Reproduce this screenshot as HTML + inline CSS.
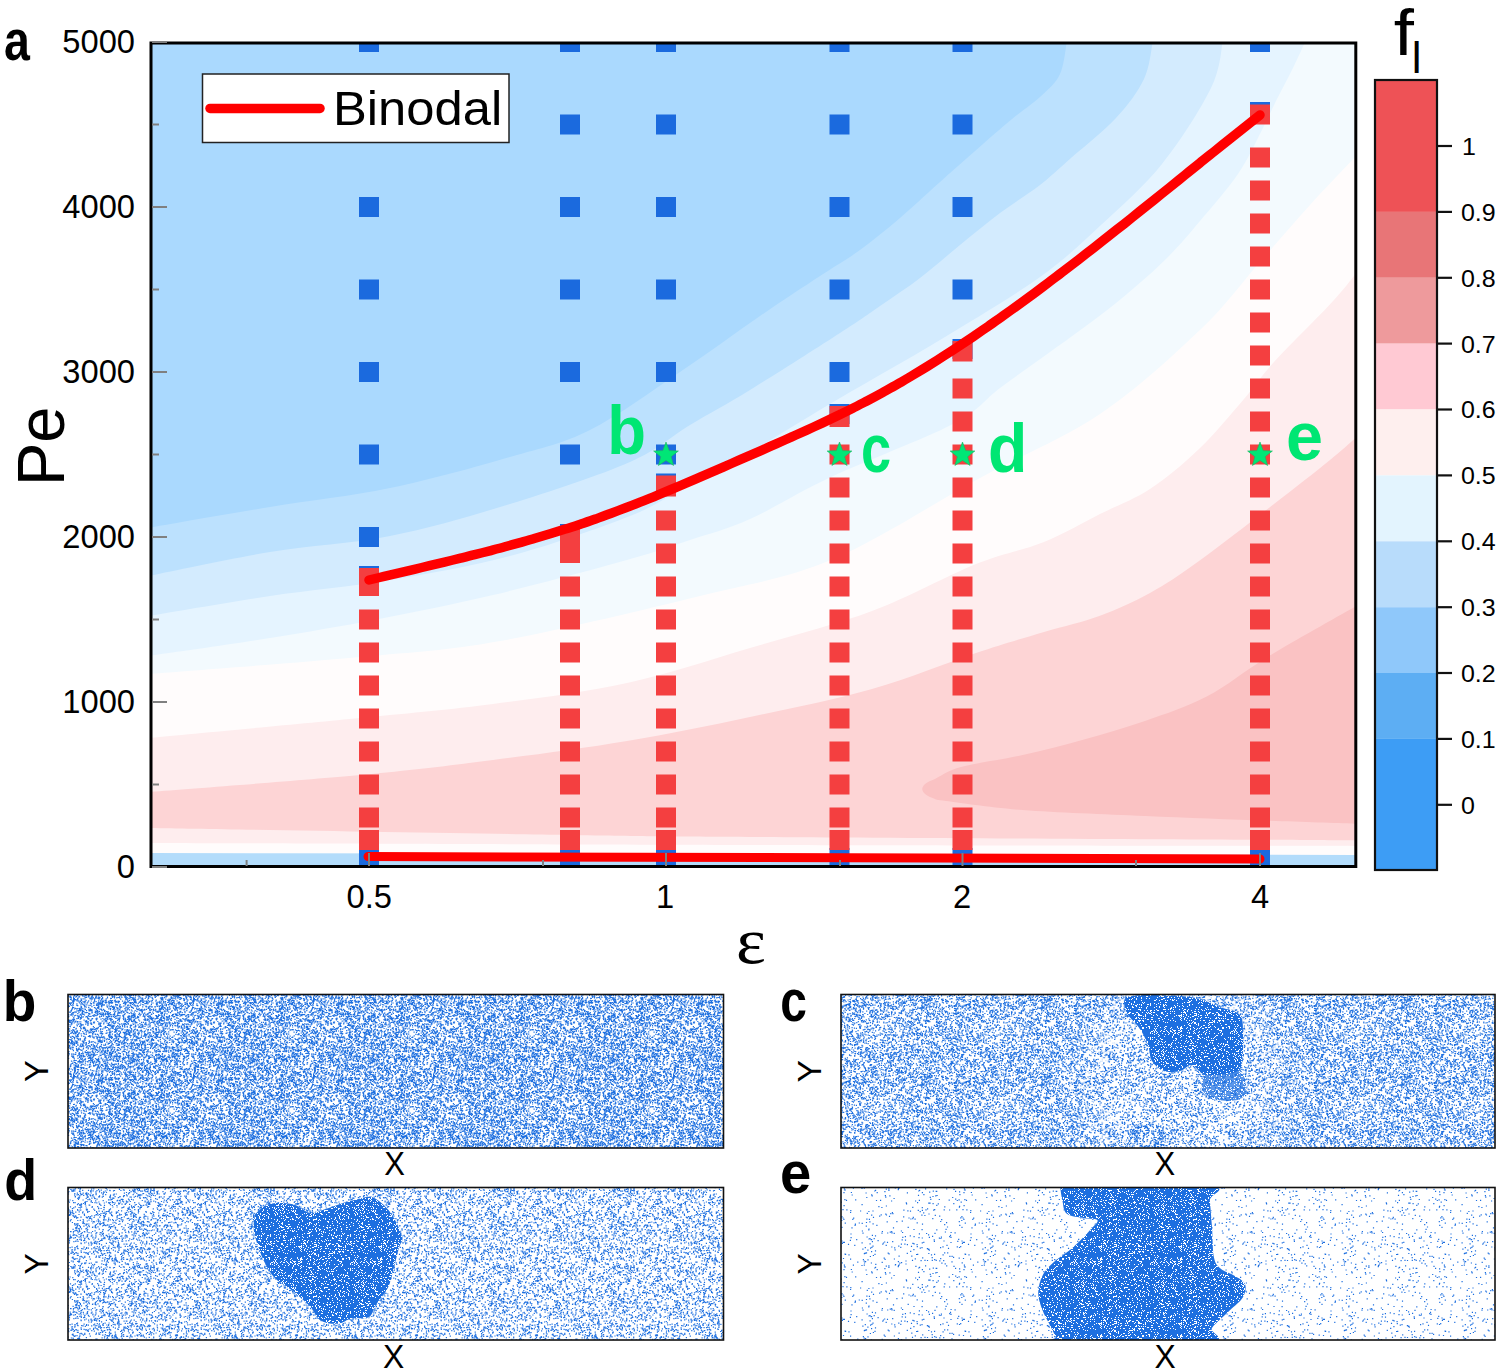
<!DOCTYPE html>
<html><head><meta charset="utf-8"><style>
html,body{margin:0;padding:0;background:#fff;}
body{width:1500px;height:1368px;position:relative;overflow:hidden;font-family:"Liberation Sans",sans-serif;}
</style></head><body>
<svg width="1500" height="1368" viewBox="0 0 1500 1368" style="position:absolute;left:0;top:0"><defs><clipPath id="plotclip"><rect x="151" y="43" width="1204" height="823"/></clipPath></defs><g clip-path="url(#plotclip)"><rect x="148" y="40" width="1212" height="830" fill="#aad9fe"/><path d="M148,528 C168.3,524.5 229.7,513.7 270,507 C310.3,500.3 350.0,496.3 390,488 C430.0,479.7 476.7,466.7 510,457 C543.3,447.3 561.7,444.2 590,430 C618.3,415.8 651.7,391.0 680,372 C708.3,353.0 736.7,332.0 760,316 C783.3,300.0 803.3,287.0 820,276 C836.7,265.0 846.7,259.7 860,250 C873.3,240.3 886.7,229.3 900,218 C913.3,206.7 922.3,197.7 940,182 C957.7,166.3 989.3,138.2 1006,124 C1022.7,109.8 1031.0,105.3 1040,97 C1049.0,88.7 1055.5,83.5 1060,74 C1064.5,64.5 1065.8,45.7 1067,40 L1360,40 L1360,870 L148,870 Z" fill="#bce1fe"/><path d="M148,576 C168.3,572.0 229.7,558.7 270,552 C310.3,545.3 350.0,544.0 390,536 C430.0,528.0 470.0,516.3 510,504 C550.0,491.7 600.0,475.2 630,462 C660.0,448.8 670.0,437.0 690,425 C710.0,413.0 725.0,405.3 750,390 C775.0,374.7 818.3,347.0 840,333 C861.7,319.0 866.7,315.2 880,306 C893.3,296.8 906.7,288.2 920,278 C933.3,267.8 946.7,255.8 960,245 C973.3,234.2 986.7,223.0 1000,213 C1013.3,203.0 1028.2,194.2 1040,185 C1051.8,175.8 1058.3,169.2 1071,158 C1083.7,146.8 1103.8,131.2 1116,118 C1128.2,104.8 1137.8,92.0 1144,79 C1150.2,66.0 1151.5,46.5 1153,40 L1360,40 L1360,870 L148,870 Z" fill="#d3ebfe"/><path d="M148,616 C168.3,612.7 229.7,602.0 270,596 C310.3,590.0 350.0,586.7 390,580 C430.0,573.3 470.0,566.7 510,556 C550.0,545.3 600.0,528.0 630,516 C660.0,504.0 670.0,494.7 690,484 C710.0,473.3 725.0,466.3 750,452 C775.0,437.7 808.3,416.7 840,398 C871.7,379.3 906.7,360.2 940,340 C973.3,319.8 1013.2,296.2 1040,277 C1066.8,257.8 1080.7,243.8 1101,225 C1121.3,206.2 1143.7,186.8 1162,164 C1180.3,141.2 1200.8,108.7 1211,88 C1221.2,67.3 1221.0,48.0 1223,40 L1360,40 L1360,870 L148,870 Z" fill="#e5f4ff"/><path d="M148,656 C168.3,653.0 231.5,644.2 270,638 C308.5,631.8 341.8,626.2 379,619 C416.2,611.8 451.7,604.8 493,595 C534.3,585.2 594.2,569.2 627,560 C659.8,550.8 669.5,546.8 690,540 C710.5,533.2 726.5,529.5 750,519 C773.5,508.5 797.2,492.8 831,477 C864.8,461.2 924.8,438.8 953,424 C981.2,409.2 983.8,400.0 1000,388 C1016.2,376.0 1035.0,362.8 1050,352 C1065.0,341.2 1077.2,332.7 1090,323 C1102.8,313.3 1114.2,304.8 1127,294 C1139.8,283.2 1154.8,270.2 1167,258 C1179.2,245.8 1188.2,235.0 1200,221 C1211.8,207.0 1227.7,189.2 1238,174 C1248.3,158.8 1255.5,142.5 1262,130 C1268.5,117.5 1271.8,109.3 1277,99 C1282.2,88.7 1288.2,77.8 1293,68 C1297.8,58.2 1303.8,44.7 1306,40 L1360,40 L1360,870 L148,870 Z" fill="#f3fafe"/><path d="M148,674 C183.3,671.2 301.3,662.5 360,657 C418.7,651.5 443.3,651.2 500,641 C556.7,630.8 644.5,609.7 700,596 C755.5,582.3 786.3,578.7 833,559 C879.7,539.3 935.5,502.2 980,478 C1024.5,453.8 1063.3,438.7 1100,414 C1136.7,389.3 1173.3,355.3 1200,330 C1226.7,304.7 1241.7,282.8 1260,262 C1278.3,241.2 1293.0,223.7 1310,205 C1327.0,186.3 1353.3,159.2 1362,150 L1360,870 L148,870 Z" fill="#fffcfc"/><path d="M148,738 C183.3,734.7 302.5,723.7 360,718 C417.5,712.3 448.5,709.8 493,704 C537.5,698.2 584.2,692.3 627,683 C669.8,673.7 709.2,660.0 750,648 C790.8,636.0 834.3,625.0 872,611 C909.7,597.0 947.3,575.5 976,564 C1004.7,552.5 1023.3,550.3 1044,542 C1064.7,533.7 1082.3,522.8 1100,514 C1117.7,505.2 1133.5,499.8 1150,489 C1166.5,478.2 1183.3,464.0 1199,449 C1214.7,434.0 1231.5,413.5 1244,399 C1256.5,384.5 1259.0,378.5 1274,362 C1289.0,345.5 1319.7,315.7 1334,300 C1348.3,284.3 1355.7,273.3 1360,268 L1360,870 L148,870 Z" fill="#feedee"/><path d="M148,792 C183.3,789.2 302.5,780.3 360,775 C417.5,769.7 448.5,765.7 493,760 C537.5,754.3 584.2,748.2 627,741 C669.8,733.8 709.2,725.7 750,717 C790.8,708.3 834.3,699.7 872,689 C909.7,678.3 947.3,662.5 976,653 C1004.7,643.5 1023.3,638.2 1044,632 C1064.7,625.8 1082.3,622.2 1100,615.7 C1117.7,609.2 1133.5,602.1 1150,593 C1166.5,583.9 1178.3,575.8 1199,561 C1219.7,546.2 1252.2,520.8 1274,504 C1295.8,487.2 1315.7,471.7 1330,460 C1344.3,448.3 1355.0,438.3 1360,434 L1360,870 L148,870 Z" fill="#fdd4d5"/><path d="M1360,604 C1344.7,612.8 1293.5,641.3 1268,656.7 C1242.5,672.1 1227.2,685.9 1206.7,696.6 C1186.2,707.3 1165.5,713.9 1145,721 C1124.5,728.1 1104.4,733.8 1084,739.5 C1063.6,745.2 1043.2,750.4 1022.7,755 C1002.2,759.6 975.6,763.0 961,767 C946.4,771.0 939.3,777.0 935,779 C918,785 918,793 935,799  C936.8,799.3 931.4,799.2 946,801 C960.6,802.8 989.5,807.5 1022.7,810 C1055.9,812.5 1104.1,814.2 1145,816 C1185.9,817.8 1232.2,819.5 1268,820.8 C1303.8,822.1 1344.7,823.5 1360,824 Z" fill="#fac2c3"/><path d="M148,828 C218.3,829.2 468.0,833.5 570,835 C672.0,836.5 638.3,836.2 760,837 C881.7,837.8 1200.0,839.5 1300,840 C1400.0,840.5 1350.0,840.0 1360,840 L1360,870 L148,870 Z" fill="#feedee"/><path d="M148,843 C250.0,843.3 558.0,844.5 760,845 C962.0,845.5 1260.0,845.8 1360,846 L1360,870 L148,870 Z" fill="#fffcfc"/><polygon points="148,853 1360,855 1360,870 148,870" fill="#b3dcfb"/><rect x="359" y="32.0" width="20" height="20" fill="#1b6ade"/><rect x="359" y="197.0" width="20" height="20" fill="#1b6ade"/><rect x="359" y="279.5" width="20" height="20" fill="#1b6ade"/><rect x="359" y="362.0" width="20" height="20" fill="#1b6ade"/><rect x="359" y="444.5" width="20" height="20" fill="#1b6ade"/><rect x="359" y="527.0" width="20" height="20" fill="#1b6ade"/><rect x="359" y="566" width="20" height="20" fill="#1b6ade"/><rect x="359" y="568" width="20" height="28" fill="#f43f40"/><rect x="359" y="609.5" width="20" height="20" fill="#f43f40"/><rect x="359" y="642.5" width="20" height="20" fill="#f43f40"/><rect x="359" y="675.5" width="20" height="20" fill="#f43f40"/><rect x="359" y="708.5" width="20" height="20" fill="#f43f40"/><rect x="359" y="741.5" width="20" height="20" fill="#f43f40"/><rect x="359" y="774.5" width="20" height="20" fill="#f43f40"/><rect x="359" y="807.5" width="20" height="20" fill="#f43f40"/><rect x="359" y="848" width="20" height="20" fill="#1b6ade"/><rect x="359" y="830" width="20" height="20" fill="#f43f40"/><rect x="560" y="32.0" width="20" height="20" fill="#1b6ade"/><rect x="560" y="114.5" width="20" height="20" fill="#1b6ade"/><rect x="560" y="197.0" width="20" height="20" fill="#1b6ade"/><rect x="560" y="279.5" width="20" height="20" fill="#1b6ade"/><rect x="560" y="362.0" width="20" height="20" fill="#1b6ade"/><rect x="560" y="444.5" width="20" height="20" fill="#1b6ade"/><rect x="560" y="524" width="20" height="20" fill="#1b6ade"/><rect x="560" y="526" width="20" height="37" fill="#f43f40"/><rect x="560" y="576.5" width="20" height="20" fill="#f43f40"/><rect x="560" y="609.5" width="20" height="20" fill="#f43f40"/><rect x="560" y="642.5" width="20" height="20" fill="#f43f40"/><rect x="560" y="675.5" width="20" height="20" fill="#f43f40"/><rect x="560" y="708.5" width="20" height="20" fill="#f43f40"/><rect x="560" y="741.5" width="20" height="20" fill="#f43f40"/><rect x="560" y="774.5" width="20" height="20" fill="#f43f40"/><rect x="560" y="807.5" width="20" height="20" fill="#f43f40"/><rect x="560" y="848" width="20" height="20" fill="#1b6ade"/><rect x="560" y="830" width="20" height="20" fill="#f43f40"/><rect x="656" y="32.0" width="20" height="20" fill="#1b6ade"/><rect x="656" y="114.5" width="20" height="20" fill="#1b6ade"/><rect x="656" y="197.0" width="20" height="20" fill="#1b6ade"/><rect x="656" y="279.5" width="20" height="20" fill="#1b6ade"/><rect x="656" y="362.0" width="20" height="20" fill="#1b6ade"/><rect x="656" y="444.5" width="20" height="20" fill="#1b6ade"/><rect x="656" y="473.5" width="20" height="20" fill="#1b6ade"/><rect x="656" y="475.5" width="20" height="21.0" fill="#f43f40"/><rect x="656" y="510.5" width="20" height="20" fill="#f43f40"/><rect x="656" y="543.5" width="20" height="20" fill="#f43f40"/><rect x="656" y="576.5" width="20" height="20" fill="#f43f40"/><rect x="656" y="609.5" width="20" height="20" fill="#f43f40"/><rect x="656" y="642.5" width="20" height="20" fill="#f43f40"/><rect x="656" y="675.5" width="20" height="20" fill="#f43f40"/><rect x="656" y="708.5" width="20" height="20" fill="#f43f40"/><rect x="656" y="741.5" width="20" height="20" fill="#f43f40"/><rect x="656" y="774.5" width="20" height="20" fill="#f43f40"/><rect x="656" y="807.5" width="20" height="20" fill="#f43f40"/><rect x="656" y="848" width="20" height="20" fill="#1b6ade"/><rect x="656" y="830" width="20" height="20" fill="#f43f40"/><rect x="829.5" y="32.0" width="20" height="20" fill="#1b6ade"/><rect x="829.5" y="114.5" width="20" height="20" fill="#1b6ade"/><rect x="829.5" y="197.0" width="20" height="20" fill="#1b6ade"/><rect x="829.5" y="279.5" width="20" height="20" fill="#1b6ade"/><rect x="829.5" y="362.0" width="20" height="20" fill="#1b6ade"/><rect x="829.5" y="404" width="20" height="20" fill="#1b6ade"/><rect x="829.5" y="406" width="20" height="21" fill="#f43f40"/><rect x="829.5" y="444.5" width="20" height="20" fill="#f43f40"/><rect x="829.5" y="477.5" width="20" height="20" fill="#f43f40"/><rect x="829.5" y="510.5" width="20" height="20" fill="#f43f40"/><rect x="829.5" y="543.5" width="20" height="20" fill="#f43f40"/><rect x="829.5" y="576.5" width="20" height="20" fill="#f43f40"/><rect x="829.5" y="609.5" width="20" height="20" fill="#f43f40"/><rect x="829.5" y="642.5" width="20" height="20" fill="#f43f40"/><rect x="829.5" y="675.5" width="20" height="20" fill="#f43f40"/><rect x="829.5" y="708.5" width="20" height="20" fill="#f43f40"/><rect x="829.5" y="741.5" width="20" height="20" fill="#f43f40"/><rect x="829.5" y="774.5" width="20" height="20" fill="#f43f40"/><rect x="829.5" y="807.5" width="20" height="20" fill="#f43f40"/><rect x="829.5" y="848" width="20" height="20" fill="#1b6ade"/><rect x="829.5" y="830" width="20" height="20" fill="#f43f40"/><rect x="952.5" y="32.0" width="20" height="20" fill="#1b6ade"/><rect x="952.5" y="114.5" width="20" height="20" fill="#1b6ade"/><rect x="952.5" y="197.0" width="20" height="20" fill="#1b6ade"/><rect x="952.5" y="279.5" width="20" height="20" fill="#1b6ade"/><rect x="952.5" y="339" width="20" height="20" fill="#1b6ade"/><rect x="952.5" y="341" width="20" height="20.5" fill="#f43f40"/><rect x="952.5" y="378.5" width="20" height="20" fill="#f43f40"/><rect x="952.5" y="411.5" width="20" height="20" fill="#f43f40"/><rect x="952.5" y="444.5" width="20" height="20" fill="#f43f40"/><rect x="952.5" y="477.5" width="20" height="20" fill="#f43f40"/><rect x="952.5" y="510.5" width="20" height="20" fill="#f43f40"/><rect x="952.5" y="543.5" width="20" height="20" fill="#f43f40"/><rect x="952.5" y="576.5" width="20" height="20" fill="#f43f40"/><rect x="952.5" y="609.5" width="20" height="20" fill="#f43f40"/><rect x="952.5" y="642.5" width="20" height="20" fill="#f43f40"/><rect x="952.5" y="675.5" width="20" height="20" fill="#f43f40"/><rect x="952.5" y="708.5" width="20" height="20" fill="#f43f40"/><rect x="952.5" y="741.5" width="20" height="20" fill="#f43f40"/><rect x="952.5" y="774.5" width="20" height="20" fill="#f43f40"/><rect x="952.5" y="807.5" width="20" height="20" fill="#f43f40"/><rect x="952.5" y="848" width="20" height="20" fill="#1b6ade"/><rect x="952.5" y="830" width="20" height="20" fill="#f43f40"/><rect x="1250" y="32.0" width="20" height="20" fill="#1b6ade"/><rect x="1250" y="102" width="20" height="20" fill="#1b6ade"/><rect x="1250" y="104.5" width="20" height="20.0" fill="#f43f40"/><rect x="1250" y="147.5" width="20" height="20" fill="#f43f40"/><rect x="1250" y="180.5" width="20" height="20" fill="#f43f40"/><rect x="1250" y="213.5" width="20" height="20" fill="#f43f40"/><rect x="1250" y="246.5" width="20" height="20" fill="#f43f40"/><rect x="1250" y="279.5" width="20" height="20" fill="#f43f40"/><rect x="1250" y="312.5" width="20" height="20" fill="#f43f40"/><rect x="1250" y="345.5" width="20" height="20" fill="#f43f40"/><rect x="1250" y="378.5" width="20" height="20" fill="#f43f40"/><rect x="1250" y="411.5" width="20" height="20" fill="#f43f40"/><rect x="1250" y="444.5" width="20" height="20" fill="#f43f40"/><rect x="1250" y="477.5" width="20" height="20" fill="#f43f40"/><rect x="1250" y="510.5" width="20" height="20" fill="#f43f40"/><rect x="1250" y="543.5" width="20" height="20" fill="#f43f40"/><rect x="1250" y="576.5" width="20" height="20" fill="#f43f40"/><rect x="1250" y="609.5" width="20" height="20" fill="#f43f40"/><rect x="1250" y="642.5" width="20" height="20" fill="#f43f40"/><rect x="1250" y="675.5" width="20" height="20" fill="#f43f40"/><rect x="1250" y="708.5" width="20" height="20" fill="#f43f40"/><rect x="1250" y="741.5" width="20" height="20" fill="#f43f40"/><rect x="1250" y="774.5" width="20" height="20" fill="#f43f40"/><rect x="1250" y="807.5" width="20" height="20" fill="#f43f40"/><rect x="1250" y="848" width="20" height="20" fill="#1b6ade"/><rect x="1250" y="830" width="20" height="20" fill="#f43f40"/></g><path d="M369.0,580.0 C371.5,579.4 379.1,577.6 384.1,576.4 C389.1,575.2 394.2,574.1 399.2,572.9 C404.2,571.7 409.3,570.5 414.3,569.3 C419.3,568.1 424.4,566.9 429.4,565.7 C434.4,564.5 439.5,563.3 444.5,562.1 C449.5,560.9 454.6,559.6 459.6,558.4 C464.6,557.2 469.7,556.0 474.7,554.7 C479.7,553.4 484.8,552.1 489.8,550.8 C494.8,549.5 499.9,548.2 504.9,546.8 C509.9,545.4 515.0,544.0 520.0,542.6 C525.0,541.2 530.1,539.8 535.1,538.3 C540.1,536.8 545.2,535.3 550.2,533.8 C555.2,532.3 560.3,530.7 565.3,529.1 C570.3,527.5 575.4,525.9 580.4,524.2 C585.4,522.5 590.5,520.8 595.5,519.0 C600.5,517.2 605.6,515.4 610.6,513.5 C615.6,511.6 620.7,509.7 625.7,507.8 C630.7,505.9 635.8,503.9 640.8,501.9 C645.8,499.9 650.9,497.9 655.9,495.8 C660.9,493.7 666.0,491.6 671.0,489.5 C676.0,487.4 681.1,485.2 686.1,483.1 C691.1,481.0 696.2,478.8 701.2,476.6 C706.2,474.4 711.3,472.3 716.3,470.1 C721.3,467.9 726.4,465.7 731.4,463.5 C736.4,461.3 741.5,459.1 746.5,456.9 C751.5,454.7 756.6,452.5 761.6,450.3 C766.6,448.1 771.7,445.8 776.7,443.6 C781.7,441.4 786.8,439.1 791.8,436.9 C796.8,434.6 801.8,432.4 806.9,430.1 C812.0,427.8 817.0,425.5 822.1,423.1 C827.2,420.7 832.2,418.3 837.2,415.9 C842.2,413.5 847.3,411.0 852.3,408.5 C857.3,406.0 862.4,403.3 867.4,400.7 C872.4,398.1 877.5,395.4 882.5,392.6 C887.5,389.8 892.6,387.0 897.6,384.1 C902.6,381.2 907.7,378.3 912.7,375.3 C917.7,372.3 922.8,369.2 927.8,366.1 C932.8,363.0 937.9,359.8 942.9,356.6 C947.9,353.4 953.0,350.1 958.0,346.8 C963.0,343.5 968.1,340.1 973.1,336.7 C978.1,333.3 983.2,329.8 988.2,326.3 C993.2,322.8 998.3,319.3 1003.3,315.7 C1008.3,312.1 1013.4,308.4 1018.4,304.8 C1023.4,301.2 1028.5,297.5 1033.5,293.8 C1038.5,290.1 1043.6,286.3 1048.6,282.5 C1053.6,278.7 1058.7,274.9 1063.7,271.0 C1068.7,267.1 1073.8,263.3 1078.8,259.4 C1083.8,255.5 1088.9,251.6 1093.9,247.7 C1098.9,243.8 1104.0,239.8 1109.0,235.8 C1114.0,231.8 1119.1,227.9 1124.1,223.9 C1129.1,219.9 1134.2,215.8 1139.2,211.8 C1144.2,207.8 1149.3,203.7 1154.3,199.7 C1159.3,195.7 1164.4,191.6 1169.4,187.6 C1174.4,183.6 1179.5,179.5 1184.5,175.4 C1189.5,171.3 1194.6,167.2 1199.6,163.2 C1204.6,159.1 1209.7,155.1 1214.7,151.1 C1219.7,147.1 1224.8,143.0 1229.8,139.0 C1234.8,135.0 1239.9,131.0 1244.9,127.0 C1249.9,123.0 1257.5,117.0 1260.0,115.0" fill="none" stroke="#ff0000" stroke-width="9.5" stroke-linecap="round" stroke-linejoin="round"/><line x1="368" y1="856.5" x2="1260" y2="859" stroke="#ff0000" stroke-width="9" stroke-linecap="round"/><polygon points="666.0,442.0 669.2,450.6 678.4,451.0 671.2,456.7 673.6,465.5 666.0,460.5 658.4,465.5 660.8,456.7 653.6,451.0 662.8,450.6" fill="#00e676" stroke="#22b060" stroke-width="0.6"/><polygon points="839.5,442.0 842.7,450.6 851.9,451.0 844.7,456.7 847.1,465.5 839.5,460.5 831.9,465.5 834.3,456.7 827.1,451.0 836.3,450.6" fill="#00e676" stroke="#22b060" stroke-width="0.6"/><polygon points="962.5,442.0 965.7,450.6 974.9,451.0 967.7,456.7 970.1,465.5 962.5,460.5 954.9,465.5 957.3,456.7 950.1,451.0 959.3,450.6" fill="#00e676" stroke="#22b060" stroke-width="0.6"/><polygon points="1260.0,442.0 1263.2,450.6 1272.4,451.0 1265.2,456.7 1267.6,465.5 1260.0,460.5 1252.4,465.5 1254.8,456.7 1247.6,451.0 1256.8,450.6" fill="#00e676" stroke="#22b060" stroke-width="0.6"/><rect x="151" y="43" width="1204.8" height="823.5" fill="none" stroke="#000" stroke-width="3"/><line x1="152" y1="867.0" x2="167" y2="867.0" stroke="#808080" stroke-width="2"/><line x1="152" y1="784.5" x2="159" y2="784.5" stroke="#808080" stroke-width="2"/><line x1="152" y1="702.0" x2="167" y2="702.0" stroke="#808080" stroke-width="2"/><line x1="152" y1="619.5" x2="159" y2="619.5" stroke="#808080" stroke-width="2"/><line x1="152" y1="537.0" x2="167" y2="537.0" stroke="#808080" stroke-width="2"/><line x1="152" y1="454.5" x2="159" y2="454.5" stroke="#808080" stroke-width="2"/><line x1="152" y1="372.0" x2="167" y2="372.0" stroke="#808080" stroke-width="2"/><line x1="152" y1="289.5" x2="159" y2="289.5" stroke="#808080" stroke-width="2"/><line x1="152" y1="207.0" x2="167" y2="207.0" stroke="#808080" stroke-width="2"/><line x1="152" y1="124.5" x2="159" y2="124.5" stroke="#808080" stroke-width="2"/><line x1="152" y1="42.0" x2="167" y2="42.0" stroke="#808080" stroke-width="2"/><line x1="246.6" y1="866" x2="246.6" y2="860" stroke="#808080" stroke-width="2"/><line x1="369" y1="866" x2="369" y2="853" stroke="#808080" stroke-width="2"/><line x1="543" y1="866" x2="543" y2="860" stroke="#808080" stroke-width="2"/><line x1="666" y1="866" x2="666" y2="853" stroke="#808080" stroke-width="2"/><line x1="840" y1="866" x2="840" y2="860" stroke="#808080" stroke-width="2"/><line x1="962.5" y1="866" x2="962.5" y2="853" stroke="#808080" stroke-width="2"/><line x1="1136" y1="866" x2="1136" y2="860" stroke="#808080" stroke-width="2"/><line x1="1260" y1="866" x2="1260" y2="853" stroke="#808080" stroke-width="2"/><rect x="202.5" y="74" width="306.5" height="68.5" fill="#fff" stroke="#222" stroke-width="1.5"/><line x1="210" y1="108.4" x2="320" y2="108.4" stroke="#ff0000" stroke-width="9.5" stroke-linecap="round"/><rect x="1375" y="80.0" width="62" height="131.9" fill="#ee5256"/><rect x="1375" y="211.9" width="62" height="65.9" fill="#e87577"/><rect x="1375" y="277.8" width="62" height="65.9" fill="#ee9a9c"/><rect x="1375" y="343.6" width="62" height="65.9" fill="#ffc9d3"/><rect x="1375" y="409.5" width="62" height="65.9" fill="#feefee"/><rect x="1375" y="475.4" width="62" height="65.9" fill="#e3f4fe"/><rect x="1375" y="541.3" width="62" height="65.9" fill="#b8dcfb"/><rect x="1375" y="607.2" width="62" height="65.9" fill="#8fc8fa"/><rect x="1375" y="673.0" width="62" height="65.9" fill="#5daef3"/><rect x="1375" y="738.9" width="62" height="131.1" fill="#3d9df5"/><rect x="1375" y="80" width="62" height="790" fill="none" stroke="#111" stroke-width="2.2"/><line x1="1437" y1="146.0" x2="1452" y2="146.0" stroke="#111" stroke-width="2.2"/><line x1="1437" y1="211.9" x2="1452" y2="211.9" stroke="#111" stroke-width="2.2"/><line x1="1437" y1="277.8" x2="1452" y2="277.8" stroke="#111" stroke-width="2.2"/><line x1="1437" y1="343.6" x2="1452" y2="343.6" stroke="#111" stroke-width="2.2"/><line x1="1437" y1="409.5" x2="1452" y2="409.5" stroke="#111" stroke-width="2.2"/><line x1="1437" y1="475.4" x2="1452" y2="475.4" stroke="#111" stroke-width="2.2"/><line x1="1437" y1="541.3" x2="1452" y2="541.3" stroke="#111" stroke-width="2.2"/><line x1="1437" y1="607.2" x2="1452" y2="607.2" stroke="#111" stroke-width="2.2"/><line x1="1437" y1="673.0" x2="1452" y2="673.0" stroke="#111" stroke-width="2.2"/><line x1="1437" y1="738.9" x2="1452" y2="738.9" stroke="#111" stroke-width="2.2"/><line x1="1437" y1="804.8" x2="1452" y2="804.8" stroke="#111" stroke-width="2.2"/></svg>
<svg width="1500" height="1368" style="position:absolute;left:0;top:0"><defs><pattern id="patb" width="120" height="77" patternUnits="userSpaceOnUse"><path transform="scale(0.1)" d="M1132 570h12v12h-12zM431 581h12v12h-12zM942 595h12v12h-12zM710 220h12v12h-12zM353 766h12v12h-12zM353 -4h12v12h-12zM1107 494h12v12h-12zM1043 531h12v12h-12zM437 700h12v12h-12zM1168 698h12v12h-12zM269 174h12v12h-12zM967 509h12v12h-12zM817 594h12v12h-12zM565 380h12v12h-12zM37 321h12v12h-12zM1074 589h12v12h-12zM688 401h12v12h-12zM468 86h12v12h-12zM426 266h12v12h-12zM782 159h12v12h-12zM416 679h12v12h-12zM609 486h12v12h-12zM445 391h12v12h-12zM66 80h12v12h-12zM300 435h12v12h-12zM1009 630h12v12h-12zM982 53h12v12h-12zM801 436h12v12h-12zM565 609h12v12h-12zM1164 30h12v12h-12zM1008 743h12v12h-12zM294 349h12v12h-12zM681 457h12v12h-12zM1147 508h12v12h-12zM943 641h12v12h-12zM443 312h12v12h-12zM564 78h12v12h-12zM621 613h12v12h-12zM1082 125h12v12h-12zM857 461h12v12h-12zM478 29h12v12h-12zM554 128h12v12h-12zM111 654h12v12h-12zM590 567h12v12h-12zM275 12h12v12h-12zM112 519h12v12h-12zM110 238h12v12h-12zM259 529h12v12h-12zM839 687h12v12h-12zM215 106h12v12h-12zM682 42h12v12h-12zM723 280h12v12h-12zM1160 556h12v12h-12zM550 521h12v12h-12zM929 313h12v12h-12zM42 255h12v12h-12zM774 695h12v12h-12zM1176 653h12v12h-12zM57 229h12v12h-12zM1089 584h12v12h-12zM187 603h12v12h-12zM810 343h12v12h-12zM30 706h12v12h-12zM74 36h12v12h-12zM162 533h12v12h-12zM1082 271h12v12h-12zM939 300h12v12h-12zM794 616h12v12h-12zM779 325h12v12h-12zM353 528h12v12h-12zM634 635h12v12h-12zM578 430h12v12h-12zM1141 131h12v12h-12zM545 371h12v12h-12zM896 507h12v12h-12zM430 1h12v12h-12zM1111 572h12v12h-12zM1023 689h12v12h-12zM1190 52h12v12h-12zM-10 52h12v12h-12zM272 587h12v12h-12zM1044 90h12v12h-12zM572 212h12v12h-12zM611 138h12v12h-12zM650 326h12v12h-12zM110 164h12v12h-12zM1057 516h12v12h-12zM725 604h12v12h-12zM126 326h12v12h-12zM887 566h12v12h-12zM136 146h12v12h-12zM457 431h12v12h-12zM803 33h12v12h-12zM558 446h12v12h-12zM78 549h12v12h-12zM747 652h12v12h-12zM440 167h12v12h-12zM458 455h12v12h-12zM196 421h12v12h-12zM221 53h12v12h-12zM1192 469h12v12h-12zM-8 469h12v12h-12zM725 5h12v12h-12zM705 381h12v12h-12zM937 281h12v12h-12zM460 586h12v12h-12zM185 7h12v12h-12zM729 196h12v12h-12zM486 363h12v12h-12zM484 474h12v12h-12zM105 572h12v12h-12zM505 488h12v12h-12zM62 291h12v12h-12zM1082 137h12v12h-12zM450 299h12v12h-12zM858 671h12v12h-12zM706 674h12v12h-12zM528 38h12v12h-12zM406 622h12v12h-12zM38 234h12v12h-12zM786 6h12v12h-12zM119 29h12v12h-12zM282 555h12v12h-12zM1151 765h12v12h-12zM1151 -5h12v12h-12zM451 579h12v12h-12zM435 616h12v12h-12zM828 259h12v12h-12zM324 388h12v12h-12zM442 212h12v12h-12zM369 197h12v12h-12zM834 688h12v12h-12zM93 650h12v12h-12zM457 40h12v12h-12zM1197 251h12v12h-12zM-3 251h12v12h-12zM769 200h12v12h-12zM570 632h12v12h-12zM347 728h12v12h-12zM27 558h12v12h-12zM1091 296h12v12h-12zM1105 767h12v12h-12zM1105 -3h12v12h-12zM1174 138h12v12h-12zM575 553h12v12h-12zM712 290h12v12h-12zM347 595h12v12h-12zM994 612h12v12h-12zM699 749h12v12h-12zM356 290h12v12h-12zM354 309h12v12h-12zM427 14h12v12h-12zM805 225h12v12h-12zM923 503h12v12h-12zM124 120h12v12h-12zM1115 628h12v12h-12zM904 310h12v12h-12zM966 95h12v12h-12zM237 435h12v12h-12zM171 160h12v12h-12zM881 171h12v12h-12zM1127 456h12v12h-12zM416 527h12v12h-12zM120 592h12v12h-12zM392 571h12v12h-12zM1005 76h12v12h-12zM989 383h12v12h-12zM281 726h12v12h-12zM186 523h12v12h-12zM595 446h12v12h-12zM385 241h12v12h-12zM1021 320h12v12h-12zM558 522h12v12h-12zM272 746h12v12h-12zM517 455h12v12h-12zM267 185h12v12h-12zM845 24h12v12h-12zM1166 729h12v12h-12zM730 737h12v12h-12zM285 309h12v12h-12zM974 57h12v12h-12zM438 292h12v12h-12zM106 753h12v12h-12zM184 437h12v12h-12zM445 103h12v12h-12zM1002 272h12v12h-12zM272 24h12v12h-12zM939 596h12v12h-12zM99 10h12v12h-12zM1008 306h12v12h-12zM858 489h12v12h-12zM106 51h12v12h-12zM51 313h12v12h-12zM302 461h12v12h-12zM215 91h12v12h-12zM777 168h12v12h-12zM565 123h12v12h-12zM688 106h12v12h-12zM342 573h12v12h-12zM1174 395h12v12h-12zM123 519h12v12h-12zM796 445h12v12h-12zM638 761h12v12h-12zM638 -9h12v12h-12zM1188 225h12v12h-12zM1146 349h12v12h-12zM576 9h12v12h-12zM538 606h12v12h-12zM428 320h12v12h-12zM206 483h12v12h-12zM818 111h12v12h-12zM1064 665h12v12h-12zM571 653h12v12h-12zM1101 359h12v12h-12zM294 315h12v12h-12zM320 538h12v12h-12zM1146 200h12v12h-12zM1103 268h12v12h-12zM615 437h12v12h-12zM661 394h12v12h-12zM424 756h12v12h-12zM34 457h12v12h-12zM450 1h12v12h-12zM1182 437h12v12h-12zM610 258h12v12h-12zM969 361h12v12h-12zM193 2h12v12h-12zM881 296h12v12h-12zM708 93h12v12h-12zM1184 550h12v12h-12zM374 387h12v12h-12zM560 582h12v12h-12zM326 313h12v12h-12zM885 659h12v12h-12zM82 201h12v12h-12zM878 464h12v12h-12zM1001 397h12v12h-12zM298 312h12v12h-12zM430 328h12v12h-12zM415 711h12v12h-12zM1052 650h12v12h-12zM187 115h12v12h-12zM1097 109h12v12h-12zM111 709h12v12h-12zM44 282h12v12h-12zM974 263h12v12h-12zM78 223h12v12h-12zM682 148h12v12h-12zM621 281h12v12h-12zM1063 8h12v12h-12zM809 342h12v12h-12zM1179 377h12v12h-12zM818 396h12v12h-12zM401 553h12v12h-12zM1125 257h12v12h-12zM95 339h12v12h-12zM819 101h12v12h-12zM130 585h12v12h-12zM215 298h12v12h-12zM464 123h12v12h-12zM600 71h12v12h-12zM64 8h12v12h-12zM487 223h12v12h-12zM644 478h12v12h-12zM335 560h12v12h-12zM487 575h12v12h-12zM935 606h12v12h-12zM229 576h12v12h-12zM371 151h12v12h-12zM331 299h12v12h-12zM299 150h12v12h-12zM45 369h12v12h-12zM1148 5h12v12h-12zM610 739h12v12h-12zM392 767h12v12h-12zM392 -3h12v12h-12zM1057 151h12v12h-12zM26 497h12v12h-12zM127 749h12v12h-12zM23 583h12v12h-12zM37 438h12v12h-12zM3 59h12v12h-12zM730 430h12v12h-12zM861 192h12v12h-12zM425 293h12v12h-12zM1114 205h12v12h-12zM907 764h12v12h-12zM907 -6h12v12h-12zM1186 665h12v12h-12zM922 502h12v12h-12zM627 698h12v12h-12zM67 63h12v12h-12zM144 140h12v12h-12zM392 640h12v12h-12zM163 464h12v12h-12zM765 489h12v12h-12zM83 595h12v12h-12zM651 472h12v12h-12zM436 333h12v12h-12zM461 156h12v12h-12zM95 719h12v12h-12zM863 451h12v12h-12zM917 469h12v12h-12zM383 554h12v12h-12zM452 745h12v12h-12zM831 445h12v12h-12zM158 493h12v12h-12zM737 258h12v12h-12zM411 607h12v12h-12zM841 767h12v12h-12zM841 -3h12v12h-12zM763 170h12v12h-12zM374 532h12v12h-12zM336 200h12v12h-12zM470 663h12v12h-12zM355 434h12v12h-12zM911 745h12v12h-12zM949 502h12v12h-12zM595 446h12v12h-12zM284 620h12v12h-12zM591 292h12v12h-12zM908 430h12v12h-12zM655 558h12v12h-12zM19 765h12v12h-12zM19 -5h12v12h-12zM105 566h12v12h-12zM461 689h12v12h-12zM1011 702h12v12h-12zM513 537h12v12h-12zM748 687h12v12h-12zM677 507h12v12h-12zM97 684h12v12h-12zM573 331h12v12h-12zM518 588h12v12h-12zM550 744h12v12h-12zM1093 147h12v12h-12zM359 249h12v12h-12zM1173 688h12v12h-12zM566 570h12v12h-12zM573 553h12v12h-12zM855 205h12v12h-12zM573 234h12v12h-12zM71 39h12v12h-12zM675 194h12v12h-12zM104 108h12v12h-12zM1115 50h12v12h-12zM374 6h12v12h-12zM1120 627h12v12h-12zM622 47h12v12h-12zM938 526h12v12h-12zM608 245h12v12h-12zM253 220h12v12h-12zM1196 72h12v12h-12zM-4 72h12v12h-12zM761 470h12v12h-12zM541 645h12v12h-12zM1128 195h12v12h-12zM668 422h12v12h-12zM488 760h12v12h-12zM488 -10h12v12h-12zM238 511h12v12h-12zM400 357h12v12h-12zM974 70h12v12h-12zM194 552h12v12h-12zM555 139h12v12h-12zM771 432h12v12h-12zM533 9h12v12h-12zM479 758h12v12h-12zM44 718h12v12h-12zM979 601h12v12h-12zM89 423h12v12h-12zM519 402h12v12h-12zM101 246h12v12h-12zM377 702h12v12h-12zM937 541h12v12h-12zM1110 480h12v12h-12zM48 175h12v12h-12zM361 342h12v12h-12zM826 399h12v12h-12zM446 272h12v12h-12zM1185 77h12v12h-12zM171 37h12v12h-12zM165 548h12v12h-12zM874 173h12v12h-12zM833 98h12v12h-12zM1124 555h12v12h-12zM89 336h12v12h-12zM20 250h12v12h-12zM154 6h12v12h-12zM1106 184h12v12h-12zM521 19h12v12h-12zM515 18h12v12h-12zM324 354h12v12h-12zM234 180h12v12h-12zM140 177h12v12h-12zM904 270h12v12h-12zM52 376h12v12h-12zM889 405h12v12h-12zM601 489h12v12h-12zM217 415h12v12h-12zM275 317h12v12h-12zM52 746h12v12h-12zM1011 392h12v12h-12zM716 619h12v12h-12zM882 176h12v12h-12zM647 181h12v12h-12zM72 111h12v12h-12zM853 154h12v12h-12zM1067 178h12v12h-12zM317 205h12v12h-12zM468 367h12v12h-12zM1190 733h12v12h-12zM-10 733h12v12h-12zM741 360h12v12h-12zM157 378h12v12h-12zM209 446h12v12h-12zM309 386h12v12h-12zM1113 13h12v12h-12zM970 90h12v12h-12zM20 652h12v12h-12zM675 409h12v12h-12zM240 435h12v12h-12zM300 346h12v12h-12zM633 413h12v12h-12zM231 487h12v12h-12zM824 583h12v12h-12zM46 181h12v12h-12zM38 385h12v12h-12zM347 706h12v12h-12zM111 446h12v12h-12zM1026 648h12v12h-12zM923 527h12v12h-12zM672 265h12v12h-12zM881 763h12v12h-12zM881 -7h12v12h-12zM12 460h12v12h-12zM287 52h12v12h-12zM622 171h12v12h-12zM965 173h12v12h-12zM709 312h12v12h-12zM397 101h12v12h-12zM300 557h12v12h-12zM1031 128h12v12h-12zM668 188h12v12h-12zM1024 574h12v12h-12zM124 157h12v12h-12zM963 673h12v12h-12zM83 576h12v12h-12zM421 190h12v12h-12zM481 325h12v12h-12zM78 148h12v12h-12zM1115 15h12v12h-12zM499 591h12v12h-12zM78 641h12v12h-12zM829 466h12v12h-12zM402 633h12v12h-12zM719 302h12v12h-12zM800 565h12v12h-12zM1165 143h12v12h-12zM691 298h12v12h-12zM771 370h12v12h-12zM1152 169h12v12h-12zM388 528h12v12h-12zM399 736h12v12h-12zM854 757h12v12h-12zM773 120h12v12h-12zM395 305h12v12h-12zM1121 501h12v12h-12zM1173 688h12v12h-12zM1194 163h12v12h-12zM-6 163h12v12h-12zM836 10h12v12h-12zM997 361h12v12h-12zM1081 669h12v12h-12zM720 682h12v12h-12zM1086 352h12v12h-12zM661 491h12v12h-12zM390 15h12v12h-12zM623 265h12v12h-12zM193 479h12v12h-12zM1167 390h12v12h-12zM193 385h12v12h-12zM400 403h12v12h-12zM150 581h12v12h-12zM995 536h12v12h-12zM892 121h12v12h-12zM1015 91h12v12h-12zM1108 43h12v12h-12zM939 60h12v12h-12zM721 3h12v12h-12zM836 664h12v12h-12zM1020 33h12v12h-12zM191 719h12v12h-12zM276 69h12v12h-12zM695 464h12v12h-12zM570 733h12v12h-12zM1121 700h12v12h-12zM397 40h12v12h-12zM83 560h12v12h-12zM342 52h12v12h-12zM214 248h12v12h-12zM510 725h12v12h-12zM127 603h12v12h-12zM746 662h12v12h-12zM465 407h12v12h-12zM274 459h12v12h-12zM1065 646h12v12h-12zM1186 108h12v12h-12zM822 299h12v12h-12zM128 185h12v12h-12zM631 319h12v12h-12zM840 722h12v12h-12zM561 289h12v12h-12zM202 235h12v12h-12zM416 71h12v12h-12zM1074 159h12v12h-12zM49 86h12v12h-12zM62 523h12v12h-12zM837 325h12v12h-12zM995 537h12v12h-12zM740 709h12v12h-12zM1081 378h12v12h-12zM616 26h12v12h-12zM780 477h12v12h-12zM518 215h12v12h-12zM950 626h12v12h-12zM42 682h12v12h-12zM470 345h12v12h-12zM435 190h12v12h-12zM131 549h12v12h-12zM574 709h12v12h-12zM894 84h12v12h-12zM178 661h12v12h-12zM1193 227h12v12h-12zM-7 227h12v12h-12zM240 155h12v12h-12zM1081 768h12v12h-12zM1081 -2h12v12h-12zM23 272h12v12h-12zM612 466h12v12h-12zM74 375h12v12h-12zM353 424h12v12h-12zM967 135h12v12h-12zM731 758h12v12h-12zM1069 605h12v12h-12zM586 2h12v12h-12zM131 599h12v12h-12zM92 171h12v12h-12zM635 586h12v12h-12zM1102 308h12v12h-12zM1183 140h12v12h-12zM902 524h12v12h-12zM84 500h12v12h-12zM209 580h12v12h-12zM759 417h12v12h-12zM706 424h12v12h-12zM1093 171h12v12h-12zM579 497h12v12h-12zM332 458h12v12h-12zM144 37h12v12h-12zM902 645h12v12h-12zM1088 582h12v12h-12zM874 226h12v12h-12zM194 5h12v12h-12zM741 684h12v12h-12zM1079 238h12v12h-12zM574 459h12v12h-12zM47 655h12v12h-12zM326 466h12v12h-12zM790 585h12v12h-12zM151 763h12v12h-12zM151 -7h12v12h-12zM420 546h12v12h-12zM1176 96h12v12h-12zM156 590h12v12h-12zM524 464h12v12h-12zM779 379h12v12h-12zM255 384h12v12h-12zM972 585h12v12h-12zM207 614h12v12h-12zM718 396h12v12h-12zM45 764h12v12h-12zM45 -6h12v12h-12zM1200 94h12v12h-12zM0 94h12v12h-12zM633 758h12v12h-12zM287 107h12v12h-12zM162 390h12v12h-12zM49 705h12v12h-12zM320 380h12v12h-12zM1011 133h12v12h-12zM298 724h12v12h-12zM1127 386h12v12h-12zM1191 576h12v12h-12zM-9 576h12v12h-12zM689 410h12v12h-12zM140 188h12v12h-12zM409 741h12v12h-12zM845 289h12v12h-12zM448 237h12v12h-12zM780 680h12v12h-12zM828 408h12v12h-12zM203 625h12v12h-12zM353 637h12v12h-12zM787 511h12v12h-12zM613 141h12v12h-12zM607 133h12v12h-12zM145 318h12v12h-12zM1084 64h12v12h-12zM35 308h12v12h-12zM901 586h12v12h-12zM350 539h12v12h-12zM924 607h12v12h-12zM376 711h12v12h-12zM965 584h12v12h-12zM743 589h12v12h-12zM1155 359h12v12h-12zM858 151h12v12h-12zM1077 692h12v12h-12zM423 548h12v12h-12zM842 262h12v12h-12zM824 719h12v12h-12zM248 640h12v12h-12zM918 494h12v12h-12zM652 519h12v12h-12zM1100 71h12v12h-12zM613 196h12v12h-12zM1043 539h12v12h-12zM372 495h12v12h-12zM423 60h12v12h-12zM667 277h12v12h-12zM85 142h12v12h-12zM525 7h12v12h-12zM1070 470h12v12h-12zM790 248h12v12h-12zM1122 515h12v12h-12zM1105 525h12v12h-12zM124 204h12v12h-12zM308 708h12v12h-12zM886 94h12v12h-12zM535 702h12v12h-12zM950 536h12v12h-12zM576 732h12v12h-12zM234 558h12v12h-12zM342 456h12v12h-12zM670 32h12v12h-12zM1066 371h12v12h-12zM27 308h12v12h-12zM612 676h12v12h-12zM669 258h12v12h-12zM1096 578h12v12h-12zM63 210h12v12h-12zM481 105h12v12h-12zM853 414h12v12h-12zM244 189h12v12h-12zM797 127h12v12h-12zM307 125h12v12h-12zM636 681h12v12h-12zM661 460h12v12h-12zM128 568h12v12h-12zM654 387h12v12h-12zM593 542h12v12h-12zM257 384h12v12h-12zM17 672h12v12h-12zM943 449h12v12h-12zM547 724h12v12h-12zM592 748h12v12h-12zM445 92h12v12h-12zM436 95h12v12h-12zM681 144h12v12h-12zM665 34h12v12h-12zM428 293h12v12h-12zM698 635h12v12h-12zM432 709h12v12h-12zM530 220h12v12h-12zM433 690h12v12h-12zM30 181h12v12h-12zM80 158h12v12h-12zM1093 348h12v12h-12zM569 532h12v12h-12zM167 626h12v12h-12zM761 407h12v12h-12zM1009 23h12v12h-12zM423 366h12v12h-12zM502 15h12v12h-12zM1100 561h12v12h-12zM1113 455h12v12h-12zM992 450h12v12h-12zM550 214h12v12h-12zM422 746h12v12h-12zM73 383h12v12h-12zM859 727h12v12h-12zM237 530h12v12h-12zM913 50h12v12h-12zM1032 182h12v12h-12zM596 464h12v12h-12zM728 544h12v12h-12zM756 398h12v12h-12zM315 556h12v12h-12zM365 212h12v12h-12zM374 328h12v12h-12zM771 495h12v12h-12zM1024 758h12v12h-12zM894 505h12v12h-12zM740 298h12v12h-12zM106 156h12v12h-12zM449 648h12v12h-12zM541 460h12v12h-12zM826 416h12v12h-12zM983 397h12v12h-12zM567 91h12v12h-12zM970 656h12v12h-12zM549 61h12v12h-12zM296 168h12v12h-12zM119 555h12v12h-12zM358 368h12v12h-12zM554 419h12v12h-12zM889 590h12v12h-12zM1045 758h12v12h-12zM500 605h12v12h-12zM371 166h12v12h-12zM629 711h12v12h-12zM449 227h12v12h-12zM293 87h12v12h-12zM898 214h12v12h-12zM308 31h12v12h-12zM874 508h12v12h-12zM781 151h12v12h-12zM381 574h12v12h-12zM962 677h12v12h-12zM383 306h12v12h-12zM1005 78h12v12h-12zM790 82h12v12h-12zM113 494h12v12h-12zM553 328h12v12h-12zM232 556h12v12h-12zM576 481h12v12h-12zM66 729h12v12h-12zM101 36h12v12h-12zM643 97h12v12h-12zM855 327h12v12h-12zM199 665h12v12h-12zM665 685h12v12h-12zM853 286h12v12h-12zM1006 637h12v12h-12zM527 735h12v12h-12zM1190 723h12v12h-12zM-10 723h12v12h-12zM1175 178h12v12h-12zM982 7h12v12h-12zM419 222h12v12h-12zM203 128h12v12h-12zM240 563h12v12h-12zM1100 235h12v12h-12zM64 109h12v12h-12zM504 227h12v12h-12zM1006 571h12v12h-12zM259 18h12v12h-12zM150 751h12v12h-12zM294 67h12v12h-12zM849 3h12v12h-12zM750 202h12v12h-12zM108 146h12v12h-12zM182 313h12v12h-12zM708 219h12v12h-12zM652 675h12v12h-12zM867 634h12v12h-12zM276 759h12v12h-12zM276 -11h12v12h-12zM642 348h12v12h-12zM989 742h12v12h-12zM1154 533h12v12h-12zM909 591h12v12h-12zM1051 193h12v12h-12zM244 406h12v12h-12zM583 547h12v12h-12zM1169 535h12v12h-12zM739 752h12v12h-12zM181 734h12v12h-12zM461 327h12v12h-12zM226 417h12v12h-12zM992 76h12v12h-12zM185 704h12v12h-12zM526 279h12v12h-12zM585 365h12v12h-12zM603 730h12v12h-12zM1003 125h12v12h-12zM55 365h12v12h-12zM222 472h12v12h-12zM241 338h12v12h-12zM539 528h12v12h-12zM1099 758h12v12h-12zM875 145h12v12h-12zM533 522h12v12h-12zM404 627h12v12h-12zM970 61h12v12h-12zM774 71h12v12h-12zM845 503h12v12h-12zM1071 108h12v12h-12zM62 95h12v12h-12zM972 37h12v12h-12zM1185 266h12v12h-12zM599 649h12v12h-12zM90 709h12v12h-12zM116 601h12v12h-12zM1091 403h12v12h-12zM215 470h12v12h-12zM926 510h12v12h-12zM908 19h12v12h-12zM485 79h12v12h-12zM273 487h12v12h-12zM141 525h12v12h-12zM344 590h12v12h-12zM763 623h12v12h-12zM996 513h12v12h-12zM579 287h12v12h-12zM142 641h12v12h-12zM987 728h12v12h-12zM603 135h12v12h-12zM533 399h12v12h-12zM888 340h12v12h-12zM45 500h12v12h-12zM217 739h12v12h-12zM40 130h12v12h-12zM305 416h12v12h-12zM558 531h12v12h-12zM222 625h12v12h-12zM42 570h12v12h-12zM96 11h12v12h-12zM424 596h12v12h-12zM531 4h12v12h-12zM213 641h12v12h-12zM587 490h12v12h-12zM763 23h12v12h-12zM414 136h12v12h-12zM625 622h12v12h-12zM227 703h12v12h-12zM438 584h12v12h-12zM457 722h12v12h-12zM809 451h12v12h-12zM933 6h12v12h-12zM383 498h12v12h-12zM807 242h12v12h-12zM301 280h12v12h-12zM1055 630h12v12h-12zM152 343h12v12h-12zM718 417h12v12h-12zM281 714h12v12h-12zM385 93h12v12h-12zM458 28h12v12h-12zM228 506h12v12h-12zM629 230h12v12h-12zM1077 491h12v12h-12zM1169 189h12v12h-12zM126 334h12v12h-12zM98 663h12v12h-12zM463 494h12v12h-12zM1140 55h12v12h-12zM872 547h12v12h-12zM421 365h12v12h-12zM1146 215h12v12h-12zM1065 312h12v12h-12zM483 210h12v12h-12zM1139 306h12v12h-12zM977 589h12v12h-12zM842 74h12v12h-12zM919 590h12v12h-12zM1124 719h12v12h-12zM865 672h12v12h-12zM802 133h12v12h-12zM555 712h12v12h-12zM1151 99h12v12h-12zM329 648h12v12h-12zM1048 667h12v12h-12zM286 662h12v12h-12zM276 256h12v12h-12zM271 706h12v12h-12zM1076 656h12v12h-12zM880 524h12v12h-12zM307 336h12v12h-12zM193 559h12v12h-12zM843 742h12v12h-12zM171 675h12v12h-12zM1101 70h12v12h-12zM149 712h12v12h-12zM803 676h12v12h-12zM257 723h12v12h-12zM773 494h12v12h-12zM1100 182h12v12h-12zM1003 393h12v12h-12zM738 740h12v12h-12zM594 100h12v12h-12zM514 402h12v12h-12zM844 635h12v12h-12zM915 500h12v12h-12zM784 718h12v12h-12zM572 712h12v12h-12zM887 392h12v12h-12zM417 299h12v12h-12zM311 351h12v12h-12zM59 685h12v12h-12zM236 303h12v12h-12zM1165 350h12v12h-12zM760 418h12v12h-12zM450 463h12v12h-12zM1147 501h12v12h-12zM82 309h12v12h-12zM387 358h12v12h-12zM503 383h12v12h-12zM294 253h12v12h-12zM977 501h12v12h-12zM317 267h12v12h-12zM584 331h12v12h-12zM1164 288h12v12h-12zM590 252h12v12h-12zM284 716h12v12h-12zM715 371h12v12h-12zM1029 77h12v12h-12zM427 220h12v12h-12zM91 147h12v12h-12zM505 731h12v12h-12zM965 592h12v12h-12zM185 70h12v12h-12zM364 106h12v12h-12zM237 305h12v12h-12zM1083 554h12v12h-12zM1004 411h12v12h-12zM165 544h12v12h-12zM152 168h12v12h-12zM276 546h12v12h-12zM916 301h12v12h-12zM104 290h12v12h-12zM678 183h12v12h-12zM845 46h12v12h-12zM1102 509h12v12h-12zM1162 732h12v12h-12zM520 22h12v12h-12zM1024 528h12v12h-12zM1185 292h12v12h-12zM1191 644h12v12h-12zM-9 644h12v12h-12zM1014 526h12v12h-12zM739 373h12v12h-12zM124 740h12v12h-12zM663 306h12v12h-12zM12 54h12v12h-12zM957 290h12v12h-12zM227 763h12v12h-12zM227 -7h12v12h-12zM571 378h12v12h-12zM158 628h12v12h-12zM967 122h12v12h-12zM534 668h12v12h-12zM458 150h12v12h-12zM62 391h12v12h-12zM838 392h12v12h-12zM36 217h12v12h-12zM358 601h12v12h-12zM988 462h12v12h-12zM555 54h12v12h-12zM351 586h12v12h-12zM1025 484h12v12h-12zM271 316h12v12h-12zM1181 729h12v12h-12zM348 443h12v12h-12zM278 280h12v12h-12zM1075 115h12v12h-12zM22 143h12v12h-12zM1056 461h12v12h-12zM671 251h12v12h-12zM966 664h12v12h-12zM506 30h12v12h-12zM304 766h12v12h-12zM304 -4h12v12h-12zM532 716h12v12h-12zM230 488h12v12h-12zM44 336h12v12h-12zM408 179h12v12h-12zM763 306h12v12h-12zM281 383h12v12h-12zM129 710h12v12h-12zM876 526h12v12h-12zM18 280h12v12h-12zM1034 206h12v12h-12zM15 450h12v12h-12zM282 156h12v12h-12zM531 459h12v12h-12zM308 209h12v12h-12zM630 345h12v12h-12zM926 427h12v12h-12zM593 651h12v12h-12zM562 583h12v12h-12zM736 212h12v12h-12zM393 542h12v12h-12zM495 345h12v12h-12zM486 266h12v12h-12zM319 420h12v12h-12zM641 476h12v12h-12zM1189 173h12v12h-12zM-11 173h12v12h-12zM745 322h12v12h-12zM115 11h12v12h-12zM304 629h12v12h-12zM596 366h12v12h-12zM136 436h12v12h-12zM771 412h12v12h-12zM828 523h12v12h-12zM745 415h12v12h-12zM659 669h12v12h-12zM315 349h12v12h-12zM443 349h12v12h-12zM305 532h12v12h-12zM586 56h12v12h-12zM1044 620h12v12h-12zM422 558h12v12h-12zM854 670h12v12h-12zM506 384h12v12h-12zM559 67h12v12h-12zM1116 297h12v12h-12zM328 696h12v12h-12zM1062 196h12v12h-12zM118 385h12v12h-12zM896 742h12v12h-12zM435 274h12v12h-12zM1043 374h12v12h-12zM111 305h12v12h-12zM973 100h12v12h-12zM996 248h12v12h-12zM1173 215h12v12h-12zM876 174h12v12h-12zM228 516h12v12h-12zM834 318h12v12h-12zM374 430h12v12h-12zM1182 298h12v12h-12zM981 586h12v12h-12zM678 277h12v12h-12zM109 271h12v12h-12zM447 245h12v12h-12zM722 557h12v12h-12zM1132 217h12v12h-12zM184 368h12v12h-12zM359 431h12v12h-12zM898 569h12v12h-12zM1179 694h12v12h-12zM1191 244h12v12h-12zM-9 244h12v12h-12zM338 570h12v12h-12zM878 569h12v12h-12zM195 39h12v12h-12zM77 172h12v12h-12zM736 657h12v12h-12zM481 302h12v12h-12zM709 408h12v12h-12zM420 107h12v12h-12zM10 98h12v12h-12zM242 115h12v12h-12zM38 321h12v12h-12zM976 739h12v12h-12zM101 414h12v12h-12zM186 455h12v12h-12zM77 329h12v12h-12zM980 571h12v12h-12zM724 39h12v12h-12zM228 346h12v12h-12zM247 293h12v12h-12zM235 269h12v12h-12zM186 704h12v12h-12zM518 521h12v12h-12zM1111 543h12v12h-12zM1140 120h12v12h-12zM1161 545h12v12h-12zM124 140h12v12h-12zM927 12h12v12h-12zM418 730h12v12h-12zM641 565h12v12h-12zM367 352h12v12h-12zM829 33h12v12h-12zM393 209h12v12h-12zM1053 690h12v12h-12zM255 44h12v12h-12zM445 540h12v12h-12zM899 16h12v12h-12zM142 437h12v12h-12zM71 423h12v12h-12zM125 647h12v12h-12zM827 152h12v12h-12zM1154 692h12v12h-12zM557 536h12v12h-12zM518 698h12v12h-12zM109 729h12v12h-12zM121 475h12v12h-12zM246 739h12v12h-12zM612 382h12v12h-12zM362 546h12v12h-12zM411 22h12v12h-12zM717 347h12v12h-12zM1068 488h12v12h-12zM113 430h12v12h-12zM153 245h12v12h-12zM230 9h12v12h-12zM986 670h12v12h-12zM488 141h12v12h-12zM1027 494h12v12h-12zM597 105h12v12h-12zM199 409h12v12h-12zM778 600h12v12h-12zM219 536h12v12h-12zM983 46h12v12h-12zM219 694h12v12h-12zM255 343h12v12h-12zM1014 494h12v12h-12zM978 736h12v12h-12zM738 104h12v12h-12zM557 65h12v12h-12zM819 705h12v12h-12zM287 204h12v12h-12zM42 716h12v12h-12zM426 154h12v12h-12zM748 638h12v12h-12zM228 602h12v12h-12zM871 601h12v12h-12zM1039 391h12v12h-12zM462 445h12v12h-12zM410 154h12v12h-12zM149 304h12v12h-12zM967 629h12v12h-12zM459 709h12v12h-12zM1158 702h12v12h-12zM571 107h12v12h-12zM684 500h12v12h-12zM388 79h12v12h-12zM625 290h12v12h-12zM880 539h12v12h-12zM315 442h12v12h-12zM747 610h12v12h-12zM1184 670h12v12h-12zM451 388h12v12h-12zM217 704h12v12h-12zM1103 528h12v12h-12zM93 10h12v12h-12zM1166 82h12v12h-12zM1141 279h12v12h-12zM418 594h12v12h-12zM600 600h12v12h-12zM176 666h12v12h-12zM708 91h12v12h-12zM33 417h12v12h-12zM1009 343h12v12h-12zM130 160h12v12h-12zM1104 641h12v12h-12zM269 428h12v12h-12zM434 587h12v12h-12zM33 109h12v12h-12zM453 268h12v12h-12zM77 225h12v12h-12zM1113 178h12v12h-12zM981 636h12v12h-12zM1173 423h12v12h-12zM539 82h12v12h-12zM753 275h12v12h-12zM615 676h12v12h-12zM1170 696h12v12h-12zM662 371h12v12h-12zM958 74h12v12h-12zM381 395h12v12h-12zM881 419h12v12h-12zM888 442h12v12h-12zM505 646h12v12h-12zM264 539h12v12h-12zM180 161h12v12h-12zM970 106h12v12h-12zM1136 486h12v12h-12zM243 349h12v12h-12zM654 728h12v12h-12zM761 652h12v12h-12zM140 7h12v12h-12zM1052 167h12v12h-12zM236 634h12v12h-12zM794 451h12v12h-12zM641 223h12v12h-12zM849 572h12v12h-12zM702 475h12v12h-12zM190 194h12v12h-12zM69 376h12v12h-12zM814 612h12v12h-12zM1084 175h12v12h-12zM582 320h12v12h-12zM1082 74h12v12h-12zM1199 598h12v12h-12zM-1 598h12v12h-12zM667 71h12v12h-12zM385 659h12v12h-12zM245 423h12v12h-12zM696 467h12v12h-12zM1095 343h12v12h-12zM45 477h12v12h-12zM612 476h12v12h-12zM1185 350h12v12h-12zM949 571h12v12h-12zM866 16h12v12h-12zM340 652h12v12h-12zM48 190h12v12h-12zM928 250h12v12h-12zM995 28h12v12h-12zM154 13h12v12h-12zM141 153h12v12h-12zM205 528h12v12h-12zM676 545h12v12h-12zM669 194h12v12h-12zM459 603h12v12h-12zM1170 116h12v12h-12zM891 125h12v12h-12zM629 337h12v12h-12zM221 369h12v12h-12zM87 119h12v12h-12zM582 15h12v12h-12zM1082 13h12v12h-12zM843 551h12v12h-12zM1098 697h12v12h-12zM325 14h12v12h-12zM462 251h12v12h-12zM574 220h12v12h-12zM270 688h12v12h-12zM750 674h12v12h-12zM176 19h12v12h-12zM640 678h12v12h-12zM574 476h12v12h-12zM379 106h12v12h-12zM66 448h12v12h-12zM362 151h12v12h-12zM471 370h12v12h-12zM344 322h12v12h-12zM431 635h12v12h-12zM407 333h12v12h-12zM474 550h12v12h-12zM279 570h12v12h-12zM107 395h12v12h-12zM141 483h12v12h-12zM499 647h12v12h-12zM855 190h12v12h-12zM431 274h12v12h-12zM285 427h12v12h-12zM752 102h12v12h-12zM326 307h12v12h-12zM458 43h12v12h-12zM997 316h12v12h-12zM517 560h12v12h-12zM383 295h12v12h-12zM348 444h12v12h-12zM706 39h12v12h-12zM1200 480h12v12h-12zM0 480h12v12h-12zM680 567h12v12h-12zM981 600h12v12h-12zM17 406h12v12h-12zM1188 181h12v12h-12zM600 507h12v12h-12zM1000 278h12v12h-12zM1179 3h12v12h-12zM698 651h12v12h-12zM1020 727h12v12h-12zM85 178h12v12h-12zM1019 11h12v12h-12zM167 578h12v12h-12zM48 722h12v12h-12zM374 702h12v12h-12zM574 387h12v12h-12zM767 305h12v12h-12zM224 747h12v12h-12zM730 526h12v12h-12zM43 70h12v12h-12zM1161 388h12v12h-12zM1091 455h12v12h-12zM495 286h12v12h-12zM409 308h12v12h-12zM583 588h12v12h-12zM1147 390h12v12h-12zM802 202h12v12h-12zM945 109h12v12h-12zM796 221h12v12h-12zM1196 350h12v12h-12zM-4 350h12v12h-12zM124 11h12v12h-12zM1065 668h12v12h-12zM397 682h12v12h-12zM93 310h12v12h-12zM346 243h12v12h-12zM102 559h12v12h-12zM934 441h12v12h-12zM796 79h12v12h-12zM584 31h12v12h-12zM986 622h12v12h-12zM406 239h12v12h-12zM613 137h12v12h-12zM675 517h12v12h-12zM567 574h12v12h-12zM212 491h12v12h-12zM873 6h12v12h-12zM272 494h12v12h-12zM96 258h12v12h-12zM311 181h12v12h-12zM465 593h12v12h-12zM848 77h12v12h-12zM662 401h12v12h-12zM1111 432h12v12h-12zM643 407h12v12h-12zM366 47h12v12h-12zM1068 681h12v12h-12zM36 377h12v12h-12zM233 34h12v12h-12zM924 482h12v12h-12zM374 478h12v12h-12zM1140 459h12v12h-12zM99 19h12v12h-12zM104 449h12v12h-12zM374 454h12v12h-12zM842 369h12v12h-12zM1024 703h12v12h-12zM311 79h12v12h-12zM431 593h12v12h-12zM894 546h12v12h-12zM743 687h12v12h-12zM668 17h12v12h-12zM802 170h12v12h-12zM663 259h12v12h-12zM118 585h12v12h-12zM145 123h12v12h-12zM523 506h12v12h-12zM25 572h12v12h-12zM420 588h12v12h-12zM571 59h12v12h-12zM1182 768h12v12h-12zM1182 -2h12v12h-12zM699 355h12v12h-12zM195 482h12v12h-12zM593 731h12v12h-12zM586 202h12v12h-12zM847 275h12v12h-12zM850 286h12v12h-12zM387 681h12v12h-12zM992 155h12v12h-12zM599 102h12v12h-12zM45 607h12v12h-12zM550 701h12v12h-12zM186 317h12v12h-12zM767 214h12v12h-12zM855 711h12v12h-12zM773 602h12v12h-12zM407 190h12v12h-12zM279 67h12v12h-12zM102 18h12v12h-12zM406 752h12v12h-12zM650 146h12v12h-12zM84 737h12v12h-12zM982 743h12v12h-12zM471 274h12v12h-12zM94 324h12v12h-12zM346 502h12v12h-12zM210 460h12v12h-12zM321 621h12v12h-12zM426 280h12v12h-12zM298 658h12v12h-12zM74 318h12v12h-12zM1021 276h12v12h-12zM831 126h12v12h-12zM713 523h12v12h-12zM882 82h12v12h-12zM740 435h12v12h-12zM657 251h12v12h-12zM260 11h12v12h-12zM683 329h12v12h-12zM599 629h12v12h-12zM955 609h12v12h-12zM980 214h12v12h-12zM814 20h12v12h-12zM583 712h12v12h-12zM101 610h12v12h-12zM1074 536h12v12h-12zM606 314h12v12h-12zM1161 370h12v12h-12zM99 356h12v12h-12zM70 156h12v12h-12zM732 181h12v12h-12zM27 136h12v12h-12zM1151 266h12v12h-12zM10 359h12v12h-12zM934 366h12v12h-12zM907 90h12v12h-12zM754 321h12v12h-12zM712 80h12v12h-12zM839 38h12v12h-12zM1064 116h12v12h-12zM1061 585h12v12h-12zM521 137h12v12h-12zM83 164h12v12h-12zM909 528h12v12h-12zM345 227h12v12h-12zM584 21h12v12h-12zM331 389h12v12h-12zM182 257h12v12h-12zM190 483h12v12h-12zM799 542h12v12h-12zM645 195h12v12h-12zM239 667h12v12h-12zM910 214h12v12h-12zM978 42h12v12h-12zM826 554h12v12h-12zM688 667h12v12h-12zM1073 615h12v12h-12zM351 77h12v12h-12zM826 661h12v12h-12zM721 310h12v12h-12zM710 12h12v12h-12zM419 119h12v12h-12zM328 119h12v12h-12zM75 220h12v12h-12zM515 525h12v12h-12zM879 723h12v12h-12zM701 203h12v12h-12zM1147 338h12v12h-12zM136 316h12v12h-12zM598 18h12v12h-12zM97 237h12v12h-12zM1115 248h12v12h-12zM326 421h12v12h-12zM411 622h12v12h-12zM921 557h12v12h-12zM1047 639h12v12h-12zM1161 5h12v12h-12zM533 507h12v12h-12zM282 709h12v12h-12zM1119 242h12v12h-12zM721 400h12v12h-12zM1084 43h12v12h-12zM218 622h12v12h-12zM993 385h12v12h-12zM1005 216h12v12h-12zM1173 642h12v12h-12zM443 538h12v12h-12zM488 559h12v12h-12zM824 396h12v12h-12zM347 606h12v12h-12zM890 659h12v12h-12zM1136 223h12v12h-12zM636 549h12v12h-12zM698 29h12v12h-12zM296 642h12v12h-12zM261 659h12v12h-12zM284 195h12v12h-12zM360 606h12v12h-12zM937 259h12v12h-12zM932 692h12v12h-12zM286 405h12v12h-12zM470 454h12v12h-12zM1157 434h12v12h-12zM482 32h12v12h-12zM495 15h12v12h-12zM1024 471h12v12h-12zM945 471h12v12h-12zM541 20h12v12h-12zM978 65h12v12h-12zM414 118h12v12h-12zM44 95h12v12h-12zM341 356h12v12h-12zM1076 456h12v12h-12zM107 118h12v12h-12zM954 635h12v12h-12zM592 485h12v12h-12zM288 3h12v12h-12zM370 645h12v12h-12zM1089 709h12v12h-12zM991 402h12v12h-12zM740 74h12v12h-12zM926 467h12v12h-12zM1009 78h12v12h-12zM459 500h12v12h-12zM441 477h12v12h-12zM268 396h12v12h-12zM41 243h12v12h-12zM667 610h12v12h-12zM35 498h12v12h-12zM774 568h12v12h-12zM702 187h12v12h-12zM1035 464h12v12h-12zM379 192h12v12h-12zM954 102h12v12h-12zM601 97h12v12h-12zM238 300h12v12h-12zM776 732h12v12h-12zM705 90h12v12h-12zM1196 143h12v12h-12zM-4 143h12v12h-12zM916 110h12v12h-12zM871 454h12v12h-12zM402 238h12v12h-12zM1118 247h12v12h-12zM38 648h12v12h-12zM509 167h12v12h-12zM1079 149h12v12h-12zM89 83h12v12h-12zM591 74h12v12h-12zM927 446h12v12h-12zM58 624h12v12h-12zM407 579h12v12h-12zM796 658h12v12h-12zM404 343h12v12h-12zM875 439h12v12h-12zM443 119h12v12h-12zM824 604h12v12h-12zM609 26h12v12h-12zM142 280h12v12h-12zM685 198h12v12h-12zM638 629h12v12h-12zM471 73h12v12h-12zM1031 434h12v12h-12zM730 728h12v12h-12zM823 708h12v12h-12zM174 747h12v12h-12zM466 588h12v12h-12zM369 343h12v12h-12zM887 633h12v12h-12zM147 275h12v12h-12zM381 568h12v12h-12zM479 557h12v12h-12zM498 369h12v12h-12zM876 215h12v12h-12zM287 768h12v12h-12zM287 -2h12v12h-12zM415 195h12v12h-12zM137 283h12v12h-12zM913 113h12v12h-12zM309 765h12v12h-12zM309 -5h12v12h-12zM398 78h12v12h-12zM373 698h12v12h-12zM571 496h12v12h-12zM972 199h12v12h-12zM781 535h12v12h-12zM592 602h12v12h-12zM1079 561h12v12h-12zM764 93h12v12h-12zM1182 13h12v12h-12zM790 723h12v12h-12zM67 255h12v12h-12zM866 692h12v12h-12zM543 211h12v12h-12zM996 474h12v12h-12zM1044 175h12v12h-12zM638 558h12v12h-12zM803 231h12v12h-12zM770 743h12v12h-12zM434 254h12v12h-12zM1128 670h12v12h-12zM49 315h12v12h-12zM71 539h12v12h-12zM716 69h12v12h-12zM564 290h12v12h-12zM397 661h12v12h-12zM1037 514h12v12h-12zM840 414h12v12h-12zM1094 312h12v12h-12zM1106 543h12v12h-12zM929 303h12v12h-12zM240 226h12v12h-12zM610 56h12v12h-12zM806 270h12v12h-12zM945 136h12v12h-12zM552 45h12v12h-12zM138 595h12v12h-12zM144 330h12v12h-12zM575 263h12v12h-12zM1060 192h12v12h-12zM1086 15h12v12h-12zM629 478h12v12h-12zM713 126h12v12h-12zM1043 555h12v12h-12zM682 271h12v12h-12zM703 21h12v12h-12zM101 448h12v12h-12zM626 131h12v12h-12zM1013 460h12v12h-12zM615 295h12v12h-12zM279 697h12v12h-12zM103 647h12v12h-12zM1022 384h12v12h-12zM263 662h12v12h-12zM1101 582h12v12h-12zM112 283h12v12h-12zM426 266h12v12h-12zM1079 418h12v12h-12zM778 633h12v12h-12zM45 168h12v12h-12zM209 335h12v12h-12zM852 599h12v12h-12zM1016 325h12v12h-12zM697 468h12v12h-12zM175 655h12v12h-12zM84 58h12v12h-12zM1195 667h12v12h-12zM-5 667h12v12h-12zM967 672h12v12h-12zM1004 175h12v12h-12zM810 11h12v12h-12zM353 330h12v12h-12zM125 223h12v12h-12zM962 733h12v12h-12zM665 548h12v12h-12zM56 722h12v12h-12zM961 450h12v12h-12zM620 531h12v12h-12zM803 602h12v12h-12zM11 628h12v12h-12zM756 268h12v12h-12zM465 222h12v12h-12zM560 591h12v12h-12zM686 438h12v12h-12zM739 178h12v12h-12zM963 164h12v12h-12zM983 693h12v12h-12zM223 9h12v12h-12zM1174 6h12v12h-12zM1093 120h12v12h-12zM211 313h12v12h-12zM823 102h12v12h-12zM474 160h12v12h-12zM1089 241h12v12h-12zM634 708h12v12h-12zM647 52h12v12h-12zM801 259h12v12h-12zM61 298h12v12h-12zM444 460h12v12h-12zM173 533h12v12h-12zM143 581h12v12h-12zM194 90h12v12h-12zM1171 239h12v12h-12zM615 654h12v12h-12zM687 47h12v12h-12zM818 120h12v12h-12zM33 449h12v12h-12zM905 79h12v12h-12zM1021 637h12v12h-12zM465 238h12v12h-12zM924 271h12v12h-12zM362 588h12v12h-12zM378 627h12v12h-12zM381 135h12v12h-12zM422 55h12v12h-12zM945 483h12v12h-12zM1016 196h12v12h-12zM802 606h12v12h-12zM428 426h12v12h-12zM1154 662h12v12h-12zM244 248h12v12h-12zM1059 642h12v12h-12zM1019 703h12v12h-12zM896 188h12v12h-12zM1144 82h12v12h-12zM42 590h12v12h-12zM1061 455h12v12h-12zM656 16h12v12h-12zM1028 118h12v12h-12zM179 593h12v12h-12zM986 18h12v12h-12zM1041 501h12v12h-12zM343 174h12v12h-12zM253 50h12v12h-12zM933 38h12v12h-12zM875 473h12v12h-12zM43 566h12v12h-12zM784 108h12v12h-12zM520 472h12v12h-12zM276 597h12v12h-12zM410 58h12v12h-12zM978 644h12v12h-12zM114 696h12v12h-12zM644 683h12v12h-12zM534 556h12v12h-12zM536 715h12v12h-12zM37 350h12v12h-12zM37 356h12v12h-12zM152 468h12v12h-12zM1147 330h12v12h-12zM927 734h12v12h-12zM348 52h12v12h-12zM356 351h12v12h-12zM633 366h12v12h-12zM1004 541h12v12h-12zM582 63h12v12h-12zM177 421h12v12h-12zM1083 346h12v12h-12zM321 513h12v12h-12zM964 30h12v12h-12zM1153 202h12v12h-12zM917 711h12v12h-12zM904 224h12v12h-12zM628 600h12v12h-12zM694 248h12v12h-12zM603 450h12v12h-12zM48 552h12v12h-12zM95 698h12v12h-12zM788 312h12v12h-12zM206 357h12v12h-12zM564 140h12v12h-12zM1157 770h12v12h-12zM1157 0h12v12h-12zM1139 61h12v12h-12zM1123 79h12v12h-12zM717 202h12v12h-12zM433 563h12v12h-12zM619 390h12v12h-12zM714 222h12v12h-12zM485 172h12v12h-12zM163 349h12v12h-12zM96 624h12v12h-12zM133 747h12v12h-12zM817 571h12v12h-12zM889 311h12v12h-12zM66 247h12v12h-12zM584 112h12v12h-12zM335 88h12v12h-12zM920 169h12v12h-12zM422 738h12v12h-12zM1048 260h12v12h-12zM269 608h12v12h-12zM200 689h12v12h-12zM996 226h12v12h-12zM518 756h12v12h-12zM859 91h12v12h-12zM830 541h12v12h-12zM946 325h12v12h-12zM800 64h12v12h-12zM1089 764h12v12h-12zM1089 -6h12v12h-12zM151 212h12v12h-12zM486 203h12v12h-12zM74 222h12v12h-12zM172 320h12v12h-12zM221 418h12v12h-12zM190 434h12v12h-12zM304 162h12v12h-12zM1071 501h12v12h-12zM982 42h12v12h-12zM571 245h12v12h-12zM1044 462h12v12h-12zM993 215h12v12h-12zM288 108h12v12h-12zM494 465h12v12h-12zM685 343h12v12h-12zM962 440h12v12h-12zM305 397h12v12h-12zM175 80h12v12h-12zM268 122h12v12h-12zM1170 597h12v12h-12zM403 451h12v12h-12zM0 392h12v12h-12zM770 434h12v12h-12zM398 598h12v12h-12zM885 38h12v12h-12zM758 451h12v12h-12zM195 482h12v12h-12zM88 325h12v12h-12zM1 745h12v12h-12zM210 93h12v12h-12zM253 227h12v12h-12zM102 179h12v12h-12zM702 701h12v12h-12zM239 395h12v12h-12zM318 370h12v12h-12zM598 704h12v12h-12zM320 621h12v12h-12zM934 149h12v12h-12zM178 332h12v12h-12zM1170 482h12v12h-12zM1073 131h12v12h-12zM461 185h12v12h-12zM273 386h12v12h-12zM43 348h12v12h-12zM493 675h12v12h-12zM130 756h12v12h-12zM699 416h12v12h-12zM304 175h12v12h-12zM971 100h12v12h-12zM349 666h12v12h-12zM891 445h12v12h-12zM830 594h12v12h-12zM160 375h12v12h-12zM18 237h12v12h-12zM180 331h12v12h-12zM639 75h12v12h-12zM998 358h12v12h-12zM814 233h12v12h-12zM39 652h12v12h-12zM696 209h12v12h-12zM364 643h12v12h-12zM779 93h12v12h-12zM1170 133h12v12h-12zM1048 551h12v12h-12zM908 722h12v12h-12zM713 548h12v12h-12zM493 73h12v12h-12zM1084 69h12v12h-12zM240 148h12v12h-12zM309 53h12v12h-12zM786 593h12v12h-12zM120 560h12v12h-12zM371 105h12v12h-12zM147 7h12v12h-12zM29 146h12v12h-12zM900 608h12v12h-12zM925 400h12v12h-12zM1044 95h12v12h-12zM1065 216h12v12h-12zM126 455h12v12h-12zM680 152h12v12h-12zM828 524h12v12h-12zM505 738h12v12h-12zM862 33h12v12h-12zM1084 118h12v12h-12zM83 440h12v12h-12zM172 291h12v12h-12zM354 466h12v12h-12zM172 318h12v12h-12zM135 532h12v12h-12zM131 537h12v12h-12zM1013 698h12v12h-12zM765 93h12v12h-12zM630 740h12v12h-12zM730 546h12v12h-12zM1159 664h12v12h-12zM1008 44h12v12h-12zM524 708h12v12h-12zM733 563h12v12h-12zM567 716h12v12h-12zM202 732h12v12h-12zM1018 128h12v12h-12zM359 168h12v12h-12zM266 188h12v12h-12zM674 55h12v12h-12zM1175 764h12v12h-12zM1175 -6h12v12h-12zM201 518h12v12h-12zM1067 517h12v12h-12zM549 85h12v12h-12zM214 543h12v12h-12zM319 172h12v12h-12zM866 109h12v12h-12zM1177 332h12v12h-12zM1013 706h12v12h-12zM1127 47h12v12h-12zM1089 328h12v12h-12zM94 468h12v12h-12zM28 226h12v12h-12zM217 666h12v12h-12zM376 215h12v12h-12zM934 16h12v12h-12zM294 45h12v12h-12zM515 736h12v12h-12zM157 13h12v12h-12zM659 741h12v12h-12zM877 723h12v12h-12zM415 142h12v12h-12zM846 354h12v12h-12zM796 762h12v12h-12zM796 -8h12v12h-12zM805 422h12v12h-12zM870 155h12v12h-12zM340 314h12v12h-12zM910 564h12v12h-12zM1102 548h12v12h-12zM347 360h12v12h-12zM76 663h12v12h-12zM813 689h12v12h-12zM991 600h12v12h-12zM32 109h12v12h-12zM780 376h12v12h-12zM83 155h12v12h-12zM297 682h12v12h-12zM681 715h12v12h-12zM143 626h12v12h-12zM831 541h12v12h-12zM941 754h12v12h-12zM266 631h12v12h-12zM721 144h12v12h-12zM848 615h12v12h-12zM312 157h12v12h-12zM805 599h12v12h-12zM1061 290h12v12h-12zM891 408h12v12h-12zM215 757h12v12h-12zM1011 54h12v12h-12zM788 145h12v12h-12zM262 329h12v12h-12zM183 305h12v12h-12zM42 198h12v12h-12zM1023 113h12v12h-12zM1117 417h12v12h-12zM930 208h12v12h-12zM454 594h12v12h-12zM801 768h12v12h-12zM801 -2h12v12h-12zM272 293h12v12h-12zM716 72h12v12h-12zM106 340h12v12h-12zM296 142h12v12h-12zM642 746h12v12h-12zM721 617h12v12h-12zM1127 78h12v12h-12zM109 84h12v12h-12zM977 398h12v12h-12zM745 393h12v12h-12zM534 7h12v12h-12zM232 586h12v12h-12zM156 357h12v12h-12zM796 175h12v12h-12zM414 706h12v12h-12zM440 547h12v12h-12zM707 136h12v12h-12zM202 768h12v12h-12zM202 -2h12v12h-12zM747 67h12v12h-12zM393 71h12v12h-12zM565 657h12v12h-12zM471 414h12v12h-12zM470 755h12v12h-12zM384 687h12v12h-12zM509 26h12v12h-12zM585 219h12v12h-12zM729 352h12v12h-12zM435 2h12v12h-12zM1009 754h12v12h-12zM1105 356h12v12h-12zM413 584h12v12h-12zM13 727h12v12h-12zM1047 263h12v12h-12zM53 748h12v12h-12zM685 379h12v12h-12zM347 586h12v12h-12zM358 572h12v12h-12zM1103 10h12v12h-12zM403 118h12v12h-12zM283 503h12v12h-12zM664 250h12v12h-12zM1024 363h12v12h-12zM771 747h12v12h-12zM485 744h12v12h-12zM354 99h12v12h-12zM750 724h12v12h-12zM447 492h12v12h-12zM858 532h12v12h-12zM754 109h12v12h-12zM959 24h12v12h-12zM438 34h12v12h-12zM328 83h12v12h-12zM892 557h12v12h-12zM691 203h12v12h-12zM898 626h12v12h-12zM129 522h12v12h-12zM553 576h12v12h-12zM736 670h12v12h-12zM809 521h12v12h-12zM113 136h12v12h-12zM669 307h12v12h-12zM392 286h12v12h-12zM640 265h12v12h-12zM629 39h12v12h-12zM663 586h12v12h-12zM722 178h12v12h-12zM580 193h12v12h-12zM800 483h12v12h-12zM248 446h12v12h-12zM321 470h12v12h-12zM498 238h12v12h-12zM495 245h12v12h-12zM1118 325h12v12h-12zM418 752h12v12h-12zM1095 330h12v12h-12zM950 327h12v12h-12zM663 342h12v12h-12zM1008 46h12v12h-12zM390 181h12v12h-12zM80 295h12v12h-12zM324 746h12v12h-12zM71 744h12v12h-12zM318 759h12v12h-12zM318 -11h12v12h-12zM644 182h12v12h-12zM263 709h12v12h-12zM219 233h12v12h-12zM847 510h12v12h-12zM39 348h12v12h-12zM285 186h12v12h-12zM52 739h12v12h-12zM461 576h12v12h-12zM1189 319h12v12h-12zM-11 319h12v12h-12zM258 765h12v12h-12zM258 -5h12v12h-12zM380 275h12v12h-12zM172 473h12v12h-12zM1112 355h12v12h-12zM71 593h12v12h-12zM630 571h12v12h-12zM968 355h12v12h-12zM1069 160h12v12h-12zM193 221h12v12h-12zM1183 691h12v12h-12zM805 49h12v12h-12zM57 333h12v12h-12zM1102 244h12v12h-12zM902 475h12v12h-12zM540 206h12v12h-12zM808 668h12v12h-12zM468 246h12v12h-12zM1031 224h12v12h-12zM196 292h12v12h-12zM459 622h12v12h-12zM726 457h12v12h-12zM876 201h12v12h-12zM169 356h12v12h-12zM523 452h12v12h-12zM584 115h12v12h-12zM957 718h12v12h-12zM218 639h12v12h-12zM1014 42h12v12h-12zM643 28h12v12h-12zM734 633h12v12h-12zM113 429h12v12h-12zM1092 628h12v12h-12zM437 135h12v12h-12zM520 29h12v12h-12zM1142 336h12v12h-12zM633 83h12v12h-12zM488 624h12v12h-12zM40 407h12v12h-12zM881 57h12v12h-12zM594 676h12v12h-12zM420 45h12v12h-12zM331 661h12v12h-12zM136 124h12v12h-12zM131 133h12v12h-12zM815 521h12v12h-12zM1182 512h12v12h-12zM169 554h12v12h-12zM54 12h12v12h-12zM49 220h12v12h-12zM491 455h12v12h-12zM127 585h12v12h-12zM240 506h12v12h-12zM483 2h12v12h-12zM540 627h12v12h-12zM712 389h12v12h-12zM945 461h12v12h-12zM508 597h12v12h-12zM1007 357h12v12h-12zM404 417h12v12h-12zM729 290h12v12h-12zM179 550h12v12h-12zM606 672h12v12h-12zM878 349h12v12h-12zM401 324h12v12h-12zM361 33h12v12h-12zM42 16h12v12h-12zM480 559h12v12h-12zM883 313h12v12h-12zM760 642h12v12h-12zM881 134h12v12h-12zM640 548h12v12h-12zM1141 722h12v12h-12zM439 468h12v12h-12zM382 131h12v12h-12zM1061 381h12v12h-12zM201 90h12v12h-12zM449 655h12v12h-12zM1182 181h12v12h-12zM1121 728h12v12h-12zM523 520h12v12h-12zM536 588h12v12h-12zM996 127h12v12h-12zM465 402h12v12h-12zM25 396h12v12h-12zM240 78h12v12h-12zM1153 651h12v12h-12zM1026 141h12v12h-12zM1022 28h12v12h-12zM828 259h12v12h-12zM340 483h12v12h-12zM769 542h12v12h-12zM1148 277h12v12h-12zM733 285h12v12h-12zM345 726h12v12h-12zM404 219h12v12h-12zM412 219h12v12h-12zM1093 318h12v12h-12zM2 655h12v12h-12zM916 102h12v12h-12zM556 627h12v12h-12zM362 685h12v12h-12zM231 137h12v12h-12zM1122 508h12v12h-12zM494 622h12v12h-12zM1195 550h12v12h-12zM-5 550h12v12h-12zM568 379h12v12h-12zM1163 322h12v12h-12zM704 232h12v12h-12zM362 332h12v12h-12zM972 14h12v12h-12zM366 424h12v12h-12zM1009 663h12v12h-12zM808 553h12v12h-12zM411 292h12v12h-12zM670 497h12v12h-12zM515 90h12v12h-12zM96 305h12v12h-12zM1187 560h12v12h-12zM131 733h12v12h-12zM599 598h12v12h-12zM908 402h12v12h-12zM919 744h12v12h-12zM388 443h12v12h-12zM828 270h12v12h-12zM308 170h12v12h-12zM611 73h12v12h-12zM356 718h12v12h-12zM834 259h12v12h-12zM320 169h12v12h-12zM841 47h12v12h-12zM752 343h12v12h-12zM407 75h12v12h-12zM299 695h12v12h-12zM1038 620h12v12h-12zM991 148h12v12h-12zM1130 65h12v12h-12zM804 541h12v12h-12zM1057 256h12v12h-12zM137 752h12v12h-12zM391 139h12v12h-12zM879 135h12v12h-12zM149 234h12v12h-12zM792 527h12v12h-12zM267 502h12v12h-12zM999 237h12v12h-12zM819 445h12v12h-12zM677 540h12v12h-12zM1027 603h12v12h-12zM271 148h12v12h-12zM1089 522h12v12h-12zM520 10h12v12h-12zM911 279h12v12h-12zM156 44h12v12h-12zM756 589h12v12h-12zM1008 319h12v12h-12zM1040 390h12v12h-12zM402 224h12v12h-12zM550 127h12v12h-12zM564 610h12v12h-12zM1085 460h12v12h-12zM588 419h12v12h-12zM560 621h12v12h-12zM1160 251h12v12h-12zM430 158h12v12h-12zM807 577h12v12h-12zM1069 632h12v12h-12zM976 354h12v12h-12zM123 376h12v12h-12zM1194 700h12v12h-12zM-6 700h12v12h-12zM20 636h12v12h-12zM595 99h12v12h-12zM913 467h12v12h-12zM169 426h12v12h-12zM300 506h12v12h-12zM1149 397h12v12h-12zM531 69h12v12h-12zM789 557h12v12h-12zM892 125h12v12h-12zM558 442h12v12h-12zM1175 486h12v12h-12zM898 452h12v12h-12zM930 637h12v12h-12zM634 129h12v12h-12zM176 675h12v12h-12zM896 538h12v12h-12zM182 646h12v12h-12zM997 447h12v12h-12zM985 13h12v12h-12zM116 94h12v12h-12zM421 634h12v12h-12zM402 173h12v12h-12zM387 208h12v12h-12zM722 421h12v12h-12zM1176 216h12v12h-12zM136 474h12v12h-12zM1020 357h12v12h-12zM44 333h12v12h-12zM1172 677h12v12h-12zM709 596h12v12h-12zM544 177h12v12h-12zM297 215h12v12h-12zM349 669h12v12h-12zM1146 301h12v12h-12zM378 147h12v12h-12zM81 568h12v12h-12zM316 433h12v12h-12zM1125 202h12v12h-12zM772 121h12v12h-12zM149 253h12v12h-12zM545 220h12v12h-12zM1121 57h12v12h-12zM438 731h12v12h-12zM773 351h12v12h-12zM691 464h12v12h-12zM98 576h12v12h-12zM720 125h12v12h-12zM552 722h12v12h-12zM1064 701h12v12h-12zM396 16h12v12h-12zM838 271h12v12h-12zM582 399h12v12h-12zM288 569h12v12h-12zM458 411h12v12h-12zM705 725h12v12h-12zM977 714h12v12h-12zM1115 702h12v12h-12zM487 55h12v12h-12zM37 441h12v12h-12zM612 198h12v12h-12zM551 551h12v12h-12zM906 282h12v12h-12zM292 668h12v12h-12zM730 355h12v12h-12zM1183 488h12v12h-12zM496 73h12v12h-12zM1064 125h12v12h-12zM535 306h12v12h-12zM222 497h12v12h-12zM5 635h12v12h-12zM235 488h12v12h-12zM207 670h12v12h-12zM6 655h12v12h-12zM257 1h12v12h-12zM483 769h12v12h-12zM483 -1h12v12h-12zM774 150h12v12h-12zM930 533h12v12h-12zM663 517h12v12h-12zM621 406h12v12h-12zM262 390h12v12h-12zM275 178h12v12h-12zM352 278h12v12h-12zM715 454h12v12h-12zM788 476h12v12h-12zM291 332h12v12h-12zM184 514h12v12h-12zM54 617h12v12h-12zM1128 151h12v12h-12zM358 15h12v12h-12zM913 573h12v12h-12zM673 714h12v12h-12zM304 412h12v12h-12zM1000 295h12v12h-12zM245 689h12v12h-12zM104 379h12v12h-12zM609 343h12v12h-12zM926 727h12v12h-12zM111 57h12v12h-12zM640 498h12v12h-12zM334 88h12v12h-12zM1034 524h12v12h-12zM52 23h12v12h-12zM208 290h12v12h-12zM380 313h12v12h-12zM621 281h12v12h-12zM688 522h12v12h-12zM811 630h12v12h-12zM55 54h12v12h-12zM520 130h12v12h-12zM1113 132h12v12h-12zM571 733h12v12h-12zM124 412h12v12h-12zM804 701h12v12h-12zM524 652h12v12h-12zM966 371h12v12h-12zM156 590h12v12h-12zM1133 376h12v12h-12zM704 644h12v12h-12zM1087 311h12v12h-12zM378 535h12v12h-12zM459 691h12v12h-12zM675 129h12v12h-12zM628 318h12v12h-12zM691 724h12v12h-12zM261 723h12v12h-12zM968 328h12v12h-12zM180 533h12v12h-12zM1060 99h12v12h-12zM493 625h12v12h-12zM1078 671h12v12h-12zM798 246h12v12h-12zM1043 604h12v12h-12zM563 193h12v12h-12zM906 730h12v12h-12zM379 525h12v12h-12zM240 329h12v12h-12zM1131 74h12v12h-12zM146 91h12v12h-12zM397 433h12v12h-12zM968 577h12v12h-12zM766 396h12v12h-12zM348 358h12v12h-12zM1105 491h12v12h-12zM820 432h12v12h-12zM1116 517h12v12h-12zM1135 641h12v12h-12zM463 176h12v12h-12zM1124 582h12v12h-12zM923 731h12v12h-12zM352 269h12v12h-12zM722 461h12v12h-12zM789 518h12v12h-12zM1093 531h12v12h-12zM806 322h12v12h-12zM497 282h12v12h-12zM951 414h12v12h-12zM553 712h12v12h-12zM857 410h12v12h-12zM175 233h12v12h-12zM348 646h12v12h-12zM259 77h12v12h-12zM977 260h12v12h-12zM1089 677h12v12h-12zM96 734h12v12h-12zM426 46h12v12h-12zM1009 495h12v12h-12zM954 141h12v12h-12zM311 128h12v12h-12zM808 83h12v12h-12zM640 130h12v12h-12zM1069 259h12v12h-12zM1064 149h12v12h-12zM223 474h12v12h-12zM974 113h12v12h-12zM401 185h12v12h-12zM121 58h12v12h-12zM896 355h12v12h-12zM179 153h12v12h-12zM296 236h12v12h-12zM356 755h12v12h-12zM1189 341h12v12h-12zM-11 341h12v12h-12zM1174 65h12v12h-12zM1127 585h12v12h-12zM146 394h12v12h-12zM995 481h12v12h-12zM907 23h12v12h-12zM481 454h12v12h-12zM198 764h12v12h-12zM198 -6h12v12h-12zM655 481h12v12h-12zM104 177h12v12h-12zM568 294h12v12h-12zM1086 544h12v12h-12zM1165 385h12v12h-12zM495 764h12v12h-12zM495 -6h12v12h-12zM621 329h12v12h-12zM919 592h12v12h-12zM65 482h12v12h-12zM390 198h12v12h-12zM511 99h12v12h-12zM969 272h12v12h-12zM728 18h12v12h-12zM897 303h12v12h-12zM337 655h12v12h-12zM1174 573h12v12h-12zM959 183h12v12h-12zM752 620h12v12h-12zM989 118h12v12h-12zM210 207h12v12h-12zM1010 719h12v12h-12zM329 85h12v12h-12zM798 291h12v12h-12zM1157 571h12v12h-12zM761 480h12v12h-12zM176 715h12v12h-12zM950 107h12v12h-12zM662 321h12v12h-12zM534 537h12v12h-12zM317 372h12v12h-12zM778 166h12v12h-12zM1041 512h12v12h-12zM223 398h12v12h-12zM570 232h12v12h-12zM1166 315h12v12h-12zM462 562h12v12h-12zM783 520h12v12h-12zM1126 271h12v12h-12zM1174 334h12v12h-12zM991 363h12v12h-12zM471 598h12v12h-12zM847 362h12v12h-12zM978 736h12v12h-12zM1149 289h12v12h-12zM18 570h12v12h-12zM440 310h12v12h-12zM734 715h12v12h-12zM1123 250h12v12h-12zM1104 410h12v12h-12zM1186 82h12v12h-12zM26 414h12v12h-12zM294 47h12v12h-12zM1008 147h12v12h-12zM601 667h12v12h-12zM97 724h12v12h-12zM408 133h12v12h-12zM35 8h12v12h-12zM152 382h12v12h-12zM772 139h12v12h-12zM1069 732h12v12h-12zM395 7h12v12h-12zM384 95h12v12h-12zM885 401h12v12h-12zM1136 543h12v12h-12zM364 221h12v12h-12zM939 526h12v12h-12zM282 117h12v12h-12zM702 462h12v12h-12zM1088 419h12v12h-12zM160 636h12v12h-12zM407 107h12v12h-12zM529 127h12v12h-12zM640 389h12v12h-12zM86 496h12v12h-12zM276 481h12v12h-12zM192 667h12v12h-12zM769 292h12v12h-12zM811 692h12v12h-12zM1048 466h12v12h-12zM635 695h12v12h-12zM208 764h12v12h-12zM208 -6h12v12h-12zM1199 313h12v12h-12zM-1 313h12v12h-12zM250 361h12v12h-12zM289 719h12v12h-12zM841 578h12v12h-12zM206 624h12v12h-12zM205 294h12v12h-12zM82 537h12v12h-12zM1163 282h12v12h-12zM27 167h12v12h-12zM935 206h12v12h-12zM964 529h12v12h-12zM1047 656h12v12h-12zM424 497h12v12h-12zM342 194h12v12h-12zM733 408h12v12h-12zM1135 138h12v12h-12zM172 443h12v12h-12zM922 331h12v12h-12zM798 87h12v12h-12zM877 564h12v12h-12zM1130 127h12v12h-12zM665 0h12v12h-12zM1099 80h12v12h-12zM232 406h12v12h-12zM291 81h12v12h-12zM790 71h12v12h-12zM809 700h12v12h-12zM214 549h12v12h-12zM1066 166h12v12h-12zM339 414h12v12h-12zM933 647h12v12h-12zM1051 603h12v12h-12zM203 81h12v12h-12zM406 617h12v12h-12zM957 692h12v12h-12zM1007 17h12v12h-12zM164 623h12v12h-12zM11 222h12v12h-12zM1138 68h12v12h-12zM625 284h12v12h-12zM909 435h12v12h-12zM859 424h12v12h-12zM1146 338h12v12h-12zM19 609h12v12h-12zM616 357h12v12h-12zM1109 763h12v12h-12zM1109 -7h12v12h-12zM256 723h12v12h-12zM174 547h12v12h-12zM579 717h12v12h-12zM392 64h12v12h-12zM1182 351h12v12h-12zM770 656h12v12h-12zM460 456h12v12h-12zM253 725h12v12h-12zM577 253h12v12h-12zM807 142h12v12h-12zM91 656h12v12h-12zM697 382h12v12h-12zM79 507h12v12h-12zM186 511h12v12h-12zM1 350h12v12h-12zM676 514h12v12h-12zM791 546h12v12h-12zM310 375h12v12h-12zM694 9h12v12h-12zM361 329h12v12h-12zM662 477h12v12h-12zM835 185h12v12h-12zM761 294h12v12h-12zM1052 621h12v12h-12zM412 547h12v12h-12zM137 421h12v12h-12zM1041 506h12v12h-12zM30 533h12v12h-12zM1147 151h12v12h-12zM284 226h12v12h-12zM20 650h12v12h-12zM45 4h12v12h-12zM728 490h12v12h-12zM930 620h12v12h-12zM979 655h12v12h-12zM524 758h12v12h-12zM904 286h12v12h-12zM825 1h12v12h-12zM412 188h12v12h-12zM614 131h12v12h-12zM939 441h12v12h-12zM1181 110h12v12h-12zM95 592h12v12h-12zM811 66h12v12h-12zM955 702h12v12h-12zM64 359h12v12h-12zM490 659h12v12h-12zM915 106h12v12h-12zM769 335h12v12h-12zM601 745h12v12h-12zM1187 330h12v12h-12zM996 24h12v12h-12zM590 248h12v12h-12zM607 24h12v12h-12zM352 141h12v12h-12zM959 38h12v12h-12zM891 149h12v12h-12zM1157 419h12v12h-12zM1191 405h12v12h-12zM-9 405h12v12h-12zM847 584h12v12h-12zM382 216h12v12h-12zM773 646h12v12h-12zM392 177h12v12h-12zM821 506h12v12h-12zM639 331h12v12h-12zM815 484h12v12h-12zM1080 670h12v12h-12zM507 188h12v12h-12zM1093 10h12v12h-12zM463 704h12v12h-12zM549 612h12v12h-12zM378 477h12v12h-12zM327 421h12v12h-12zM1110 151h12v12h-12zM731 110h12v12h-12zM52 16h12v12h-12zM1117 760h12v12h-12zM1117 -10h12v12h-12zM438 166h12v12h-12zM480 642h12v12h-12zM317 691h12v12h-12zM71 42h12v12h-12zM248 649h12v12h-12zM307 388h12v12h-12zM393 561h12v12h-12zM62 327h12v12h-12zM382 671h12v12h-12zM429 14h12v12h-12zM262 52h12v12h-12zM329 380h12v12h-12zM1138 691h12v12h-12zM94 597h12v12h-12zM359 283h12v12h-12zM374 231h12v12h-12zM1029 145h12v12h-12zM570 709h12v12h-12zM59 677h12v12h-12zM825 742h12v12h-12zM1 671h12v12h-12zM189 123h12v12h-12zM809 53h12v12h-12zM874 506h12v12h-12zM1052 495h12v12h-12zM1187 424h12v12h-12zM1092 280h12v12h-12zM188 642h12v12h-12zM805 742h12v12h-12zM211 432h12v12h-12zM1180 369h12v12h-12zM896 73h12v12h-12zM1168 588h12v12h-12zM770 708h12v12h-12zM206 284h12v12h-12zM734 589h12v12h-12zM698 731h12v12h-12zM517 548h12v12h-12zM50 333h12v12h-12zM360 140h12v12h-12zM22 668h12v12h-12zM327 276h12v12h-12zM987 246h12v12h-12zM69 206h12v12h-12zM357 439h12v12h-12zM823 552h12v12h-12zM116 610h12v12h-12zM211 534h12v12h-12zM777 345h12v12h-12zM28 423h12v12h-12zM30 578h12v12h-12zM280 737h12v12h-12zM1039 684h12v12h-12zM606 39h12v12h-12zM980 714h12v12h-12zM1140 244h12v12h-12zM1016 18h12v12h-12zM519 239h12v12h-12zM721 66h12v12h-12zM334 551h12v12h-12zM292 428h12v12h-12zM972 21h12v12h-12zM545 76h12v12h-12zM388 571h12v12h-12zM1181 653h12v12h-12zM92 186h12v12h-12zM805 637h12v12h-12zM417 254h12v12h-12zM330 74h12v12h-12zM594 185h12v12h-12zM764 366h12v12h-12zM151 203h12v12h-12zM58 196h12v12h-12zM534 480h12v12h-12zM603 183h12v12h-12zM504 188h12v12h-12zM935 355h12v12h-12zM1098 674h12v12h-12zM471 9h12v12h-12zM577 596h12v12h-12zM489 755h12v12h-12zM803 273h12v12h-12zM490 24h12v12h-12zM982 730h12v12h-12zM752 509h12v12h-12zM435 204h12v12h-12zM221 31h12v12h-12zM1089 510h12v12h-12zM835 254h12v12h-12zM1056 742h12v12h-12zM753 196h12v12h-12zM947 95h12v12h-12zM165 78h12v12h-12zM509 766h12v12h-12zM509 -4h12v12h-12zM240 176h12v12h-12zM1046 133h12v12h-12zM168 459h12v12h-12zM107 473h12v12h-12zM350 699h12v12h-12zM64 669h12v12h-12zM1071 239h12v12h-12zM1096 445h12v12h-12zM1104 676h12v12h-12zM1048 128h12v12h-12zM1166 314h12v12h-12zM1159 626h12v12h-12zM129 355h12v12h-12zM917 86h12v12h-12zM590 408h12v12h-12zM78 36h12v12h-12zM1008 37h12v12h-12zM810 759h12v12h-12zM810 -11h12v12h-12zM627 575h12v12h-12zM136 576h12v12h-12zM339 619h12v12h-12zM1043 586h12v12h-12zM567 492h12v12h-12zM161 421h12v12h-12zM150 457h12v12h-12zM530 152h12v12h-12zM901 580h12v12h-12zM33 565h12v12h-12zM1090 150h12v12h-12zM369 307h12v12h-12zM1057 5h12v12h-12zM821 25h12v12h-12zM823 73h12v12h-12zM287 677h12v12h-12zM1177 430h12v12h-12zM160 592h12v12h-12zM667 134h12v12h-12zM462 318h12v12h-12zM73 769h12v12h-12zM73 -1h12v12h-12zM317 626h12v12h-12zM900 683h12v12h-12zM1089 378h12v12h-12zM1145 370h12v12h-12zM453 500h12v12h-12zM257 233h12v12h-12zM611 373h12v12h-12zM112 588h12v12h-12zM148 248h12v12h-12zM683 186h12v12h-12zM389 48h12v12h-12zM605 410h12v12h-12zM81 289h12v12h-12zM1000 762h12v12h-12zM1000 -8h12v12h-12zM527 485h12v12h-12zM954 116h12v12h-12zM670 264h12v12h-12zM882 590h12v12h-12zM1183 165h12v12h-12zM1107 441h12v12h-12zM797 382h12v12h-12zM1193 110h12v12h-12zM-7 110h12v12h-12zM104 235h12v12h-12zM224 242h12v12h-12zM1018 463h12v12h-12zM1010 501h12v12h-12zM579 486h12v12h-12zM140 769h12v12h-12zM140 -1h12v12h-12zM96 304h12v12h-12zM426 167h12v12h-12zM64 677h12v12h-12zM1126 239h12v12h-12zM764 233h12v12h-12zM1054 560h12v12h-12zM559 308h12v12h-12zM808 165h12v12h-12zM240 322h12v12h-12zM1154 286h12v12h-12zM48 662h12v12h-12zM1130 629h12v12h-12zM770 329h12v12h-12zM385 192h12v12h-12zM74 71h12v12h-12zM1015 409h12v12h-12zM615 48h12v12h-12zM819 91h12v12h-12zM490 149h12v12h-12zM187 672h12v12h-12zM616 111h12v12h-12zM904 148h12v12h-12zM636 239h12v12h-12zM417 417h12v12h-12zM782 465h12v12h-12zM813 122h12v12h-12zM67 286h12v12h-12zM814 537h12v12h-12zM165 613h12v12h-12zM80 2h12v12h-12zM619 233h12v12h-12zM121 734h12v12h-12zM165 44h12v12h-12zM617 385h12v12h-12zM830 549h12v12h-12zM692 437h12v12h-12zM72 462h12v12h-12zM1048 115h12v12h-12zM1151 626h12v12h-12zM257 670h12v12h-12zM209 352h12v12h-12zM559 128h12v12h-12zM252 207h12v12h-12zM373 355h12v12h-12zM538 551h12v12h-12zM942 408h12v12h-12zM916 720h12v12h-12zM723 761h12v12h-12zM723 -9h12v12h-12zM1080 336h12v12h-12zM569 164h12v12h-12zM983 552h12v12h-12zM107 413h12v12h-12zM1104 473h12v12h-12zM146 152h12v12h-12zM89 705h12v12h-12zM1179 626h12v12h-12zM1138 691h12v12h-12zM590 729h12v12h-12zM316 732h12v12h-12zM768 346h12v12h-12zM95 304h12v12h-12zM237 615h12v12h-12zM564 464h12v12h-12zM382 558h12v12h-12zM1152 263h12v12h-12zM816 111h12v12h-12zM79 703h12v12h-12zM1196 31h12v12h-12zM-4 31h12v12h-12zM1014 508h12v12h-12zM907 185h12v12h-12zM314 727h12v12h-12zM1040 97h12v12h-12zM161 595h12v12h-12zM669 491h12v12h-12zM771 40h12v12h-12zM250 323h12v12h-12zM645 700h12v12h-12zM356 433h12v12h-12zM196 665h12v12h-12zM35 8h12v12h-12zM918 602h12v12h-12zM86 615h12v12h-12zM170 148h12v12h-12zM640 76h12v12h-12zM628 598h12v12h-12zM525 222h12v12h-12zM564 19h12v12h-12zM1141 157h12v12h-12zM765 762h12v12h-12zM765 -8h12v12h-12zM1146 659h12v12h-12zM492 559h12v12h-12zM712 120h12v12h-12zM364 562h12v12h-12zM981 763h12v12h-12zM981 -7h12v12h-12zM591 128h12v12h-12zM631 548h12v12h-12zM250 173h12v12h-12zM416 72h12v12h-12zM534 761h12v12h-12zM534 -9h12v12h-12zM666 753h12v12h-12zM270 3h12v12h-12zM443 66h12v12h-12zM777 647h12v12h-12zM517 11h12v12h-12zM388 65h12v12h-12zM1163 29h12v12h-12zM454 77h12v12h-12zM251 132h12v12h-12zM859 703h12v12h-12zM475 151h12v12h-12zM821 428h12v12h-12zM618 304h12v12h-12zM109 187h12v12h-12zM569 595h12v12h-12zM956 299h12v12h-12zM1009 429h12v12h-12zM535 762h12v12h-12zM535 -8h12v12h-12zM824 432h12v12h-12zM676 515h12v12h-12zM252 677h12v12h-12zM1083 692h12v12h-12zM1143 626h12v12h-12zM514 759h12v12h-12zM514 -11h12v12h-12zM729 321h12v12h-12zM745 394h12v12h-12zM628 313h12v12h-12zM534 672h12v12h-12zM33 390h12v12h-12zM645 301h12v12h-12zM1090 211h12v12h-12zM306 450h12v12h-12zM398 501h12v12h-12zM779 642h12v12h-12zM1020 586h12v12h-12zM675 156h12v12h-12zM700 105h12v12h-12zM940 742h12v12h-12zM1035 85h12v12h-12zM844 110h12v12h-12zM1016 463h12v12h-12zM563 60h12v12h-12zM940 454h12v12h-12zM21 93h12v12h-12zM285 542h12v12h-12zM247 684h12v12h-12zM255 546h12v12h-12zM1069 574h12v12h-12zM58 448h12v12h-12zM976 416h12v12h-12zM1064 36h12v12h-12zM232 407h12v12h-12zM1048 258h12v12h-12zM1099 697h12v12h-12zM1130 661h12v12h-12zM128 654h12v12h-12zM375 645h12v12h-12zM16 504h12v12h-12zM45 666h12v12h-12zM437 140h12v12h-12zM138 746h12v12h-12zM286 567h12v12h-12zM1035 438h12v12h-12zM552 726h12v12h-12zM697 717h12v12h-12zM962 363h12v12h-12zM294 614h12v12h-12zM1138 712h12v12h-12zM464 96h12v12h-12zM488 386h12v12h-12zM223 5h12v12h-12zM163 211h12v12h-12zM702 318h12v12h-12zM636 749h12v12h-12zM219 735h12v12h-12zM183 447h12v12h-12zM428 430h12v12h-12zM887 535h12v12h-12zM797 66h12v12h-12zM861 206h12v12h-12zM438 492h12v12h-12zM131 406h12v12h-12zM398 540h12v12h-12zM522 146h12v12h-12zM722 110h12v12h-12zM522 356h12v12h-12zM89 318h12v12h-12zM871 166h12v12h-12zM1013 88h12v12h-12zM16 595h12v12h-12zM1 551h12v12h-12zM191 394h12v12h-12zM1180 700h12v12h-12zM193 661h12v12h-12zM616 679h12v12h-12zM1155 146h12v12h-12zM1050 425h12v12h-12zM951 624h12v12h-12zM107 420h12v12h-12zM1180 591h12v12h-12zM678 52h12v12h-12zM186 509h12v12h-12zM533 400h12v12h-12zM264 599h12v12h-12zM279 615h12v12h-12zM1031 1h12v12h-12zM113 543h12v12h-12zM126 653h12v12h-12zM1164 492h12v12h-12zM1172 268h12v12h-12zM1025 673h12v12h-12zM1058 187h12v12h-12zM596 520h12v12h-12zM673 222h12v12h-12zM740 695h12v12h-12zM589 11h12v12h-12zM656 354h12v12h-12zM916 173h12v12h-12zM1104 168h12v12h-12zM1071 484h12v12h-12zM41 231h12v12h-12zM482 507h12v12h-12zM129 293h12v12h-12zM1167 662h12v12h-12zM583 373h12v12h-12zM761 72h12v12h-12zM220 403h12v12h-12zM552 744h12v12h-12zM1153 390h12v12h-12zM554 243h12v12h-12zM441 635h12v12h-12zM468 685h12v12h-12zM138 33h12v12h-12zM477 180h12v12h-12zM1058 565h12v12h-12zM213 227h12v12h-12zM891 734h12v12h-12zM74 629h12v12h-12zM103 297h12v12h-12zM755 402h12v12h-12zM1120 677h12v12h-12zM674 674h12v12h-12zM475 185h12v12h-12zM525 284h12v12h-12zM644 111h12v12h-12zM518 675h12v12h-12zM153 434h12v12h-12zM1120 472h12v12h-12zM574 543h12v12h-12zM96 38h12v12h-12zM965 91h12v12h-12zM857 110h12v12h-12zM87 714h12v12h-12zM66 290h12v12h-12zM823 94h12v12h-12zM902 37h12v12h-12zM1049 508h12v12h-12zM543 737h12v12h-12zM403 161h12v12h-12zM855 306h12v12h-12zM849 506h12v12h-12zM118 417h12v12h-12zM348 729h12v12h-12zM576 169h12v12h-12zM200 758h12v12h-12zM43 416h12v12h-12zM1188 548h12v12h-12zM515 280h12v12h-12zM445 423h12v12h-12zM81 524h12v12h-12zM239 655h12v12h-12zM974 383h12v12h-12zM662 65h12v12h-12zM1032 36h12v12h-12zM996 651h12v12h-12zM954 173h12v12h-12zM898 91h12v12h-12zM240 116h12v12h-12zM832 347h12v12h-12zM168 431h12v12h-12zM460 469h12v12h-12zM973 485h12v12h-12zM1095 452h12v12h-12zM1034 518h12v12h-12zM260 690h12v12h-12zM633 404h12v12h-12zM341 710h12v12h-12zM128 331h12v12h-12zM688 208h12v12h-12zM615 523h12v12h-12zM898 605h12v12h-12zM156 526h12v12h-12zM456 212h12v12h-12zM166 280h12v12h-12zM358 25h12v12h-12zM864 522h12v12h-12zM809 143h12v12h-12zM43 435h12v12h-12zM376 257h12v12h-12zM560 714h12v12h-12zM662 91h12v12h-12zM1126 61h12v12h-12zM434 470h12v12h-12zM731 59h12v12h-12zM632 175h12v12h-12zM824 129h12v12h-12zM95 167h12v12h-12zM729 748h12v12h-12zM1192 407h12v12h-12zM-8 407h12v12h-12zM1137 551h12v12h-12zM701 132h12v12h-12zM62 513h12v12h-12zM774 148h12v12h-12zM364 158h12v12h-12zM1192 561h12v12h-12zM-8 561h12v12h-12zM623 273h12v12h-12zM583 319h12v12h-12zM1106 537h12v12h-12zM487 755h12v12h-12zM1125 431h12v12h-12zM508 28h12v12h-12zM195 140h12v12h-12zM260 697h12v12h-12zM1112 224h12v12h-12zM743 302h12v12h-12zM397 86h12v12h-12zM263 643h12v12h-12zM44 729h12v12h-12zM657 260h12v12h-12zM185 621h12v12h-12zM680 538h12v12h-12zM998 363h12v12h-12zM951 735h12v12h-12zM726 126h12v12h-12zM135 534h12v12h-12zM310 436h12v12h-12zM1095 295h12v12h-12zM318 740h12v12h-12zM1046 9h12v12h-12zM1017 301h12v12h-12zM435 307h12v12h-12zM36 394h12v12h-12zM615 384h12v12h-12zM1185 517h12v12h-12zM24 363h12v12h-12zM783 315h12v12h-12zM709 753h12v12h-12zM253 477h12v12h-12zM825 663h12v12h-12zM107 461h12v12h-12zM220 738h12v12h-12zM958 481h12v12h-12zM261 541h12v12h-12zM30 639h12v12h-12zM489 627h12v12h-12zM1005 248h12v12h-12zM1118 361h12v12h-12zM1153 42h12v12h-12zM397 360h12v12h-12zM160 66h12v12h-12zM418 744h12v12h-12zM174 587h12v12h-12zM55 410h12v12h-12zM131 229h12v12h-12zM721 436h12v12h-12zM360 436h12v12h-12zM137 106h12v12h-12zM620 224h12v12h-12zM759 721h12v12h-12zM1055 757h12v12h-12zM27 523h12v12h-12zM127 67h12v12h-12zM571 446h12v12h-12zM1065 49h12v12h-12zM344 492h12v12h-12zM67 179h12v12h-12zM387 500h12v12h-12zM950 725h12v12h-12zM427 690h12v12h-12zM1139 304h12v12h-12zM656 715h12v12h-12zM449 571h12v12h-12zM125 645h12v12h-12zM637 250h12v12h-12zM77 72h12v12h-12zM613 198h12v12h-12zM48 356h12v12h-12zM491 21h12v12h-12zM637 760h12v12h-12zM637 -10h12v12h-12zM83 442h12v12h-12zM1032 220h12v12h-12zM273 128h12v12h-12zM1109 770h12v12h-12zM1109 0h12v12h-12zM29 103h12v12h-12zM1057 582h12v12h-12zM681 130h12v12h-12zM466 246h12v12h-12zM303 606h12v12h-12zM922 355h12v12h-12zM148 733h12v12h-12zM114 616h12v12h-12zM245 469h12v12h-12zM606 404h12v12h-12zM152 709h12v12h-12zM935 516h12v12h-12zM962 606h12v12h-12zM883 512h12v12h-12zM848 201h12v12h-12zM88 757h12v12h-12zM73 766h12v12h-12zM73 -4h12v12h-12zM689 200h12v12h-12zM981 577h12v12h-12zM702 472h12v12h-12zM229 208h12v12h-12zM182 129h12v12h-12zM78 619h12v12h-12zM526 547h12v12h-12zM807 749h12v12h-12zM644 104h12v12h-12zM205 630h12v12h-12zM405 439h12v12h-12zM1007 563h12v12h-12zM732 159h12v12h-12zM187 84h12v12h-12zM200 624h12v12h-12zM924 506h12v12h-12zM629 549h12v12h-12zM89 284h12v12h-12zM1075 425h12v12h-12zM1100 390h12v12h-12zM757 622h12v12h-12zM47 358h12v12h-12zM917 691h12v12h-12zM169 692h12v12h-12zM528 394h12v12h-12zM549 282h12v12h-12zM996 392h12v12h-12zM441 474h12v12h-12zM99 264h12v12h-12zM272 671h12v12h-12zM274 234h12v12h-12zM866 213h12v12h-12zM140 383h12v12h-12zM939 206h12v12h-12zM664 378h12v12h-12zM434 501h12v12h-12zM35 483h12v12h-12zM310 14h12v12h-12zM1142 109h12v12h-12zM1150 28h12v12h-12zM322 105h12v12h-12zM968 426h12v12h-12zM1063 405h12v12h-12zM1188 195h12v12h-12zM1197 549h12v12h-12zM-3 549h12v12h-12zM644 10h12v12h-12zM205 291h12v12h-12zM1068 56h12v12h-12zM865 452h12v12h-12zM521 385h12v12h-12zM364 12h12v12h-12zM575 723h12v12h-12zM873 506h12v12h-12zM631 544h12v12h-12zM946 273h12v12h-12zM8 284h12v12h-12zM955 348h12v12h-12zM278 379h12v12h-12zM831 444h12v12h-12zM713 532h12v12h-12zM298 468h12v12h-12zM944 477h12v12h-12zM750 321h12v12h-12zM879 710h12v12h-12zM609 669h12v12h-12zM118 199h12v12h-12zM784 604h12v12h-12zM922 140h12v12h-12zM993 727h12v12h-12zM1033 597h12v12h-12zM600 196h12v12h-12zM1094 505h12v12h-12zM260 503h12v12h-12zM134 675h12v12h-12zM900 559h12v12h-12zM922 280h12v12h-12zM1129 246h12v12h-12zM861 509h12v12h-12zM954 141h12v12h-12zM589 124h12v12h-12zM243 19h12v12h-12zM204 261h12v12h-12zM1132 65h12v12h-12zM393 485h12v12h-12zM11 113h12v12h-12zM842 583h12v12h-12zM522 511h12v12h-12zM1096 457h12v12h-12zM796 91h12v12h-12zM996 451h12v12h-12zM115 731h12v12h-12zM499 491h12v12h-12zM785 203h12v12h-12zM699 466h12v12h-12zM528 410h12v12h-12zM933 145h12v12h-12zM850 365h12v12h-12zM416 28h12v12h-12zM98 622h12v12h-12zM1049 553h12v12h-12zM286 335h12v12h-12zM1047 684h12v12h-12zM477 550h12v12h-12zM874 604h12v12h-12zM921 601h12v12h-12zM375 567h12v12h-12zM252 460h12v12h-12zM955 770h12v12h-12zM955 0h12v12h-12zM296 649h12v12h-12zM1131 243h12v12h-12zM470 60h12v12h-12zM926 537h12v12h-12zM723 31h12v12h-12zM763 38h12v12h-12zM743 700h12v12h-12zM995 383h12v12h-12zM240 456h12v12h-12zM556 429h12v12h-12zM645 342h12v12h-12zM578 478h12v12h-12zM691 449h12v12h-12zM251 556h12v12h-12zM691 274h12v12h-12zM566 210h12v12h-12zM226 148h12v12h-12zM714 208h12v12h-12zM186 248h12v12h-12zM180 474h12v12h-12zM657 363h12v12h-12zM195 732h12v12h-12zM140 349h12v12h-12zM1047 249h12v12h-12zM950 65h12v12h-12zM233 685h12v12h-12zM1162 274h12v12h-12zM439 467h12v12h-12zM983 227h12v12h-12zM639 474h12v12h-12zM1162 60h12v12h-12zM1129 498h12v12h-12zM1178 618h12v12h-12zM143 321h12v12h-12zM13 425h12v12h-12zM483 614h12v12h-12zM104 409h12v12h-12zM1038 398h12v12h-12zM50 306h12v12h-12zM710 395h12v12h-12zM298 108h12v12h-12zM813 155h12v12h-12zM322 296h12v12h-12zM737 425h12v12h-12zM809 57h12v12h-12zM357 644h12v12h-12zM1034 353h12v12h-12zM449 447h12v12h-12zM690 19h12v12h-12zM1141 475h12v12h-12zM114 146h12v12h-12zM240 480h12v12h-12zM1147 754h12v12h-12zM979 336h12v12h-12zM777 763h12v12h-12zM777 -7h12v12h-12zM863 301h12v12h-12zM194 362h12v12h-12zM416 695h12v12h-12zM1141 556h12v12h-12zM697 651h12v12h-12zM845 707h12v12h-12zM400 81h12v12h-12zM826 232h12v12h-12zM219 2h12v12h-12zM683 230h12v12h-12zM132 573h12v12h-12zM466 165h12v12h-12zM95 16h12v12h-12zM574 137h12v12h-12zM936 131h12v12h-12zM801 84h12v12h-12zM873 238h12v12h-12zM403 460h12v12h-12zM31 156h12v12h-12zM418 577h12v12h-12zM762 490h12v12h-12zM812 489h12v12h-12zM217 255h12v12h-12zM1150 678h12v12h-12zM601 340h12v12h-12zM520 254h12v12h-12zM1121 268h12v12h-12zM512 584h12v12h-12zM1161 578h12v12h-12zM370 98h12v12h-12zM1115 716h12v12h-12zM648 491h12v12h-12zM752 138h12v12h-12zM199 489h12v12h-12zM226 416h12v12h-12zM1052 765h12v12h-12zM1052 -5h12v12h-12zM662 166h12v12h-12zM495 701h12v12h-12zM523 470h12v12h-12zM1156 300h12v12h-12zM172 371h12v12h-12zM576 408h12v12h-12zM1191 262h12v12h-12zM-9 262h12v12h-12zM847 386h12v12h-12zM1164 356h12v12h-12zM1 53h12v12h-12zM291 555h12v12h-12zM1041 364h12v12h-12zM1078 653h12v12h-12zM120 534h12v12h-12zM317 52h12v12h-12zM509 427h12v12h-12zM1095 357h12v12h-12zM934 215h12v12h-12zM1101 738h12v12h-12zM503 284h12v12h-12zM392 443h12v12h-12zM567 433h12v12h-12zM260 725h12v12h-12zM839 269h12v12h-12zM142 214h12v12h-12zM591 709h12v12h-12zM628 369h12v12h-12zM704 357h12v12h-12zM492 53h12v12h-12zM370 708h12v12h-12zM1027 353h12v12h-12zM1135 631h12v12h-12zM419 519h12v12h-12zM953 281h12v12h-12zM88 182h12v12h-12zM1188 768h12v12h-12zM1188 -2h12v12h-12zM1176 251h12v12h-12zM441 729h12v12h-12zM284 142h12v12h-12zM1054 618h12v12h-12zM974 129h12v12h-12zM321 418h12v12h-12zM66 752h12v12h-12zM1016 400h12v12h-12zM342 442h12v12h-12zM888 712h12v12h-12zM676 39h12v12h-12zM757 351h12v12h-12zM962 97h12v12h-12zM851 225h12v12h-12zM262 587h12v12h-12zM129 125h12v12h-12zM8 412h12v12h-12zM985 392h12v12h-12zM661 317h12v12h-12zM665 30h12v12h-12zM839 134h12v12h-12zM195 524h12v12h-12zM408 159h12v12h-12zM1109 369h12v12h-12zM557 33h12v12h-12zM659 142h12v12h-12zM741 666h12v12h-12zM1055 688h12v12h-12zM176 50h12v12h-12zM826 628h12v12h-12zM933 531h12v12h-12zM767 243h12v12h-12zM890 559h12v12h-12zM275 593h12v12h-12zM1119 633h12v12h-12zM472 92h12v12h-12zM992 614h12v12h-12zM616 655h12v12h-12zM1089 670h12v12h-12zM859 704h12v12h-12zM443 575h12v12h-12zM753 307h12v12h-12zM1160 523h12v12h-12zM317 760h12v12h-12zM317 -10h12v12h-12zM495 212h12v12h-12zM670 611h12v12h-12zM130 19h12v12h-12zM1133 95h12v12h-12zM713 412h12v12h-12zM420 458h12v12h-12zM446 715h12v12h-12zM165 162h12v12h-12zM175 357h12v12h-12zM251 222h12v12h-12zM238 656h12v12h-12zM152 562h12v12h-12zM1082 7h12v12h-12zM649 29h12v12h-12zM429 78h12v12h-12zM453 429h12v12h-12zM69 704h12v12h-12zM371 105h12v12h-12zM223 425h12v12h-12zM606 266h12v12h-12zM146 673h12v12h-12zM1130 592h12v12h-12zM6 712h12v12h-12zM195 255h12v12h-12zM152 467h12v12h-12zM641 414h12v12h-12zM897 283h12v12h-12zM1023 169h12v12h-12zM280 55h12v12h-12zM924 577h12v12h-12zM551 494h12v12h-12zM343 201h12v12h-12zM42 688h12v12h-12zM1041 671h12v12h-12zM5 641h12v12h-12zM135 34h12v12h-12zM987 661h12v12h-12zM697 251h12v12h-12zM543 48h12v12h-12zM1125 209h12v12h-12zM58 511h12v12h-12zM138 682h12v12h-12zM408 162h12v12h-12zM563 72h12v12h-12zM107 424h12v12h-12zM1087 311h12v12h-12zM452 649h12v12h-12zM544 241h12v12h-12zM514 547h12v12h-12zM400 678h12v12h-12zM1134 95h12v12h-12zM925 140h12v12h-12zM1093 358h12v12h-12zM435 377h12v12h-12zM360 147h12v12h-12zM1069 725h12v12h-12zM1189 45h12v12h-12zM-11 45h12v12h-12zM456 688h12v12h-12zM257 274h12v12h-12zM334 216h12v12h-12zM374 169h12v12h-12zM355 413h12v12h-12zM699 206h12v12h-12zM352 87h12v12h-12zM1107 737h12v12h-12zM264 331h12v12h-12zM551 701h12v12h-12zM731 1h12v12h-12zM1038 32h12v12h-12zM169 695h12v12h-12zM467 588h12v12h-12zM991 494h12v12h-12zM731 173h12v12h-12zM784 91h12v12h-12zM905 740h12v12h-12zM996 13h12v12h-12zM1117 455h12v12h-12zM656 395h12v12h-12zM1005 321h12v12h-12zM673 755h12v12h-12zM997 18h12v12h-12zM1006 684h12v12h-12zM354 321h12v12h-12zM369 25h12v12h-12zM215 77h12v12h-12zM756 753h12v12h-12zM348 445h12v12h-12zM1169 439h12v12h-12zM512 140h12v12h-12zM900 194h12v12h-12zM676 680h12v12h-12zM554 538h12v12h-12zM927 550h12v12h-12zM739 142h12v12h-12zM669 383h12v12h-12zM541 563h12v12h-12zM537 695h12v12h-12zM988 97h12v12h-12zM670 186h12v12h-12zM45 121h12v12h-12zM1184 118h12v12h-12zM75 647h12v12h-12zM1185 400h12v12h-12zM769 679h12v12h-12zM134 255h12v12h-12zM920 318h12v12h-12zM734 766h12v12h-12zM734 -4h12v12h-12zM1120 11h12v12h-12zM296 215h12v12h-12zM425 580h12v12h-12zM221 709h12v12h-12zM780 226h12v12h-12zM1113 675h12v12h-12zM441 175h12v12h-12zM491 409h12v12h-12zM594 178h12v12h-12zM111 572h12v12h-12zM818 439h12v12h-12zM230 126h12v12h-12zM661 731h12v12h-12zM2 59h12v12h-12zM532 757h12v12h-12zM416 148h12v12h-12zM740 607h12v12h-12zM260 134h12v12h-12zM26 658h12v12h-12zM1053 16h12v12h-12zM319 413h12v12h-12zM514 688h12v12h-12zM412 44h12v12h-12zM59 533h12v12h-12zM722 477h12v12h-12zM556 716h12v12h-12zM497 563h12v12h-12zM126 480h12v12h-12zM463 710h12v12h-12zM162 490h12v12h-12zM513 359h12v12h-12zM730 259h12v12h-12zM69 421h12v12h-12zM1092 230h12v12h-12zM873 503h12v12h-12zM1008 446h12v12h-12zM517 358h12v12h-12zM915 344h12v12h-12zM1016 629h12v12h-12zM330 165h12v12h-12zM1107 648h12v12h-12zM748 751h12v12h-12zM746 700h12v12h-12zM1145 510h12v12h-12zM551 379h12v12h-12zM1167 67h12v12h-12zM649 403h12v12h-12zM741 677h12v12h-12zM981 27h12v12h-12zM579 409h12v12h-12zM360 204h12v12h-12zM188 580h12v12h-12zM277 361h12v12h-12zM1182 459h12v12h-12zM921 611h12v12h-12zM713 188h12v12h-12zM1145 589h12v12h-12zM1131 653h12v12h-12zM1020 0h12v12h-12zM960 577h12v12h-12zM644 296h12v12h-12zM178 563h12v12h-12zM1179 403h12v12h-12zM165 660h12v12h-12zM466 360h12v12h-12zM650 14h12v12h-12zM963 696h12v12h-12zM357 307h12v12h-12zM53 201h12v12h-12zM440 402h12v12h-12zM570 241h12v12h-12zM350 174h12v12h-12zM500 110h12v12h-12zM110 198h12v12h-12zM42 376h12v12h-12zM131 301h12v12h-12zM1096 50h12v12h-12zM359 490h12v12h-12zM361 530h12v12h-12zM343 601h12v12h-12zM453 364h12v12h-12zM738 574h12v12h-12zM745 529h12v12h-12zM881 118h12v12h-12zM581 15h12v12h-12zM340 578h12v12h-12zM375 44h12v12h-12zM218 97h12v12h-12zM159 211h12v12h-12zM893 627h12v12h-12zM1045 182h12v12h-12zM555 486h12v12h-12zM641 289h12v12h-12zM548 482h12v12h-12zM220 426h12v12h-12zM828 473h12v12h-12zM980 294h12v12h-12zM250 437h12v12h-12zM47 28h12v12h-12zM672 703h12v12h-12zM1174 550h12v12h-12zM1189 432h12v12h-12zM-11 432h12v12h-12zM897 343h12v12h-12zM430 655h12v12h-12zM32 45h12v12h-12zM982 58h12v12h-12zM1053 200h12v12h-12zM597 45h12v12h-12zM217 113h12v12h-12zM868 288h12v12h-12zM1103 193h12v12h-12zM541 151h12v12h-12zM601 528h12v12h-12zM161 423h12v12h-12zM735 196h12v12h-12zM1108 533h12v12h-12zM830 669h12v12h-12zM357 281h12v12h-12zM45 195h12v12h-12zM572 518h12v12h-12zM650 716h12v12h-12zM661 182h12v12h-12zM243 82h12v12h-12zM905 542h12v12h-12zM116 443h12v12h-12zM771 483h12v12h-12zM1154 599h12v12h-12zM1080 218h12v12h-12zM103 708h12v12h-12zM656 225h12v12h-12zM46 32h12v12h-12zM854 435h12v12h-12zM202 25h12v12h-12zM1113 347h12v12h-12zM1187 552h12v12h-12zM1147 306h12v12h-12zM313 425h12v12h-12zM292 245h12v12h-12zM1117 179h12v12h-12zM911 227h12v12h-12zM101 724h12v12h-12zM251 185h12v12h-12zM242 649h12v12h-12zM141 133h12v12h-12zM882 61h12v12h-12zM266 522h12v12h-12zM1055 317h12v12h-12zM536 342h12v12h-12zM1110 616h12v12h-12zM376 567h12v12h-12zM133 196h12v12h-12zM357 267h12v12h-12zM1032 461h12v12h-12zM1121 658h12v12h-12zM487 163h12v12h-12zM658 70h12v12h-12zM1157 345h12v12h-12zM325 261h12v12h-12zM545 567h12v12h-12zM689 188h12v12h-12zM1194 36h12v12h-12zM-6 36h12v12h-12zM323 205h12v12h-12zM93 543h12v12h-12zM662 232h12v12h-12zM251 680h12v12h-12zM411 709h12v12h-12zM210 681h12v12h-12zM1178 434h12v12h-12zM1105 523h12v12h-12zM1167 481h12v12h-12zM576 537h12v12h-12zM969 354h12v12h-12zM1198 302h12v12h-12zM-2 302h12v12h-12zM1100 131h12v12h-12zM838 377h12v12h-12zM413 733h12v12h-12zM1099 522h12v12h-12zM1104 243h12v12h-12zM796 370h12v12h-12zM303 285h12v12h-12zM506 722h12v12h-12zM253 333h12v12h-12zM355 346h12v12h-12zM666 305h12v12h-12zM975 640h12v12h-12zM1139 733h12v12h-12zM726 552h12v12h-12zM327 208h12v12h-12zM4 268h12v12h-12zM742 310h12v12h-12zM1086 26h12v12h-12zM1111 521h12v12h-12zM64 279h12v12h-12zM29 19h12v12h-12zM482 533h12v12h-12zM798 159h12v12h-12zM1172 659h12v12h-12zM528 56h12v12h-12zM1177 598h12v12h-12zM438 61h12v12h-12zM126 507h12v12h-12zM109 16h12v12h-12zM338 660h12v12h-12zM828 315h12v12h-12zM479 493h12v12h-12zM128 415h12v12h-12zM939 766h12v12h-12zM939 -4h12v12h-12zM410 570h12v12h-12zM346 582h12v12h-12zM828 669h12v12h-12zM354 169h12v12h-12zM419 233h12v12h-12zM1109 15h12v12h-12zM958 77h12v12h-12zM141 602h12v12h-12zM1195 539h12v12h-12zM-5 539h12v12h-12zM1177 513h12v12h-12zM329 339h12v12h-12zM315 351h12v12h-12zM803 32h12v12h-12zM499 749h12v12h-12zM730 187h12v12h-12zM181 182h12v12h-12zM303 85h12v12h-12zM254 21h12v12h-12zM447 66h12v12h-12zM136 765h12v12h-12zM136 -5h12v12h-12zM986 355h12v12h-12zM359 505h12v12h-12zM888 347h12v12h-12zM5 114h12v12h-12zM792 601h12v12h-12zM513 465h12v12h-12zM1049 436h12v12h-12zM720 56h12v12h-12zM462 717h12v12h-12zM776 659h12v12h-12zM781 384h12v12h-12zM1103 14h12v12h-12zM405 236h12v12h-12zM663 543h12v12h-12zM686 328h12v12h-12zM490 545h12v12h-12zM971 460h12v12h-12zM409 2h12v12h-12zM1 636h12v12h-12zM224 253h12v12h-12zM915 573h12v12h-12zM915 171h12v12h-12zM759 471h12v12h-12zM403 175h12v12h-12zM761 716h12v12h-12zM45 309h12v12h-12zM242 766h12v12h-12zM242 -4h12v12h-12zM649 392h12v12h-12zM465 212h12v12h-12zM36 463h12v12h-12zM665 577h12v12h-12zM58 739h12v12h-12zM221 509h12v12h-12zM244 152h12v12h-12zM406 69h12v12h-12zM190 429h12v12h-12zM51 729h12v12h-12zM330 698h12v12h-12zM962 489h12v12h-12zM687 682h12v12h-12zM404 733h12v12h-12zM336 552h12v12h-12zM212 744h12v12h-12zM707 735h12v12h-12zM1111 399h12v12h-12zM571 490h12v12h-12zM218 613h12v12h-12zM163 97h12v12h-12zM344 620h12v12h-12zM752 525h12v12h-12zM388 8h12v12h-12zM1079 461h12v12h-12zM1112 256h12v12h-12zM1033 264h12v12h-12zM80 196h12v12h-12zM706 625h12v12h-12zM553 632h12v12h-12zM755 649h12v12h-12zM976 641h12v12h-12zM501 176h12v12h-12zM53 62h12v12h-12zM72 279h12v12h-12zM438 130h12v12h-12zM122 746h12v12h-12zM147 45h12v12h-12zM146 199h12v12h-12zM87 57h12v12h-12zM1078 284h12v12h-12zM942 447h12v12h-12zM1075 100h12v12h-12zM438 549h12v12h-12zM71 555h12v12h-12zM805 577h12v12h-12zM930 466h12v12h-12zM889 649h12v12h-12zM794 15h12v12h-12zM231 85h12v12h-12zM291 363h12v12h-12zM1173 461h12v12h-12zM417 34h12v12h-12zM1078 227h12v12h-12zM205 398h12v12h-12zM534 507h12v12h-12zM1023 483h12v12h-12zM56 560h12v12h-12zM1164 165h12v12h-12zM277 349h12v12h-12zM911 405h12v12h-12zM1138 763h12v12h-12zM1138 -7h12v12h-12zM540 38h12v12h-12zM560 162h12v12h-12zM1046 488h12v12h-12zM104 609h12v12h-12zM608 25h12v12h-12zM76 301h12v12h-12zM1073 616h12v12h-12zM1198 521h12v12h-12zM-2 521h12v12h-12zM1142 407h12v12h-12zM1089 361h12v12h-12zM407 464h12v12h-12zM136 341h12v12h-12zM1110 347h12v12h-12zM665 626h12v12h-12zM858 324h12v12h-12zM459 485h12v12h-12zM566 622h12v12h-12zM661 277h12v12h-12zM473 651h12v12h-12zM552 598h12v12h-12zM856 56h12v12h-12zM738 419h12v12h-12zM273 279h12v12h-12zM277 546h12v12h-12zM59 315h12v12h-12zM56 602h12v12h-12zM565 762h12v12h-12zM565 -8h12v12h-12zM1020 740h12v12h-12zM322 187h12v12h-12zM165 287h12v12h-12zM452 36h12v12h-12zM1148 547h12v12h-12zM959 268h12v12h-12zM364 689h12v12h-12zM691 292h12v12h-12zM983 583h12v12h-12zM980 56h12v12h-12zM809 657h12v12h-12zM653 169h12v12h-12zM303 610h12v12h-12zM546 122h12v12h-12zM209 430h12v12h-12zM426 461h12v12h-12zM775 436h12v12h-12zM0 644h12v12h-12zM926 445h12v12h-12zM1057 543h12v12h-12zM504 500h12v12h-12zM747 528h12v12h-12zM595 146h12v12h-12zM558 66h12v12h-12zM398 380h12v12h-12zM482 6h12v12h-12zM1004 113h12v12h-12zM851 433h12v12h-12zM131 34h12v12h-12zM909 287h12v12h-12zM851 727h12v12h-12zM801 94h12v12h-12zM453 671h12v12h-12zM1005 3h12v12h-12zM924 479h12v12h-12zM1169 36h12v12h-12zM841 53h12v12h-12zM822 661h12v12h-12zM446 16h12v12h-12zM288 164h12v12h-12z" fill="#1d6fe0"/></pattern><pattern id="patc" width="120" height="77" patternUnits="userSpaceOnUse"><path transform="scale(0.1)" d="M192 661h12v12h-12zM703 563h12v12h-12zM989 691h12v12h-12zM357 122h12v12h-12zM822 452h12v12h-12zM557 248h12v12h-12zM1070 688h12v12h-12zM678 578h12v12h-12zM1192 35h12v12h-12zM-8 35h12v12h-12zM291 28h12v12h-12zM131 188h12v12h-12zM415 443h12v12h-12zM935 139h12v12h-12zM648 104h12v12h-12zM1109 478h12v12h-12zM1193 278h12v12h-12zM-7 278h12v12h-12zM1107 467h12v12h-12zM195 47h12v12h-12zM708 198h12v12h-12zM871 747h12v12h-12zM1103 141h12v12h-12zM176 333h12v12h-12zM735 266h12v12h-12zM65 479h12v12h-12zM892 48h12v12h-12zM688 684h12v12h-12zM152 23h12v12h-12zM136 498h12v12h-12zM629 339h12v12h-12zM593 263h12v12h-12zM646 718h12v12h-12zM1173 551h12v12h-12zM1174 734h12v12h-12zM355 694h12v12h-12zM90 28h12v12h-12zM350 151h12v12h-12zM976 702h12v12h-12zM317 307h12v12h-12zM171 111h12v12h-12zM725 82h12v12h-12zM829 66h12v12h-12zM209 167h12v12h-12zM70 125h12v12h-12zM197 175h12v12h-12zM284 664h12v12h-12zM434 95h12v12h-12zM675 380h12v12h-12zM1096 250h12v12h-12zM419 586h12v12h-12zM761 77h12v12h-12zM795 635h12v12h-12zM339 490h12v12h-12zM665 482h12v12h-12zM1179 201h12v12h-12zM1196 220h12v12h-12zM-4 220h12v12h-12zM510 126h12v12h-12zM989 454h12v12h-12zM401 258h12v12h-12zM964 455h12v12h-12zM453 721h12v12h-12zM935 598h12v12h-12zM94 349h12v12h-12zM240 31h12v12h-12zM754 509h12v12h-12zM261 261h12v12h-12zM358 257h12v12h-12zM811 756h12v12h-12zM354 163h12v12h-12zM382 332h12v12h-12zM984 261h12v12h-12zM141 36h12v12h-12zM47 568h12v12h-12zM997 147h12v12h-12zM1082 570h12v12h-12zM812 8h12v12h-12zM752 426h12v12h-12zM1069 528h12v12h-12zM637 673h12v12h-12zM138 43h12v12h-12zM451 521h12v12h-12zM529 638h12v12h-12zM1021 77h12v12h-12zM733 41h12v12h-12zM78 29h12v12h-12zM791 130h12v12h-12zM1010 747h12v12h-12zM100 421h12v12h-12zM1101 428h12v12h-12zM77 414h12v12h-12zM831 65h12v12h-12zM440 652h12v12h-12zM604 279h12v12h-12zM211 494h12v12h-12zM208 190h12v12h-12zM341 234h12v12h-12zM958 742h12v12h-12zM1004 339h12v12h-12zM950 584h12v12h-12zM404 487h12v12h-12zM409 638h12v12h-12zM535 517h12v12h-12zM188 42h12v12h-12zM464 523h12v12h-12zM657 430h12v12h-12zM352 88h12v12h-12zM200 531h12v12h-12zM106 709h12v12h-12zM545 78h12v12h-12zM636 604h12v12h-12zM368 136h12v12h-12zM10 532h12v12h-12zM566 187h12v12h-12zM1145 89h12v12h-12zM695 271h12v12h-12zM575 620h12v12h-12zM545 695h12v12h-12zM397 684h12v12h-12zM711 231h12v12h-12zM230 198h12v12h-12zM1071 445h12v12h-12zM545 107h12v12h-12zM799 62h12v12h-12zM76 195h12v12h-12zM440 11h12v12h-12zM181 455h12v12h-12zM223 724h12v12h-12zM769 129h12v12h-12zM790 196h12v12h-12zM760 327h12v12h-12zM393 755h12v12h-12zM1026 135h12v12h-12zM935 524h12v12h-12zM716 295h12v12h-12zM450 731h12v12h-12zM886 753h12v12h-12zM319 448h12v12h-12zM281 77h12v12h-12zM35 750h12v12h-12zM891 276h12v12h-12zM193 403h12v12h-12zM399 383h12v12h-12zM577 361h12v12h-12zM572 216h12v12h-12zM960 522h12v12h-12zM159 127h12v12h-12zM748 60h12v12h-12zM626 7h12v12h-12zM269 29h12v12h-12zM373 465h12v12h-12zM471 600h12v12h-12zM144 129h12v12h-12zM60 37h12v12h-12zM186 58h12v12h-12zM482 551h12v12h-12zM1027 602h12v12h-12zM355 13h12v12h-12zM984 72h12v12h-12zM1056 503h12v12h-12zM270 460h12v12h-12zM987 122h12v12h-12zM561 62h12v12h-12zM624 725h12v12h-12zM934 510h12v12h-12zM587 685h12v12h-12zM768 340h12v12h-12zM175 291h12v12h-12zM75 125h12v12h-12zM1013 93h12v12h-12zM635 440h12v12h-12zM60 40h12v12h-12zM912 366h12v12h-12zM911 556h12v12h-12zM304 91h12v12h-12zM844 76h12v12h-12zM1152 349h12v12h-12zM702 442h12v12h-12zM1051 0h12v12h-12zM131 696h12v12h-12zM108 300h12v12h-12zM439 457h12v12h-12zM158 747h12v12h-12zM1192 213h12v12h-12zM-8 213h12v12h-12zM203 520h12v12h-12zM595 483h12v12h-12zM90 190h12v12h-12zM51 687h12v12h-12zM906 610h12v12h-12zM800 165h12v12h-12zM468 43h12v12h-12zM995 36h12v12h-12zM874 419h12v12h-12zM628 6h12v12h-12zM923 177h12v12h-12zM745 273h12v12h-12zM100 58h12v12h-12zM301 737h12v12h-12zM643 652h12v12h-12zM365 8h12v12h-12zM671 142h12v12h-12zM797 483h12v12h-12zM367 238h12v12h-12zM712 114h12v12h-12zM342 577h12v12h-12zM814 106h12v12h-12zM14 463h12v12h-12zM1162 191h12v12h-12zM640 75h12v12h-12zM452 660h12v12h-12zM526 50h12v12h-12zM198 505h12v12h-12zM1103 326h12v12h-12zM580 166h12v12h-12zM595 665h12v12h-12zM147 407h12v12h-12zM599 573h12v12h-12zM326 201h12v12h-12zM539 335h12v12h-12zM843 617h12v12h-12zM862 119h12v12h-12zM299 210h12v12h-12zM590 755h12v12h-12zM1059 229h12v12h-12zM710 171h12v12h-12zM318 557h12v12h-12zM193 136h12v12h-12zM205 243h12v12h-12zM419 571h12v12h-12zM193 228h12v12h-12zM943 546h12v12h-12zM1141 434h12v12h-12zM1191 632h12v12h-12zM-9 632h12v12h-12zM842 679h12v12h-12zM606 708h12v12h-12zM961 528h12v12h-12zM527 586h12v12h-12zM43 163h12v12h-12zM1164 374h12v12h-12zM120 599h12v12h-12zM62 489h12v12h-12zM910 515h12v12h-12zM652 535h12v12h-12zM759 700h12v12h-12zM767 478h12v12h-12zM532 379h12v12h-12zM85 22h12v12h-12zM643 459h12v12h-12zM1181 303h12v12h-12zM638 2h12v12h-12zM1045 154h12v12h-12zM1060 478h12v12h-12zM834 190h12v12h-12zM245 537h12v12h-12zM1125 352h12v12h-12zM973 605h12v12h-12zM951 61h12v12h-12zM88 88h12v12h-12zM1048 345h12v12h-12zM758 623h12v12h-12zM728 671h12v12h-12zM115 305h12v12h-12zM942 414h12v12h-12zM903 640h12v12h-12zM319 742h12v12h-12zM167 634h12v12h-12zM821 420h12v12h-12zM234 560h12v12h-12zM503 543h12v12h-12zM884 122h12v12h-12zM594 534h12v12h-12zM927 121h12v12h-12zM205 344h12v12h-12zM1024 327h12v12h-12zM671 630h12v12h-12zM644 698h12v12h-12zM133 375h12v12h-12zM670 316h12v12h-12zM477 549h12v12h-12zM1093 187h12v12h-12zM173 48h12v12h-12zM656 339h12v12h-12zM553 163h12v12h-12zM1138 41h12v12h-12zM1037 207h12v12h-12zM586 677h12v12h-12zM1037 279h12v12h-12zM676 432h12v12h-12zM142 216h12v12h-12zM117 284h12v12h-12zM485 721h12v12h-12zM1109 632h12v12h-12zM908 515h12v12h-12zM1081 393h12v12h-12zM1142 540h12v12h-12zM894 496h12v12h-12zM476 745h12v12h-12zM316 725h12v12h-12zM935 428h12v12h-12zM961 443h12v12h-12zM1146 317h12v12h-12zM762 718h12v12h-12zM1047 271h12v12h-12zM325 187h12v12h-12zM337 665h12v12h-12zM547 385h12v12h-12zM181 525h12v12h-12zM1023 603h12v12h-12zM974 627h12v12h-12zM1088 718h12v12h-12zM209 542h12v12h-12zM787 121h12v12h-12zM33 721h12v12h-12zM123 209h12v12h-12zM643 564h12v12h-12zM855 611h12v12h-12zM783 365h12v12h-12zM136 389h12v12h-12zM393 173h12v12h-12zM598 176h12v12h-12zM11 547h12v12h-12zM701 587h12v12h-12zM598 431h12v12h-12zM667 471h12v12h-12zM1195 732h12v12h-12zM-5 732h12v12h-12zM544 115h12v12h-12zM1159 353h12v12h-12zM701 745h12v12h-12zM546 119h12v12h-12zM239 754h12v12h-12zM983 553h12v12h-12zM380 652h12v12h-12zM335 544h12v12h-12zM453 214h12v12h-12zM611 121h12v12h-12zM439 438h12v12h-12zM940 675h12v12h-12zM259 214h12v12h-12zM276 663h12v12h-12zM745 40h12v12h-12zM26 285h12v12h-12zM427 543h12v12h-12zM996 32h12v12h-12zM1124 431h12v12h-12zM805 760h12v12h-12zM805 -10h12v12h-12zM230 70h12v12h-12zM429 19h12v12h-12zM510 672h12v12h-12zM1023 646h12v12h-12zM300 41h12v12h-12zM895 544h12v12h-12zM521 309h12v12h-12zM858 8h12v12h-12zM803 752h12v12h-12zM1071 174h12v12h-12zM812 226h12v12h-12zM301 104h12v12h-12zM518 286h12v12h-12zM498 569h12v12h-12zM212 198h12v12h-12zM1088 484h12v12h-12zM241 700h12v12h-12zM364 559h12v12h-12zM1169 116h12v12h-12zM784 212h12v12h-12zM1006 317h12v12h-12zM13 485h12v12h-12zM786 657h12v12h-12zM482 376h12v12h-12zM1150 259h12v12h-12zM1050 651h12v12h-12zM748 177h12v12h-12zM1129 649h12v12h-12zM894 748h12v12h-12zM124 398h12v12h-12zM713 537h12v12h-12zM1140 88h12v12h-12zM167 406h12v12h-12zM729 618h12v12h-12zM85 180h12v12h-12zM508 545h12v12h-12zM890 424h12v12h-12zM522 738h12v12h-12zM1137 660h12v12h-12zM388 204h12v12h-12zM973 99h12v12h-12zM36 404h12v12h-12zM453 131h12v12h-12zM1069 106h12v12h-12zM857 495h12v12h-12zM919 280h12v12h-12zM501 528h12v12h-12zM713 233h12v12h-12zM810 85h12v12h-12zM537 437h12v12h-12zM733 175h12v12h-12zM657 703h12v12h-12zM469 152h12v12h-12zM626 236h12v12h-12zM665 216h12v12h-12zM735 205h12v12h-12zM875 746h12v12h-12zM835 534h12v12h-12zM1082 277h12v12h-12zM1159 128h12v12h-12zM11 704h12v12h-12zM845 541h12v12h-12zM1022 695h12v12h-12zM686 717h12v12h-12zM173 132h12v12h-12zM1161 731h12v12h-12zM918 464h12v12h-12zM375 167h12v12h-12zM364 335h12v12h-12zM94 307h12v12h-12zM382 626h12v12h-12zM553 637h12v12h-12zM325 462h12v12h-12zM102 648h12v12h-12zM251 729h12v12h-12zM59 599h12v12h-12zM474 478h12v12h-12zM731 748h12v12h-12zM1015 617h12v12h-12zM1013 112h12v12h-12zM410 616h12v12h-12zM703 755h12v12h-12zM767 637h12v12h-12zM179 231h12v12h-12zM764 260h12v12h-12zM542 507h12v12h-12zM674 572h12v12h-12zM1069 517h12v12h-12zM320 204h12v12h-12zM108 628h12v12h-12zM574 78h12v12h-12zM69 154h12v12h-12zM1150 368h12v12h-12zM1003 286h12v12h-12zM235 650h12v12h-12zM556 52h12v12h-12zM1114 114h12v12h-12zM26 533h12v12h-12zM901 408h12v12h-12zM500 65h12v12h-12zM159 580h12v12h-12zM1057 672h12v12h-12zM801 717h12v12h-12zM484 336h12v12h-12zM248 494h12v12h-12zM1065 304h12v12h-12zM181 178h12v12h-12zM743 230h12v12h-12zM759 137h12v12h-12zM392 669h12v12h-12zM1160 466h12v12h-12zM1165 71h12v12h-12zM977 460h12v12h-12zM245 662h12v12h-12zM1193 343h12v12h-12zM-7 343h12v12h-12zM1092 635h12v12h-12zM1150 70h12v12h-12zM1059 253h12v12h-12zM662 763h12v12h-12zM662 -7h12v12h-12zM124 628h12v12h-12zM476 538h12v12h-12zM525 219h12v12h-12zM673 600h12v12h-12zM925 524h12v12h-12zM917 511h12v12h-12zM418 594h12v12h-12zM927 102h12v12h-12zM239 662h12v12h-12zM537 569h12v12h-12zM988 46h12v12h-12zM789 542h12v12h-12zM40 430h12v12h-12zM1102 231h12v12h-12zM960 683h12v12h-12zM586 548h12v12h-12zM525 588h12v12h-12zM863 677h12v12h-12zM63 456h12v12h-12zM463 417h12v12h-12zM460 343h12v12h-12zM1076 304h12v12h-12zM294 525h12v12h-12zM145 633h12v12h-12zM698 274h12v12h-12zM420 325h12v12h-12zM141 540h12v12h-12zM688 561h12v12h-12zM629 53h12v12h-12zM721 93h12v12h-12zM844 596h12v12h-12zM824 503h12v12h-12zM1018 5h12v12h-12zM324 189h12v12h-12zM185 721h12v12h-12zM560 462h12v12h-12zM261 464h12v12h-12zM295 285h12v12h-12zM792 488h12v12h-12zM247 40h12v12h-12zM1033 567h12v12h-12zM670 439h12v12h-12zM865 604h12v12h-12zM608 159h12v12h-12zM1164 164h12v12h-12zM707 160h12v12h-12zM979 564h12v12h-12zM973 399h12v12h-12zM402 122h12v12h-12zM217 38h12v12h-12zM624 511h12v12h-12zM559 3h12v12h-12zM942 711h12v12h-12zM437 265h12v12h-12zM621 312h12v12h-12zM137 68h12v12h-12zM435 156h12v12h-12zM336 137h12v12h-12zM424 577h12v12h-12zM1140 47h12v12h-12zM979 209h12v12h-12zM563 183h12v12h-12zM477 148h12v12h-12zM312 88h12v12h-12zM502 607h12v12h-12zM1162 15h12v12h-12zM243 119h12v12h-12zM1001 521h12v12h-12zM723 107h12v12h-12zM1109 295h12v12h-12zM887 721h12v12h-12zM243 303h12v12h-12zM1154 378h12v12h-12zM1133 45h12v12h-12zM140 430h12v12h-12zM424 292h12v12h-12zM117 646h12v12h-12zM601 540h12v12h-12zM1080 42h12v12h-12zM914 716h12v12h-12zM800 557h12v12h-12zM545 223h12v12h-12zM188 163h12v12h-12zM158 268h12v12h-12zM634 307h12v12h-12zM415 740h12v12h-12zM965 770h12v12h-12zM965 0h12v12h-12zM894 717h12v12h-12zM891 335h12v12h-12zM227 133h12v12h-12zM766 317h12v12h-12zM790 357h12v12h-12zM803 639h12v12h-12zM627 401h12v12h-12zM694 200h12v12h-12zM859 59h12v12h-12zM1173 192h12v12h-12zM31 338h12v12h-12zM295 246h12v12h-12zM954 345h12v12h-12zM694 504h12v12h-12zM210 55h12v12h-12zM282 173h12v12h-12zM847 317h12v12h-12zM497 512h12v12h-12zM930 375h12v12h-12zM1145 154h12v12h-12zM463 142h12v12h-12zM994 493h12v12h-12zM543 273h12v12h-12zM928 645h12v12h-12zM471 235h12v12h-12zM157 743h12v12h-12zM374 231h12v12h-12zM780 768h12v12h-12zM780 -2h12v12h-12zM1146 666h12v12h-12zM388 619h12v12h-12zM618 668h12v12h-12zM1108 468h12v12h-12zM846 564h12v12h-12zM321 532h12v12h-12zM739 336h12v12h-12zM475 522h12v12h-12zM97 751h12v12h-12zM533 131h12v12h-12zM1178 45h12v12h-12zM799 561h12v12h-12zM751 296h12v12h-12zM711 531h12v12h-12zM1062 149h12v12h-12zM501 645h12v12h-12zM50 402h12v12h-12zM457 685h12v12h-12zM19 552h12v12h-12zM641 458h12v12h-12zM1080 59h12v12h-12zM440 273h12v12h-12zM575 431h12v12h-12zM979 742h12v12h-12zM928 714h12v12h-12zM306 678h12v12h-12zM1176 106h12v12h-12zM856 65h12v12h-12zM161 726h12v12h-12zM200 93h12v12h-12zM244 252h12v12h-12zM1150 560h12v12h-12zM911 256h12v12h-12zM1163 684h12v12h-12zM1016 74h12v12h-12zM626 285h12v12h-12zM1030 446h12v12h-12zM337 609h12v12h-12zM780 454h12v12h-12zM810 714h12v12h-12zM938 238h12v12h-12zM1023 556h12v12h-12zM1100 365h12v12h-12zM137 127h12v12h-12zM20 109h12v12h-12zM520 56h12v12h-12zM904 676h12v12h-12zM435 26h12v12h-12zM1169 382h12v12h-12zM1150 212h12v12h-12zM718 210h12v12h-12zM1043 233h12v12h-12zM859 460h12v12h-12zM363 430h12v12h-12zM959 661h12v12h-12zM869 595h12v12h-12zM1000 75h12v12h-12zM102 312h12v12h-12zM340 163h12v12h-12zM594 495h12v12h-12zM913 706h12v12h-12zM1144 296h12v12h-12zM25 435h12v12h-12zM212 382h12v12h-12zM590 244h12v12h-12zM438 493h12v12h-12zM356 84h12v12h-12zM544 699h12v12h-12zM629 91h12v12h-12zM964 210h12v12h-12zM901 178h12v12h-12zM584 503h12v12h-12zM382 733h12v12h-12zM582 56h12v12h-12zM833 185h12v12h-12zM1044 284h12v12h-12zM392 260h12v12h-12zM306 349h12v12h-12zM115 261h12v12h-12zM91 179h12v12h-12zM637 272h12v12h-12zM250 689h12v12h-12zM1167 121h12v12h-12zM609 452h12v12h-12zM890 655h12v12h-12zM1007 246h12v12h-12zM123 185h12v12h-12zM508 35h12v12h-12zM1197 131h12v12h-12zM-3 131h12v12h-12zM222 102h12v12h-12zM94 749h12v12h-12zM288 188h12v12h-12zM473 466h12v12h-12zM1098 166h12v12h-12zM1120 469h12v12h-12zM486 692h12v12h-12zM697 732h12v12h-12zM473 358h12v12h-12zM962 308h12v12h-12zM656 277h12v12h-12zM605 577h12v12h-12zM958 357h12v12h-12zM685 758h12v12h-12zM764 663h12v12h-12zM340 454h12v12h-12zM396 410h12v12h-12zM799 328h12v12h-12zM105 140h12v12h-12zM1020 118h12v12h-12zM737 431h12v12h-12zM310 631h12v12h-12zM959 180h12v12h-12zM488 366h12v12h-12zM275 60h12v12h-12zM901 332h12v12h-12zM1004 683h12v12h-12zM172 32h12v12h-12zM166 431h12v12h-12zM910 115h12v12h-12zM1133 14h12v12h-12zM946 557h12v12h-12zM819 505h12v12h-12zM171 33h12v12h-12zM225 46h12v12h-12zM227 282h12v12h-12zM1017 543h12v12h-12zM1192 727h12v12h-12zM-8 727h12v12h-12zM183 527h12v12h-12zM507 637h12v12h-12zM1071 160h12v12h-12zM1159 23h12v12h-12zM570 713h12v12h-12zM14 751h12v12h-12zM837 53h12v12h-12zM946 158h12v12h-12zM176 156h12v12h-12zM912 752h12v12h-12zM283 279h12v12h-12zM73 463h12v12h-12zM850 258h12v12h-12zM151 18h12v12h-12zM606 626h12v12h-12zM1016 495h12v12h-12zM772 56h12v12h-12zM330 200h12v12h-12zM947 633h12v12h-12zM439 4h12v12h-12zM350 165h12v12h-12zM961 231h12v12h-12zM322 93h12v12h-12zM355 460h12v12h-12zM478 605h12v12h-12zM38 688h12v12h-12zM771 150h12v12h-12zM165 403h12v12h-12zM411 179h12v12h-12zM917 743h12v12h-12zM148 703h12v12h-12zM433 214h12v12h-12zM1013 480h12v12h-12zM723 486h12v12h-12zM72 133h12v12h-12zM296 520h12v12h-12zM854 251h12v12h-12zM902 53h12v12h-12zM17 385h12v12h-12zM459 311h12v12h-12zM529 464h12v12h-12zM578 582h12v12h-12zM815 61h12v12h-12zM996 488h12v12h-12zM1184 230h12v12h-12zM814 49h12v12h-12zM452 130h12v12h-12zM1000 566h12v12h-12zM1121 419h12v12h-12zM622 76h12v12h-12zM483 637h12v12h-12zM752 297h12v12h-12zM220 12h12v12h-12zM699 367h12v12h-12zM656 395h12v12h-12zM960 200h12v12h-12zM119 344h12v12h-12zM71 330h12v12h-12zM477 8h12v12h-12zM556 709h12v12h-12zM662 532h12v12h-12zM1053 263h12v12h-12zM8 676h12v12h-12zM1130 481h12v12h-12zM1035 226h12v12h-12zM1174 333h12v12h-12zM347 590h12v12h-12zM909 535h12v12h-12zM860 419h12v12h-12zM721 442h12v12h-12zM266 532h12v12h-12zM696 504h12v12h-12zM808 304h12v12h-12zM994 100h12v12h-12zM696 329h12v12h-12zM613 21h12v12h-12zM1114 740h12v12h-12zM555 707h12v12h-12zM818 4h12v12h-12zM917 286h12v12h-12zM802 491h12v12h-12zM656 236h12v12h-12zM359 517h12v12h-12zM201 316h12v12h-12zM989 731h12v12h-12zM882 690h12v12h-12zM771 216h12v12h-12zM1112 2h12v12h-12zM942 84h12v12h-12zM1090 74h12v12h-12zM949 97h12v12h-12zM501 314h12v12h-12zM851 302h12v12h-12zM908 272h12v12h-12zM495 614h12v12h-12zM340 340h12v12h-12zM569 681h12v12h-12zM103 541h12v12h-12zM456 94h12v12h-12zM937 414h12v12h-12zM726 383h12v12h-12zM961 44h12v12h-12zM474 486h12v12h-12zM1163 383h12v12h-12zM746 194h12v12h-12zM982 286h12v12h-12zM121 764h12v12h-12zM121 -6h12v12h-12zM343 659h12v12h-12zM62 155h12v12h-12zM27 153h12v12h-12zM254 333h12v12h-12zM1068 371h12v12h-12zM484 202h12v12h-12zM77 158h12v12h-12zM90 687h12v12h-12zM782 339h12v12h-12zM801 315h12v12h-12zM432 205h12v12h-12zM1169 482h12v12h-12zM3 241h12v12h-12zM250 302h12v12h-12zM671 737h12v12h-12zM311 155h12v12h-12zM976 711h12v12h-12zM147 633h12v12h-12zM446 60h12v12h-12zM810 414h12v12h-12zM143 27h12v12h-12zM261 690h12v12h-12zM418 407h12v12h-12zM749 101h12v12h-12zM586 53h12v12h-12zM1156 443h12v12h-12zM1124 615h12v12h-12zM560 768h12v12h-12zM560 -2h12v12h-12zM244 278h12v12h-12zM354 128h12v12h-12zM821 693h12v12h-12zM130 484h12v12h-12zM75 357h12v12h-12zM308 18h12v12h-12zM694 708h12v12h-12zM1156 32h12v12h-12zM398 54h12v12h-12zM106 662h12v12h-12zM949 762h12v12h-12zM949 -8h12v12h-12zM1050 749h12v12h-12zM430 362h12v12h-12zM607 343h12v12h-12zM823 726h12v12h-12zM816 72h12v12h-12zM873 105h12v12h-12zM791 210h12v12h-12zM19 688h12v12h-12zM418 94h12v12h-12zM90 349h12v12h-12zM66 240h12v12h-12zM328 336h12v12h-12zM970 356h12v12h-12zM295 567h12v12h-12zM586 694h12v12h-12zM828 576h12v12h-12zM551 656h12v12h-12zM824 562h12v12h-12zM1080 694h12v12h-12zM1090 295h12v12h-12zM326 150h12v12h-12zM538 159h12v12h-12zM366 108h12v12h-12zM977 657h12v12h-12zM336 134h12v12h-12zM471 373h12v12h-12zM179 454h12v12h-12zM232 282h12v12h-12zM687 151h12v12h-12zM40 723h12v12h-12zM996 247h12v12h-12zM250 678h12v12h-12zM326 655h12v12h-12zM18 323h12v12h-12zM1182 346h12v12h-12zM1167 699h12v12h-12zM883 573h12v12h-12zM860 355h12v12h-12zM5 430h12v12h-12zM528 2h12v12h-12zM250 477h12v12h-12zM811 403h12v12h-12zM934 140h12v12h-12zM543 47h12v12h-12zM487 130h12v12h-12zM664 135h12v12h-12zM169 615h12v12h-12zM53 184h12v12h-12zM713 311h12v12h-12zM889 686h12v12h-12zM652 399h12v12h-12zM744 23h12v12h-12zM288 604h12v12h-12zM764 574h12v12h-12zM173 367h12v12h-12zM38 719h12v12h-12zM333 545h12v12h-12zM156 65h12v12h-12zM680 354h12v12h-12zM1057 622h12v12h-12zM273 477h12v12h-12zM874 52h12v12h-12zM629 56h12v12h-12zM546 50h12v12h-12zM711 343h12v12h-12zM535 342h12v12h-12zM637 461h12v12h-12zM285 470h12v12h-12zM1028 627h12v12h-12zM613 25h12v12h-12zM805 341h12v12h-12zM233 35h12v12h-12zM552 211h12v12h-12zM76 384h12v12h-12zM42 506h12v12h-12zM559 679h12v12h-12zM1056 50h12v12h-12zM678 231h12v12h-12zM16 302h12v12h-12zM438 80h12v12h-12zM328 518h12v12h-12zM776 315h12v12h-12zM329 677h12v12h-12zM781 191h12v12h-12zM875 597h12v12h-12zM462 342h12v12h-12zM482 559h12v12h-12zM1026 368h12v12h-12zM279 311h12v12h-12zM1081 551h12v12h-12zM350 671h12v12h-12zM812 38h12v12h-12zM406 46h12v12h-12zM1156 221h12v12h-12zM200 139h12v12h-12zM779 501h12v12h-12zM495 593h12v12h-12zM217 515h12v12h-12zM701 619h12v12h-12zM1079 151h12v12h-12zM244 13h12v12h-12zM45 758h12v12h-12zM965 140h12v12h-12zM511 144h12v12h-12zM966 508h12v12h-12zM514 482h12v12h-12zM20 581h12v12h-12zM875 428h12v12h-12zM1090 662h12v12h-12zM892 200h12v12h-12zM943 433h12v12h-12zM1030 520h12v12h-12zM1051 178h12v12h-12zM716 631h12v12h-12zM335 698h12v12h-12zM906 342h12v12h-12zM1111 373h12v12h-12zM478 43h12v12h-12zM1157 752h12v12h-12zM628 578h12v12h-12zM163 320h12v12h-12zM776 175h12v12h-12zM671 199h12v12h-12zM803 139h12v12h-12zM907 449h12v12h-12zM1074 638h12v12h-12zM331 577h12v12h-12zM24 118h12v12h-12zM107 299h12v12h-12zM95 604h12v12h-12zM714 759h12v12h-12zM714 -11h12v12h-12zM444 445h12v12h-12zM323 264h12v12h-12zM594 219h12v12h-12zM539 644h12v12h-12zM331 573h12v12h-12zM15 58h12v12h-12zM470 591h12v12h-12zM1186 152h12v12h-12zM35 657h12v12h-12zM893 80h12v12h-12zM546 333h12v12h-12zM395 506h12v12h-12zM1157 438h12v12h-12zM1065 330h12v12h-12zM741 321h12v12h-12zM879 132h12v12h-12zM521 194h12v12h-12zM1078 654h12v12h-12zM374 102h12v12h-12zM1145 627h12v12h-12zM289 533h12v12h-12zM1185 729h12v12h-12zM1175 26h12v12h-12zM1015 403h12v12h-12zM263 374h12v12h-12zM107 690h12v12h-12zM996 552h12v12h-12zM347 702h12v12h-12zM512 590h12v12h-12zM726 720h12v12h-12zM818 235h12v12h-12zM970 511h12v12h-12zM670 234h12v12h-12zM712 132h12v12h-12zM664 255h12v12h-12zM484 110h12v12h-12zM799 232h12v12h-12zM1158 559h12v12h-12zM858 216h12v12h-12zM202 549h12v12h-12zM669 409h12v12h-12zM161 36h12v12h-12zM1150 301h12v12h-12zM1122 598h12v12h-12zM913 598h12v12h-12zM1061 2h12v12h-12zM333 555h12v12h-12zM63 318h12v12h-12zM396 561h12v12h-12zM379 41h12v12h-12zM350 292h12v12h-12zM755 29h12v12h-12zM283 35h12v12h-12zM849 108h12v12h-12zM1092 503h12v12h-12zM727 508h12v12h-12zM594 32h12v12h-12zM400 80h12v12h-12zM671 517h12v12h-12zM415 385h12v12h-12zM877 558h12v12h-12zM830 298h12v12h-12zM151 635h12v12h-12zM523 371h12v12h-12zM108 199h12v12h-12zM255 528h12v12h-12zM1001 339h12v12h-12zM610 695h12v12h-12zM729 402h12v12h-12zM1039 464h12v12h-12zM879 349h12v12h-12zM341 556h12v12h-12zM231 398h12v12h-12zM793 483h12v12h-12zM411 659h12v12h-12zM673 629h12v12h-12zM959 538h12v12h-12zM1185 252h12v12h-12zM1021 388h12v12h-12zM344 356h12v12h-12zM585 113h12v12h-12zM504 401h12v12h-12zM1156 42h12v12h-12zM784 575h12v12h-12zM1175 750h12v12h-12zM980 59h12v12h-12zM853 731h12v12h-12zM927 412h12v12h-12zM1199 593h12v12h-12zM-1 593h12v12h-12zM48 463h12v12h-12zM348 648h12v12h-12zM959 3h12v12h-12zM113 474h12v12h-12zM316 362h12v12h-12zM220 188h12v12h-12zM844 622h12v12h-12zM1117 58h12v12h-12zM882 110h12v12h-12zM223 752h12v12h-12zM1025 253h12v12h-12zM700 144h12v12h-12zM743 694h12v12h-12zM518 685h12v12h-12zM527 334h12v12h-12zM1181 315h12v12h-12zM265 713h12v12h-12zM852 187h12v12h-12zM326 284h12v12h-12zM356 592h12v12h-12zM1099 236h12v12h-12zM485 408h12v12h-12zM591 114h12v12h-12zM982 548h12v12h-12zM433 726h12v12h-12zM858 666h12v12h-12zM446 688h12v12h-12zM725 538h12v12h-12zM532 554h12v12h-12zM663 440h12v12h-12zM681 637h12v12h-12zM879 254h12v12h-12zM305 659h12v12h-12zM1185 20h12v12h-12zM608 94h12v12h-12zM939 421h12v12h-12zM287 577h12v12h-12zM405 175h12v12h-12zM633 337h12v12h-12zM510 114h12v12h-12zM248 665h12v12h-12zM75 65h12v12h-12zM392 275h12v12h-12zM919 642h12v12h-12zM711 29h12v12h-12zM781 119h12v12h-12zM513 684h12v12h-12zM1083 508h12v12h-12zM641 754h12v12h-12zM132 578h12v12h-12zM1194 447h12v12h-12zM-6 447h12v12h-12zM98 374h12v12h-12zM971 515h12v12h-12zM521 376h12v12h-12zM478 27h12v12h-12zM304 146h12v12h-12zM929 587h12v12h-12zM837 354h12v12h-12zM860 143h12v12h-12zM169 520h12v12h-12zM1018 576h12v12h-12zM1112 169h12v12h-12zM3 654h12v12h-12zM1108 139h12v12h-12zM122 188h12v12h-12zM513 67h12v12h-12zM694 105h12v12h-12zM911 303h12v12h-12zM1039 374h12v12h-12zM229 75h12v12h-12zM7 553h12v12h-12zM166 720h12v12h-12zM54 1h12v12h-12zM223 339h12v12h-12zM546 266h12v12h-12zM177 201h12v12h-12zM641 601h12v12h-12zM811 411h12v12h-12zM683 205h12v12h-12zM544 528h12v12h-12zM693 86h12v12h-12zM922 487h12v12h-12zM200 741h12v12h-12zM66 606h12v12h-12zM102 627h12v12h-12zM693 48h12v12h-12zM795 67h12v12h-12zM278 556h12v12h-12zM897 148h12v12h-12zM1139 69h12v12h-12zM461 5h12v12h-12zM848 198h12v12h-12zM502 612h12v12h-12zM675 444h12v12h-12zM596 583h12v12h-12zM199 101h12v12h-12zM1028 500h12v12h-12zM169 473h12v12h-12zM3 463h12v12h-12zM8 211h12v12h-12zM1051 282h12v12h-12zM726 220h12v12h-12zM452 679h12v12h-12zM466 664h12v12h-12zM515 542h12v12h-12zM551 11h12v12h-12zM244 8h12v12h-12zM559 545h12v12h-12zM522 366h12v12h-12zM888 285h12v12h-12zM826 536h12v12h-12zM175 577h12v12h-12zM804 678h12v12h-12zM133 765h12v12h-12zM133 -5h12v12h-12zM765 380h12v12h-12zM900 306h12v12h-12zM271 736h12v12h-12zM494 12h12v12h-12zM147 521h12v12h-12zM776 370h12v12h-12zM994 338h12v12h-12zM1048 335h12v12h-12zM858 42h12v12h-12zM1116 498h12v12h-12zM839 13h12v12h-12zM667 139h12v12h-12zM274 705h12v12h-12zM638 15h12v12h-12zM454 703h12v12h-12zM992 234h12v12h-12zM215 206h12v12h-12zM821 248h12v12h-12zM300 239h12v12h-12zM942 625h12v12h-12zM410 152h12v12h-12zM305 40h12v12h-12zM355 728h12v12h-12zM939 740h12v12h-12zM482 695h12v12h-12zM863 152h12v12h-12zM561 688h12v12h-12zM440 344h12v12h-12zM1180 708h12v12h-12zM1017 95h12v12h-12zM92 43h12v12h-12zM371 440h12v12h-12zM256 461h12v12h-12zM249 201h12v12h-12zM520 387h12v12h-12zM585 12h12v12h-12zM585 54h12v12h-12zM581 756h12v12h-12zM694 319h12v12h-12zM637 250h12v12h-12zM837 418h12v12h-12zM93 318h12v12h-12zM416 538h12v12h-12zM256 733h12v12h-12zM262 220h12v12h-12zM662 339h12v12h-12zM773 372h12v12h-12zM730 321h12v12h-12zM258 490h12v12h-12zM1099 355h12v12h-12zM39 259h12v12h-12zM1153 685h12v12h-12zM1114 618h12v12h-12zM502 255h12v12h-12zM290 113h12v12h-12zM6 363h12v12h-12zM29 338h12v12h-12zM44 585h12v12h-12zM227 344h12v12h-12zM97 192h12v12h-12zM43 71h12v12h-12zM326 556h12v12h-12zM592 748h12v12h-12zM976 215h12v12h-12zM429 409h12v12h-12zM582 715h12v12h-12zM618 705h12v12h-12zM259 24h12v12h-12zM97 175h12v12h-12zM784 66h12v12h-12zM1122 508h12v12h-12zM232 206h12v12h-12zM752 763h12v12h-12zM752 -7h12v12h-12zM290 558h12v12h-12zM512 277h12v12h-12zM43 460h12v12h-12zM1045 700h12v12h-12zM89 265h12v12h-12zM577 509h12v12h-12zM1028 440h12v12h-12zM483 375h12v12h-12zM934 15h12v12h-12zM893 496h12v12h-12zM560 408h12v12h-12zM845 37h12v12h-12zM774 712h12v12h-12zM1103 573h12v12h-12zM147 595h12v12h-12zM279 11h12v12h-12zM162 211h12v12h-12zM850 215h12v12h-12zM68 563h12v12h-12zM1079 575h12v12h-12zM150 670h12v12h-12zM891 281h12v12h-12zM429 530h12v12h-12zM702 633h12v12h-12zM1176 595h12v12h-12zM430 273h12v12h-12zM638 591h12v12h-12zM182 93h12v12h-12zM915 438h12v12h-12zM857 557h12v12h-12zM435 269h12v12h-12zM809 120h12v12h-12zM670 384h12v12h-12zM101 51h12v12h-12zM1137 586h12v12h-12zM221 129h12v12h-12zM992 582h12v12h-12zM1104 533h12v12h-12zM1117 286h12v12h-12zM487 304h12v12h-12zM314 504h12v12h-12zM253 386h12v12h-12zM625 316h12v12h-12zM658 406h12v12h-12zM848 338h12v12h-12zM522 593h12v12h-12zM65 652h12v12h-12zM1176 287h12v12h-12zM352 689h12v12h-12zM958 436h12v12h-12zM1103 682h12v12h-12zM902 156h12v12h-12zM526 51h12v12h-12zM223 698h12v12h-12zM696 661h12v12h-12zM82 379h12v12h-12zM953 602h12v12h-12zM827 388h12v12h-12zM900 125h12v12h-12zM363 349h12v12h-12zM496 460h12v12h-12zM295 246h12v12h-12zM142 643h12v12h-12zM537 207h12v12h-12zM1186 42h12v12h-12zM847 694h12v12h-12zM2 747h12v12h-12zM483 611h12v12h-12zM679 553h12v12h-12zM938 508h12v12h-12zM1114 199h12v12h-12zM496 697h12v12h-12zM1167 454h12v12h-12zM564 157h12v12h-12zM1157 87h12v12h-12zM201 459h12v12h-12zM241 37h12v12h-12zM1053 259h12v12h-12zM1116 200h12v12h-12zM884 472h12v12h-12zM145 767h12v12h-12zM145 -3h12v12h-12zM619 762h12v12h-12zM619 -8h12v12h-12zM813 430h12v12h-12zM843 249h12v12h-12zM733 569h12v12h-12zM71 256h12v12h-12zM1121 715h12v12h-12zM1199 418h12v12h-12zM-1 418h12v12h-12zM734 230h12v12h-12zM690 401h12v12h-12zM287 697h12v12h-12zM640 477h12v12h-12zM927 589h12v12h-12zM963 472h12v12h-12zM1116 451h12v12h-12zM324 713h12v12h-12zM585 588h12v12h-12zM493 238h12v12h-12zM258 720h12v12h-12zM419 448h12v12h-12zM480 421h12v12h-12zM56 580h12v12h-12zM129 29h12v12h-12zM777 282h12v12h-12zM718 749h12v12h-12zM701 270h12v12h-12zM377 562h12v12h-12zM577 549h12v12h-12zM426 682h12v12h-12zM895 696h12v12h-12zM6 139h12v12h-12zM1112 380h12v12h-12zM565 763h12v12h-12zM565 -7h12v12h-12zM792 276h12v12h-12zM1028 757h12v12h-12zM283 596h12v12h-12zM1171 405h12v12h-12zM655 703h12v12h-12zM363 577h12v12h-12zM138 3h12v12h-12zM1094 746h12v12h-12zM567 586h12v12h-12zM701 647h12v12h-12zM843 760h12v12h-12zM843 -10h12v12h-12zM13 178h12v12h-12zM975 510h12v12h-12zM1152 505h12v12h-12zM913 544h12v12h-12zM63 603h12v12h-12zM727 15h12v12h-12zM344 727h12v12h-12zM27 468h12v12h-12zM531 579h12v12h-12zM38 465h12v12h-12zM769 274h12v12h-12zM231 615h12v12h-12zM858 192h12v12h-12zM695 138h12v12h-12zM837 750h12v12h-12zM108 646h12v12h-12zM315 505h12v12h-12zM118 126h12v12h-12zM467 391h12v12h-12zM909 665h12v12h-12zM418 126h12v12h-12zM899 731h12v12h-12zM1192 360h12v12h-12zM-8 360h12v12h-12zM471 487h12v12h-12zM929 409h12v12h-12zM23 632h12v12h-12zM143 373h12v12h-12zM1018 285h12v12h-12zM450 13h12v12h-12zM473 142h12v12h-12zM258 415h12v12h-12zM819 318h12v12h-12zM989 456h12v12h-12zM1093 630h12v12h-12zM15 767h12v12h-12zM15 -3h12v12h-12zM921 577h12v12h-12zM327 754h12v12h-12zM1085 176h12v12h-12zM30 758h12v12h-12zM867 561h12v12h-12zM829 482h12v12h-12zM88 249h12v12h-12zM891 549h12v12h-12zM362 736h12v12h-12zM579 566h12v12h-12zM853 755h12v12h-12zM1188 256h12v12h-12zM296 506h12v12h-12zM497 745h12v12h-12zM10 651h12v12h-12zM12 303h12v12h-12zM107 328h12v12h-12zM445 134h12v12h-12zM588 458h12v12h-12zM480 552h12v12h-12zM610 502h12v12h-12zM2 104h12v12h-12zM191 368h12v12h-12zM826 615h12v12h-12zM249 743h12v12h-12zM314 760h12v12h-12zM314 -10h12v12h-12zM69 349h12v12h-12zM447 391h12v12h-12zM878 764h12v12h-12zM878 -6h12v12h-12zM381 596h12v12h-12zM1070 122h12v12h-12zM529 73h12v12h-12zM390 16h12v12h-12zM33 508h12v12h-12zM519 72h12v12h-12zM613 586h12v12h-12zM910 328h12v12h-12zM365 715h12v12h-12zM757 30h12v12h-12zM461 615h12v12h-12zM774 178h12v12h-12zM105 431h12v12h-12zM49 390h12v12h-12zM869 90h12v12h-12zM369 202h12v12h-12zM1069 452h12v12h-12zM722 76h12v12h-12zM321 441h12v12h-12zM223 148h12v12h-12zM877 620h12v12h-12zM261 485h12v12h-12zM527 454h12v12h-12zM556 5h12v12h-12zM1156 47h12v12h-12zM802 472h12v12h-12zM1174 447h12v12h-12zM356 2h12v12h-12zM516 213h12v12h-12zM753 136h12v12h-12zM975 519h12v12h-12zM1106 410h12v12h-12zM726 321h12v12h-12zM200 477h12v12h-12zM909 51h12v12h-12zM493 177h12v12h-12zM451 147h12v12h-12zM478 652h12v12h-12zM426 163h12v12h-12zM770 542h12v12h-12zM1164 557h12v12h-12zM166 145h12v12h-12zM723 113h12v12h-12zM979 125h12v12h-12zM857 391h12v12h-12zM232 370h12v12h-12zM565 65h12v12h-12zM59 157h12v12h-12zM309 709h12v12h-12zM335 312h12v12h-12zM930 169h12v12h-12zM1150 178h12v12h-12zM914 9h12v12h-12zM821 514h12v12h-12zM950 315h12v12h-12zM884 263h12v12h-12zM723 311h12v12h-12zM903 606h12v12h-12zM95 120h12v12h-12zM539 475h12v12h-12zM1192 146h12v12h-12zM-8 146h12v12h-12zM119 436h12v12h-12zM1112 532h12v12h-12zM1164 608h12v12h-12zM723 440h12v12h-12zM592 191h12v12h-12zM484 51h12v12h-12zM1049 308h12v12h-12zM628 17h12v12h-12zM360 690h12v12h-12zM169 761h12v12h-12zM169 -9h12v12h-12zM1182 694h12v12h-12zM623 614h12v12h-12zM0 565h12v12h-12zM370 548h12v12h-12zM491 741h12v12h-12zM1004 315h12v12h-12zM1039 93h12v12h-12zM865 465h12v12h-12zM1100 652h12v12h-12zM21 160h12v12h-12zM405 509h12v12h-12zM119 293h12v12h-12zM1168 163h12v12h-12zM1055 549h12v12h-12zM619 707h12v12h-12zM1180 332h12v12h-12zM149 93h12v12h-12zM347 85h12v12h-12zM995 213h12v12h-12zM27 499h12v12h-12zM817 332h12v12h-12zM584 193h12v12h-12zM16 142h12v12h-12zM889 740h12v12h-12zM405 22h12v12h-12zM8 255h12v12h-12zM1165 214h12v12h-12zM348 739h12v12h-12zM602 449h12v12h-12zM205 700h12v12h-12zM877 142h12v12h-12zM958 248h12v12h-12zM1099 682h12v12h-12zM391 638h12v12h-12zM409 728h12v12h-12zM862 302h12v12h-12zM94 86h12v12h-12zM75 754h12v12h-12zM1055 758h12v12h-12zM262 535h12v12h-12zM339 488h12v12h-12zM56 331h12v12h-12zM322 28h12v12h-12zM317 467h12v12h-12zM412 678h12v12h-12zM653 254h12v12h-12zM53 300h12v12h-12zM1182 537h12v12h-12zM773 510h12v12h-12zM1137 121h12v12h-12zM182 387h12v12h-12zM606 353h12v12h-12zM906 448h12v12h-12zM963 269h12v12h-12zM758 757h12v12h-12zM712 251h12v12h-12zM652 6h12v12h-12zM127 124h12v12h-12zM868 763h12v12h-12zM868 -7h12v12h-12zM282 670h12v12h-12zM906 306h12v12h-12zM558 67h12v12h-12zM259 216h12v12h-12zM186 641h12v12h-12zM639 382h12v12h-12zM1185 302h12v12h-12zM1147 685h12v12h-12zM1076 514h12v12h-12zM22 729h12v12h-12zM984 632h12v12h-12zM456 125h12v12h-12zM292 439h12v12h-12zM405 384h12v12h-12zM450 171h12v12h-12zM492 149h12v12h-12zM569 729h12v12h-12zM598 384h12v12h-12zM507 689h12v12h-12zM322 457h12v12h-12zM70 638h12v12h-12zM87 590h12v12h-12zM14 341h12v12h-12zM1 47h12v12h-12zM1036 223h12v12h-12zM650 124h12v12h-12zM659 486h12v12h-12zM358 247h12v12h-12zM508 306h12v12h-12zM797 764h12v12h-12zM797 -6h12v12h-12zM1060 183h12v12h-12zM475 104h12v12h-12zM172 424h12v12h-12zM923 127h12v12h-12zM1126 490h12v12h-12zM494 573h12v12h-12zM103 616h12v12h-12zM304 684h12v12h-12zM1095 329h12v12h-12zM520 442h12v12h-12zM764 311h12v12h-12zM756 477h12v12h-12zM1050 97h12v12h-12zM179 16h12v12h-12zM483 299h12v12h-12zM834 729h12v12h-12zM503 611h12v12h-12zM1077 0h12v12h-12zM989 92h12v12h-12zM489 266h12v12h-12zM465 84h12v12h-12zM1034 300h12v12h-12zM438 244h12v12h-12zM16 289h12v12h-12zM149 673h12v12h-12zM582 594h12v12h-12zM1128 433h12v12h-12zM1057 208h12v12h-12zM685 682h12v12h-12zM728 239h12v12h-12zM1058 98h12v12h-12zM61 625h12v12h-12zM866 93h12v12h-12zM911 605h12v12h-12zM550 512h12v12h-12zM842 147h12v12h-12zM494 41h12v12h-12zM667 352h12v12h-12zM926 522h12v12h-12zM26 455h12v12h-12zM1196 266h12v12h-12zM-4 266h12v12h-12zM914 551h12v12h-12zM1017 57h12v12h-12zM499 542h12v12h-12zM781 507h12v12h-12zM1172 625h12v12h-12zM829 12h12v12h-12zM393 63h12v12h-12zM600 746h12v12h-12zM524 536h12v12h-12zM244 252h12v12h-12zM1072 356h12v12h-12zM1188 339h12v12h-12zM850 658h12v12h-12zM859 609h12v12h-12zM715 346h12v12h-12zM632 190h12v12h-12zM1171 304h12v12h-12zM398 336h12v12h-12zM83 595h12v12h-12zM114 179h12v12h-12zM274 274h12v12h-12zM1009 334h12v12h-12zM817 22h12v12h-12zM398 127h12v12h-12zM273 217h12v12h-12zM860 186h12v12h-12zM609 219h12v12h-12zM341 378h12v12h-12zM407 706h12v12h-12zM1082 336h12v12h-12zM415 569h12v12h-12zM580 23h12v12h-12zM3 126h12v12h-12zM226 762h12v12h-12zM226 -8h12v12h-12zM552 632h12v12h-12zM1147 433h12v12h-12zM343 534h12v12h-12zM972 241h12v12h-12zM609 482h12v12h-12zM17 531h12v12h-12zM1038 646h12v12h-12zM788 729h12v12h-12zM749 540h12v12h-12zM897 613h12v12h-12zM67 584h12v12h-12zM584 221h12v12h-12zM733 524h12v12h-12zM1096 484h12v12h-12zM891 151h12v12h-12zM590 542h12v12h-12zM1154 30h12v12h-12zM291 545h12v12h-12zM1063 441h12v12h-12zM980 288h12v12h-12zM54 39h12v12h-12zM207 10h12v12h-12zM1139 280h12v12h-12zM733 180h12v12h-12zM831 58h12v12h-12zM927 23h12v12h-12zM346 522h12v12h-12zM1116 522h12v12h-12zM450 748h12v12h-12zM1107 598h12v12h-12zM975 176h12v12h-12zM509 508h12v12h-12zM774 482h12v12h-12zM1154 604h12v12h-12zM471 135h12v12h-12zM1142 50h12v12h-12zM374 602h12v12h-12zM208 153h12v12h-12zM124 349h12v12h-12zM1102 620h12v12h-12zM1169 596h12v12h-12zM154 610h12v12h-12zM946 516h12v12h-12zM89 534h12v12h-12zM40 215h12v12h-12zM133 67h12v12h-12zM1164 472h12v12h-12zM1 690h12v12h-12zM1010 704h12v12h-12zM837 739h12v12h-12zM880 539h12v12h-12zM34 728h12v12h-12zM1009 201h12v12h-12zM933 415h12v12h-12zM433 72h12v12h-12zM975 273h12v12h-12zM647 427h12v12h-12zM287 279h12v12h-12zM856 755h12v12h-12zM886 264h12v12h-12zM973 1h12v12h-12zM327 148h12v12h-12zM795 609h12v12h-12zM152 379h12v12h-12zM966 479h12v12h-12zM133 117h12v12h-12zM641 40h12v12h-12zM1040 430h12v12h-12zM749 726h12v12h-12zM666 150h12v12h-12zM857 500h12v12h-12zM506 69h12v12h-12zM231 20h12v12h-12zM1134 486h12v12h-12zM141 597h12v12h-12zM740 330h12v12h-12zM487 668h12v12h-12zM1179 117h12v12h-12zM774 113h12v12h-12zM332 267h12v12h-12zM874 749h12v12h-12zM869 505h12v12h-12zM1138 367h12v12h-12zM716 730h12v12h-12zM213 750h12v12h-12zM57 172h12v12h-12zM887 384h12v12h-12zM796 184h12v12h-12zM301 577h12v12h-12zM126 768h12v12h-12zM126 -2h12v12h-12zM403 93h12v12h-12zM1010 713h12v12h-12zM752 673h12v12h-12zM76 293h12v12h-12zM718 492h12v12h-12zM725 424h12v12h-12zM942 438h12v12h-12zM794 757h12v12h-12zM83 201h12v12h-12zM273 304h12v12h-12zM592 605h12v12h-12zM151 432h12v12h-12zM1181 154h12v12h-12zM705 218h12v12h-12zM586 498h12v12h-12zM906 407h12v12h-12zM768 283h12v12h-12zM1111 255h12v12h-12zM153 428h12v12h-12zM759 258h12v12h-12zM768 360h12v12h-12zM428 530h12v12h-12zM50 41h12v12h-12zM314 676h12v12h-12zM129 60h12v12h-12zM687 315h12v12h-12zM1059 525h12v12h-12zM1112 267h12v12h-12zM29 649h12v12h-12zM1052 479h12v12h-12zM712 456h12v12h-12zM366 633h12v12h-12zM1098 619h12v12h-12zM888 672h12v12h-12zM96 769h12v12h-12zM96 -1h12v12h-12zM47 75h12v12h-12zM1126 368h12v12h-12zM899 679h12v12h-12zM49 617h12v12h-12zM113 350h12v12h-12zM1150 117h12v12h-12zM77 418h12v12h-12zM176 346h12v12h-12zM412 593h12v12h-12zM346 121h12v12h-12zM646 215h12v12h-12zM27 471h12v12h-12zM40 465h12v12h-12zM818 549h12v12h-12zM860 165h12v12h-12zM252 35h12v12h-12zM664 567h12v12h-12zM1170 3h12v12h-12zM259 298h12v12h-12zM1072 767h12v12h-12zM1072 -3h12v12h-12zM948 248h12v12h-12zM739 546h12v12h-12zM954 659h12v12h-12zM861 148h12v12h-12zM824 491h12v12h-12zM154 300h12v12h-12zM898 122h12v12h-12zM160 136h12v12h-12zM475 65h12v12h-12zM948 598h12v12h-12zM7 696h12v12h-12zM382 285h12v12h-12zM224 326h12v12h-12zM852 370h12v12h-12zM293 190h12v12h-12zM215 455h12v12h-12zM648 206h12v12h-12zM270 252h12v12h-12zM197 88h12v12h-12zM303 750h12v12h-12zM545 466h12v12h-12zM1128 140h12v12h-12zM285 368h12v12h-12zM531 523h12v12h-12zM589 242h12v12h-12zM124 510h12v12h-12zM50 506h12v12h-12zM989 331h12v12h-12zM570 173h12v12h-12zM603 453h12v12h-12zM1055 353h12v12h-12zM595 706h12v12h-12zM59 183h12v12h-12zM613 711h12v12h-12zM487 198h12v12h-12zM437 45h12v12h-12zM1140 639h12v12h-12zM314 147h12v12h-12zM663 38h12v12h-12zM748 531h12v12h-12zM948 114h12v12h-12zM931 411h12v12h-12zM956 697h12v12h-12zM518 455h12v12h-12zM447 337h12v12h-12zM695 211h12v12h-12zM610 374h12v12h-12zM613 375h12v12h-12zM560 463h12v12h-12zM134 656h12v12h-12zM148 151h12v12h-12zM899 525h12v12h-12zM280 539h12v12h-12zM692 287h12v12h-12zM994 97h12v12h-12zM72 427h12v12h-12zM527 84h12v12h-12zM765 747h12v12h-12zM271 249h12v12h-12zM417 434h12v12h-12zM900 759h12v12h-12zM900 -11h12v12h-12zM271 129h12v12h-12zM33 4h12v12h-12zM557 197h12v12h-12zM163 762h12v12h-12zM163 -8h12v12h-12zM69 27h12v12h-12zM664 592h12v12h-12zM1083 279h12v12h-12zM283 544h12v12h-12zM326 338h12v12h-12zM357 83h12v12h-12zM132 593h12v12h-12zM653 316h12v12h-12zM742 689h12v12h-12zM895 18h12v12h-12zM1179 148h12v12h-12zM311 578h12v12h-12zM438 456h12v12h-12zM510 426h12v12h-12zM1017 759h12v12h-12zM1017 -11h12v12h-12zM841 727h12v12h-12zM368 184h12v12h-12zM293 95h12v12h-12zM1088 485h12v12h-12zM66 231h12v12h-12zM422 385h12v12h-12zM658 428h12v12h-12zM1116 478h12v12h-12zM689 106h12v12h-12zM46 108h12v12h-12zM828 638h12v12h-12zM1147 126h12v12h-12zM1059 360h12v12h-12zM712 36h12v12h-12zM632 399h12v12h-12zM1046 393h12v12h-12zM156 396h12v12h-12zM839 550h12v12h-12zM429 107h12v12h-12zM509 102h12v12h-12zM867 605h12v12h-12zM1063 565h12v12h-12zM1126 307h12v12h-12zM969 247h12v12h-12zM693 445h12v12h-12z" fill="#1d6fe0"/></pattern><pattern id="patc2" width="120" height="77" patternUnits="userSpaceOnUse"><path transform="scale(0.1)" d="M375 756h12v12h-12zM269 247h12v12h-12zM218 629h12v12h-12zM1032 700h12v12h-12zM1029 304h12v12h-12zM124 760h12v12h-12zM124 -10h12v12h-12zM347 501h12v12h-12zM794 592h12v12h-12zM842 331h12v12h-12zM526 631h12v12h-12zM578 700h12v12h-12zM888 756h12v12h-12zM527 713h12v12h-12zM1152 497h12v12h-12zM371 696h12v12h-12zM134 615h12v12h-12zM304 357h12v12h-12zM67 593h12v12h-12zM1107 486h12v12h-12zM779 514h12v12h-12zM236 355h12v12h-12zM44 640h12v12h-12zM1016 696h12v12h-12zM445 389h12v12h-12zM251 694h12v12h-12zM488 560h12v12h-12zM195 341h12v12h-12zM86 715h12v12h-12zM26 205h12v12h-12zM10 249h12v12h-12zM742 554h12v12h-12zM396 314h12v12h-12zM308 141h12v12h-12zM551 312h12v12h-12zM757 186h12v12h-12zM290 339h12v12h-12zM154 93h12v12h-12zM805 68h12v12h-12zM336 709h12v12h-12zM1016 314h12v12h-12zM613 397h12v12h-12zM1179 482h12v12h-12zM218 594h12v12h-12zM151 501h12v12h-12zM190 255h12v12h-12zM1172 63h12v12h-12zM818 342h12v12h-12zM717 560h12v12h-12zM410 512h12v12h-12zM181 507h12v12h-12zM23 57h12v12h-12zM962 152h12v12h-12zM560 527h12v12h-12zM1187 355h12v12h-12zM18 392h12v12h-12zM1025 217h12v12h-12zM197 545h12v12h-12zM1185 475h12v12h-12zM181 649h12v12h-12zM272 280h12v12h-12zM558 477h12v12h-12zM623 93h12v12h-12zM197 387h12v12h-12zM869 188h12v12h-12zM1089 119h12v12h-12zM94 61h12v12h-12zM208 393h12v12h-12zM921 339h12v12h-12zM72 74h12v12h-12zM815 618h12v12h-12zM887 456h12v12h-12zM1077 506h12v12h-12zM649 174h12v12h-12zM444 154h12v12h-12zM112 514h12v12h-12zM322 728h12v12h-12zM183 455h12v12h-12zM618 34h12v12h-12zM31 528h12v12h-12zM909 506h12v12h-12zM1189 491h12v12h-12zM-11 491h12v12h-12zM175 474h12v12h-12zM783 571h12v12h-12zM1073 342h12v12h-12zM267 516h12v12h-12zM1093 673h12v12h-12zM871 660h12v12h-12zM908 558h12v12h-12zM306 129h12v12h-12zM845 590h12v12h-12zM952 602h12v12h-12zM1076 370h12v12h-12zM678 741h12v12h-12zM118 337h12v12h-12zM773 492h12v12h-12zM481 524h12v12h-12zM1056 216h12v12h-12zM418 470h12v12h-12zM729 463h12v12h-12zM650 132h12v12h-12zM153 78h12v12h-12zM878 400h12v12h-12zM546 239h12v12h-12zM635 74h12v12h-12zM516 533h12v12h-12zM35 146h12v12h-12zM139 675h12v12h-12zM612 362h12v12h-12zM497 42h12v12h-12zM501 552h12v12h-12zM261 96h12v12h-12zM687 293h12v12h-12zM530 297h12v12h-12zM612 93h12v12h-12zM740 376h12v12h-12zM1173 546h12v12h-12zM861 421h12v12h-12zM744 432h12v12h-12zM839 748h12v12h-12zM322 727h12v12h-12zM909 423h12v12h-12zM304 275h12v12h-12zM803 754h12v12h-12zM267 244h12v12h-12zM964 165h12v12h-12zM419 161h12v12h-12zM1098 269h12v12h-12zM958 206h12v12h-12zM1128 138h12v12h-12zM919 314h12v12h-12zM436 177h12v12h-12zM228 407h12v12h-12zM1083 387h12v12h-12zM62 348h12v12h-12zM1151 37h12v12h-12zM193 141h12v12h-12zM711 455h12v12h-12zM617 228h12v12h-12zM831 93h12v12h-12zM175 343h12v12h-12zM453 748h12v12h-12zM699 547h12v12h-12zM958 62h12v12h-12zM700 501h12v12h-12zM809 644h12v12h-12zM313 492h12v12h-12zM498 664h12v12h-12zM744 454h12v12h-12zM422 520h12v12h-12zM954 434h12v12h-12zM1022 253h12v12h-12zM16 49h12v12h-12zM521 211h12v12h-12zM272 492h12v12h-12zM763 714h12v12h-12zM1087 320h12v12h-12zM344 235h12v12h-12zM404 91h12v12h-12zM511 565h12v12h-12zM603 434h12v12h-12zM581 137h12v12h-12zM592 38h12v12h-12zM987 198h12v12h-12zM395 531h12v12h-12zM619 659h12v12h-12zM227 513h12v12h-12zM438 756h12v12h-12zM555 419h12v12h-12zM1139 643h12v12h-12zM899 593h12v12h-12zM311 693h12v12h-12zM1119 552h12v12h-12zM966 416h12v12h-12zM1040 609h12v12h-12zM909 459h12v12h-12zM174 648h12v12h-12zM382 158h12v12h-12zM133 613h12v12h-12zM774 431h12v12h-12zM930 265h12v12h-12zM300 592h12v12h-12zM655 687h12v12h-12zM56 54h12v12h-12zM527 602h12v12h-12zM35 37h12v12h-12zM235 0h12v12h-12zM769 357h12v12h-12zM1133 619h12v12h-12zM972 520h12v12h-12zM804 604h12v12h-12zM489 738h12v12h-12zM136 758h12v12h-12zM1023 632h12v12h-12zM890 295h12v12h-12zM824 58h12v12h-12zM276 336h12v12h-12zM592 296h12v12h-12zM364 175h12v12h-12zM424 412h12v12h-12zM782 702h12v12h-12zM821 384h12v12h-12zM392 456h12v12h-12zM868 36h12v12h-12zM252 50h12v12h-12zM1069 722h12v12h-12zM608 44h12v12h-12zM133 67h12v12h-12zM322 721h12v12h-12zM583 693h12v12h-12zM382 597h12v12h-12zM781 482h12v12h-12zM658 769h12v12h-12zM658 -1h12v12h-12zM549 351h12v12h-12zM871 197h12v12h-12zM278 68h12v12h-12zM291 295h12v12h-12zM1028 129h12v12h-12zM495 331h12v12h-12zM1107 739h12v12h-12zM1156 79h12v12h-12zM919 400h12v12h-12zM56 485h12v12h-12zM370 487h12v12h-12zM961 50h12v12h-12zM217 575h12v12h-12zM1167 222h12v12h-12zM15 230h12v12h-12zM1047 193h12v12h-12zM371 97h12v12h-12zM595 116h12v12h-12zM611 246h12v12h-12zM69 359h12v12h-12zM761 172h12v12h-12zM711 445h12v12h-12zM1087 38h12v12h-12zM426 408h12v12h-12zM1173 192h12v12h-12zM58 31h12v12h-12zM1172 74h12v12h-12zM1136 400h12v12h-12zM584 398h12v12h-12zM1116 294h12v12h-12zM336 175h12v12h-12zM532 562h12v12h-12zM339 413h12v12h-12zM1120 542h12v12h-12zM201 516h12v12h-12zM95 624h12v12h-12zM16 46h12v12h-12zM701 6h12v12h-12zM909 737h12v12h-12zM494 330h12v12h-12zM192 246h12v12h-12zM1082 480h12v12h-12zM1130 492h12v12h-12zM90 191h12v12h-12zM128 236h12v12h-12zM771 339h12v12h-12zM442 620h12v12h-12zM113 75h12v12h-12zM738 690h12v12h-12zM1081 133h12v12h-12zM344 36h12v12h-12zM713 481h12v12h-12zM932 89h12v12h-12zM688 428h12v12h-12zM488 408h12v12h-12zM720 165h12v12h-12zM194 355h12v12h-12zM981 328h12v12h-12zM312 534h12v12h-12zM323 416h12v12h-12zM277 686h12v12h-12zM1012 579h12v12h-12zM819 333h12v12h-12zM249 7h12v12h-12zM1130 115h12v12h-12zM688 639h12v12h-12zM353 255h12v12h-12zM489 367h12v12h-12zM464 500h12v12h-12zM275 420h12v12h-12zM860 676h12v12h-12zM862 563h12v12h-12zM983 443h12v12h-12zM532 342h12v12h-12zM1180 384h12v12h-12zM758 297h12v12h-12zM88 61h12v12h-12zM173 322h12v12h-12zM445 23h12v12h-12zM678 568h12v12h-12zM166 419h12v12h-12zM628 709h12v12h-12zM1195 397h12v12h-12zM-5 397h12v12h-12zM814 57h12v12h-12zM782 278h12v12h-12zM334 702h12v12h-12zM158 144h12v12h-12zM680 121h12v12h-12zM590 167h12v12h-12zM869 114h12v12h-12zM1193 111h12v12h-12zM-7 111h12v12h-12zM558 15h12v12h-12zM90 535h12v12h-12zM898 722h12v12h-12zM50 707h12v12h-12zM237 2h12v12h-12zM998 545h12v12h-12zM1167 324h12v12h-12zM230 385h12v12h-12zM321 662h12v12h-12zM1127 458h12v12h-12zM688 640h12v12h-12zM1028 70h12v12h-12zM1020 299h12v12h-12zM131 387h12v12h-12zM767 478h12v12h-12zM1011 236h12v12h-12zM798 630h12v12h-12zM758 532h12v12h-12zM509 444h12v12h-12zM475 36h12v12h-12zM769 384h12v12h-12zM133 363h12v12h-12zM910 458h12v12h-12zM655 539h12v12h-12zM100 8h12v12h-12zM593 557h12v12h-12zM487 461h12v12h-12zM196 76h12v12h-12zM747 16h12v12h-12zM636 45h12v12h-12zM1183 231h12v12h-12zM199 266h12v12h-12zM684 255h12v12h-12zM107 653h12v12h-12zM1126 314h12v12h-12zM867 732h12v12h-12zM938 674h12v12h-12zM440 356h12v12h-12zM989 302h12v12h-12zM72 276h12v12h-12zM299 447h12v12h-12zM162 100h12v12h-12zM318 154h12v12h-12zM465 670h12v12h-12zM106 732h12v12h-12zM807 76h12v12h-12zM932 143h12v12h-12zM456 679h12v12h-12zM804 235h12v12h-12zM369 11h12v12h-12zM658 667h12v12h-12zM141 545h12v12h-12zM1172 520h12v12h-12zM163 38h12v12h-12zM568 510h12v12h-12zM186 138h12v12h-12zM148 582h12v12h-12zM699 668h12v12h-12zM1172 372h12v12h-12zM326 721h12v12h-12zM939 548h12v12h-12zM1176 524h12v12h-12zM640 274h12v12h-12zM48 35h12v12h-12zM452 39h12v12h-12zM581 355h12v12h-12zM445 34h12v12h-12zM446 565h12v12h-12zM624 185h12v12h-12zM67 617h12v12h-12zM826 653h12v12h-12zM587 743h12v12h-12zM120 112h12v12h-12zM89 43h12v12h-12zM363 418h12v12h-12zM465 210h12v12h-12zM1148 365h12v12h-12zM949 327h12v12h-12zM609 219h12v12h-12zM890 63h12v12h-12zM648 624h12v12h-12zM482 698h12v12h-12zM220 553h12v12h-12zM1100 711h12v12h-12zM269 596h12v12h-12zM51 266h12v12h-12zM989 470h12v12h-12zM535 516h12v12h-12zM826 89h12v12h-12zM95 425h12v12h-12zM975 718h12v12h-12zM345 761h12v12h-12zM345 -9h12v12h-12zM366 208h12v12h-12zM145 465h12v12h-12zM57 87h12v12h-12zM349 371h12v12h-12zM146 147h12v12h-12zM512 590h12v12h-12zM455 494h12v12h-12zM462 482h12v12h-12zM592 714h12v12h-12zM768 538h12v12h-12zM118 169h12v12h-12zM976 691h12v12h-12zM243 560h12v12h-12zM401 567h12v12h-12zM824 15h12v12h-12zM1187 740h12v12h-12zM191 611h12v12h-12zM1094 49h12v12h-12zM214 437h12v12h-12zM697 260h12v12h-12zM595 523h12v12h-12zM294 639h12v12h-12zM549 345h12v12h-12zM72 603h12v12h-12zM600 13h12v12h-12zM674 329h12v12h-12zM628 242h12v12h-12zM492 603h12v12h-12zM398 460h12v12h-12zM136 222h12v12h-12zM490 366h12v12h-12zM338 102h12v12h-12zM277 2h12v12h-12zM1156 116h12v12h-12zM1110 216h12v12h-12zM52 290h12v12h-12zM238 193h12v12h-12zM1166 405h12v12h-12zM2 183h12v12h-12zM195 267h12v12h-12zM1168 746h12v12h-12zM1036 555h12v12h-12zM304 641h12v12h-12zM682 295h12v12h-12zM529 333h12v12h-12zM529 26h12v12h-12zM33 93h12v12h-12zM493 277h12v12h-12zM1132 483h12v12h-12zM70 370h12v12h-12zM153 747h12v12h-12zM1193 575h12v12h-12zM-7 575h12v12h-12zM1097 406h12v12h-12zM850 218h12v12h-12zM711 113h12v12h-12zM545 550h12v12h-12zM510 647h12v12h-12zM1163 148h12v12h-12zM1189 518h12v12h-12zM-11 518h12v12h-12zM172 6h12v12h-12zM918 77h12v12h-12zM892 36h12v12h-12zM287 61h12v12h-12zM542 246h12v12h-12zM1098 709h12v12h-12zM2 72h12v12h-12zM809 388h12v12h-12zM17 559h12v12h-12zM1024 744h12v12h-12zM770 215h12v12h-12zM74 237h12v12h-12zM20 700h12v12h-12zM252 693h12v12h-12zM842 5h12v12h-12zM929 719h12v12h-12zM237 611h12v12h-12zM680 192h12v12h-12zM447 634h12v12h-12zM1109 630h12v12h-12zM501 620h12v12h-12zM227 627h12v12h-12zM512 336h12v12h-12zM1100 388h12v12h-12zM215 636h12v12h-12zM878 480h12v12h-12zM257 182h12v12h-12zM768 487h12v12h-12zM1075 272h12v12h-12zM885 194h12v12h-12zM370 734h12v12h-12zM1129 569h12v12h-12zM1054 370h12v12h-12zM980 508h12v12h-12zM1149 404h12v12h-12zM572 660h12v12h-12zM1157 685h12v12h-12zM153 72h12v12h-12zM709 511h12v12h-12zM209 701h12v12h-12zM585 163h12v12h-12zM64 358h12v12h-12zM970 238h12v12h-12zM363 82h12v12h-12zM763 18h12v12h-12zM611 6h12v12h-12zM987 485h12v12h-12zM49 390h12v12h-12zM822 45h12v12h-12zM877 30h12v12h-12zM178 677h12v12h-12zM775 161h12v12h-12zM407 323h12v12h-12zM382 140h12v12h-12zM882 305h12v12h-12zM40 676h12v12h-12zM506 282h12v12h-12zM236 505h12v12h-12zM859 76h12v12h-12zM684 723h12v12h-12zM262 33h12v12h-12zM197 252h12v12h-12zM347 351h12v12h-12zM386 239h12v12h-12zM1031 387h12v12h-12zM218 54h12v12h-12zM871 713h12v12h-12zM5 222h12v12h-12zM96 304h12v12h-12zM1015 157h12v12h-12zM955 550h12v12h-12zM624 351h12v12h-12zM782 447h12v12h-12zM857 345h12v12h-12zM1106 38h12v12h-12zM688 729h12v12h-12zM627 533h12v12h-12zM704 715h12v12h-12zM808 536h12v12h-12zM100 399h12v12h-12zM664 504h12v12h-12zM102 644h12v12h-12zM772 415h12v12h-12zM190 614h12v12h-12zM183 404h12v12h-12zM204 45h12v12h-12zM672 346h12v12h-12zM9 234h12v12h-12zM41 673h12v12h-12zM976 165h12v12h-12zM1044 581h12v12h-12zM988 537h12v12h-12zM243 415h12v12h-12zM111 499h12v12h-12zM842 401h12v12h-12zM425 393h12v12h-12zM773 381h12v12h-12zM477 276h12v12h-12zM93 488h12v12h-12zM771 68h12v12h-12zM554 515h12v12h-12zM505 550h12v12h-12zM116 227h12v12h-12zM585 215h12v12h-12zM1079 637h12v12h-12zM1068 421h12v12h-12zM730 80h12v12h-12zM726 711h12v12h-12zM622 201h12v12h-12zM146 596h12v12h-12zM849 456h12v12h-12zM613 169h12v12h-12zM1141 335h12v12h-12zM871 764h12v12h-12zM871 -6h12v12h-12zM16 735h12v12h-12zM695 267h12v12h-12zM161 761h12v12h-12zM161 -9h12v12h-12zM138 265h12v12h-12zM283 471h12v12h-12zM80 73h12v12h-12zM514 49h12v12h-12zM580 568h12v12h-12zM692 625h12v12h-12zM524 75h12v12h-12zM208 506h12v12h-12zM652 510h12v12h-12zM203 598h12v12h-12zM885 411h12v12h-12zM284 668h12v12h-12zM727 324h12v12h-12zM214 326h12v12h-12zM82 36h12v12h-12zM86 0h12v12h-12zM1074 179h12v12h-12zM821 380h12v12h-12zM502 632h12v12h-12zM973 313h12v12h-12zM1120 610h12v12h-12zM695 550h12v12h-12zM248 551h12v12h-12zM996 548h12v12h-12zM1135 354h12v12h-12zM878 23h12v12h-12zM1049 111h12v12h-12zM790 211h12v12h-12zM298 631h12v12h-12zM198 334h12v12h-12zM17 540h12v12h-12zM196 110h12v12h-12zM474 330h12v12h-12zM1036 64h12v12h-12zM442 415h12v12h-12zM1176 239h12v12h-12zM692 473h12v12h-12zM911 755h12v12h-12zM944 466h12v12h-12zM1064 761h12v12h-12zM1064 -9h12v12h-12zM294 506h12v12h-12zM14 185h12v12h-12zM1015 573h12v12h-12zM1108 702h12v12h-12zM131 74h12v12h-12zM162 357h12v12h-12zM185 670h12v12h-12zM570 716h12v12h-12zM209 479h12v12h-12zM870 128h12v12h-12zM813 749h12v12h-12zM623 302h12v12h-12zM853 28h12v12h-12zM935 606h12v12h-12zM632 329h12v12h-12zM1086 114h12v12h-12zM123 371h12v12h-12zM970 118h12v12h-12zM1144 120h12v12h-12zM716 477h12v12h-12zM860 586h12v12h-12zM686 255h12v12h-12zM1192 243h12v12h-12zM-8 243h12v12h-12zM827 709h12v12h-12zM975 267h12v12h-12zM712 467h12v12h-12zM1130 189h12v12h-12zM376 768h12v12h-12zM376 -2h12v12h-12zM351 115h12v12h-12zM424 716h12v12h-12zM429 639h12v12h-12zM35 675h12v12h-12zM947 460h12v12h-12zM813 725h12v12h-12zM1002 669h12v12h-12zM142 678h12v12h-12zM515 106h12v12h-12zM935 34h12v12h-12zM843 29h12v12h-12zM1091 49h12v12h-12zM657 521h12v12h-12zM1164 509h12v12h-12zM987 664h12v12h-12zM354 607h12v12h-12zM1109 5h12v12h-12zM1139 708h12v12h-12zM549 395h12v12h-12zM140 700h12v12h-12zM652 617h12v12h-12zM1114 286h12v12h-12zM862 770h12v12h-12zM862 0h12v12h-12zM1182 756h12v12h-12zM997 204h12v12h-12zM355 602h12v12h-12zM654 658h12v12h-12zM513 266h12v12h-12zM315 265h12v12h-12zM322 101h12v12h-12zM96 615h12v12h-12zM934 134h12v12h-12zM681 31h12v12h-12zM333 653h12v12h-12zM1049 418h12v12h-12zM212 157h12v12h-12zM647 17h12v12h-12zM767 282h12v12h-12zM221 444h12v12h-12zM976 590h12v12h-12zM1153 101h12v12h-12zM931 382h12v12h-12zM571 692h12v12h-12zM974 398h12v12h-12zM1167 6h12v12h-12zM991 245h12v12h-12zM184 467h12v12h-12zM1160 723h12v12h-12zM1066 691h12v12h-12zM636 558h12v12h-12zM696 241h12v12h-12zM1114 405h12v12h-12zM80 477h12v12h-12zM748 492h12v12h-12zM256 503h12v12h-12zM700 757h12v12h-12zM450 331h12v12h-12zM758 378h12v12h-12zM857 595h12v12h-12zM97 23h12v12h-12zM105 709h12v12h-12zM618 333h12v12h-12zM864 527h12v12h-12zM799 603h12v12h-12zM13 724h12v12h-12zM924 501h12v12h-12zM894 326h12v12h-12zM435 297h12v12h-12zM520 386h12v12h-12zM806 164h12v12h-12zM401 591h12v12h-12zM563 339h12v12h-12zM7 475h12v12h-12zM989 219h12v12h-12zM719 474h12v12h-12zM423 442h12v12h-12zM645 470h12v12h-12zM1140 672h12v12h-12zM932 367h12v12h-12zM146 84h12v12h-12zM880 200h12v12h-12zM320 220h12v12h-12zM663 113h12v12h-12zM172 627h12v12h-12zM1169 469h12v12h-12zM26 496h12v12h-12zM1109 674h12v12h-12zM663 675h12v12h-12zM588 662h12v12h-12zM895 2h12v12h-12zM845 748h12v12h-12zM1193 386h12v12h-12zM-7 386h12v12h-12zM565 332h12v12h-12zM1107 607h12v12h-12zM681 504h12v12h-12zM29 764h12v12h-12zM29 -6h12v12h-12zM609 689h12v12h-12zM1016 748h12v12h-12zM1088 365h12v12h-12zM939 308h12v12h-12zM398 548h12v12h-12zM1096 493h12v12h-12zM719 10h12v12h-12zM171 462h12v12h-12zM141 169h12v12h-12zM398 25h12v12h-12zM1135 551h12v12h-12zM10 580h12v12h-12zM939 128h12v12h-12zM1116 296h12v12h-12zM1062 104h12v12h-12zM735 760h12v12h-12zM735 -10h12v12h-12zM648 701h12v12h-12zM103 146h12v12h-12zM294 151h12v12h-12zM109 649h12v12h-12zM793 447h12v12h-12zM1009 151h12v12h-12zM633 664h12v12h-12zM604 358h12v12h-12zM527 30h12v12h-12zM816 560h12v12h-12zM663 513h12v12h-12zM431 736h12v12h-12zM406 24h12v12h-12zM104 705h12v12h-12zM1115 45h12v12h-12zM323 39h12v12h-12zM177 357h12v12h-12zM774 504h12v12h-12zM90 481h12v12h-12zM461 529h12v12h-12zM742 79h12v12h-12zM310 129h12v12h-12zM28 123h12v12h-12zM918 316h12v12h-12zM966 426h12v12h-12zM811 405h12v12h-12zM632 87h12v12h-12zM337 708h12v12h-12zM281 363h12v12h-12zM255 393h12v12h-12zM1088 431h12v12h-12zM605 118h12v12h-12zM763 326h12v12h-12zM1175 568h12v12h-12zM218 309h12v12h-12zM857 287h12v12h-12zM39 238h12v12h-12zM932 55h12v12h-12zM82 385h12v12h-12zM783 604h12v12h-12zM255 470h12v12h-12zM1142 509h12v12h-12zM197 86h12v12h-12zM314 700h12v12h-12zM279 399h12v12h-12zM770 738h12v12h-12zM54 487h12v12h-12zM1041 652h12v12h-12zM802 328h12v12h-12zM651 711h12v12h-12zM130 614h12v12h-12zM400 39h12v12h-12zM781 674h12v12h-12zM1021 276h12v12h-12zM86 23h12v12h-12zM1043 604h12v12h-12zM1140 530h12v12h-12zM696 255h12v12h-12zM637 399h12v12h-12zM423 524h12v12h-12zM139 441h12v12h-12zM780 339h12v12h-12zM966 694h12v12h-12zM788 320h12v12h-12zM357 131h12v12h-12zM852 634h12v12h-12zM20 196h12v12h-12zM118 459h12v12h-12zM962 25h12v12h-12zM924 574h12v12h-12zM1004 179h12v12h-12zM729 696h12v12h-12zM1011 591h12v12h-12zM19 63h12v12h-12zM375 49h12v12h-12zM445 528h12v12h-12zM43 247h12v12h-12zM1046 147h12v12h-12zM1030 129h12v12h-12zM990 131h12v12h-12zM451 282h12v12h-12zM299 509h12v12h-12zM770 279h12v12h-12zM776 172h12v12h-12zM69 324h12v12h-12zM730 26h12v12h-12zM74 701h12v12h-12zM283 499h12v12h-12zM880 190h12v12h-12zM1057 662h12v12h-12zM924 46h12v12h-12zM872 391h12v12h-12zM706 87h12v12h-12zM825 621h12v12h-12zM651 630h12v12h-12zM961 325h12v12h-12zM1063 18h12v12h-12zM146 520h12v12h-12zM743 485h12v12h-12zM3 676h12v12h-12zM665 341h12v12h-12zM1171 521h12v12h-12zM963 674h12v12h-12zM318 112h12v12h-12zM1157 622h12v12h-12zM504 409h12v12h-12zM77 596h12v12h-12zM276 607h12v12h-12zM864 335h12v12h-12zM511 560h12v12h-12zM991 22h12v12h-12zM1021 353h12v12h-12zM235 154h12v12h-12zM4 314h12v12h-12zM610 713h12v12h-12zM978 664h12v12h-12zM900 403h12v12h-12zM472 435h12v12h-12zM525 481h12v12h-12zM555 732h12v12h-12zM229 738h12v12h-12zM1054 261h12v12h-12zM674 606h12v12h-12zM53 284h12v12h-12zM848 337h12v12h-12zM294 115h12v12h-12zM547 235h12v12h-12zM141 114h12v12h-12zM1136 511h12v12h-12zM408 430h12v12h-12zM1116 251h12v12h-12zM445 311h12v12h-12zM100 4h12v12h-12zM297 393h12v12h-12zM549 619h12v12h-12zM677 617h12v12h-12zM756 680h12v12h-12zM360 666h12v12h-12zM232 641h12v12h-12zM946 4h12v12h-12zM902 504h12v12h-12zM789 660h12v12h-12zM1028 13h12v12h-12zM645 19h12v12h-12zM870 635h12v12h-12zM473 22h12v12h-12zM324 85h12v12h-12zM113 349h12v12h-12zM243 326h12v12h-12zM335 644h12v12h-12zM147 596h12v12h-12zM1110 415h12v12h-12zM997 448h12v12h-12zM578 769h12v12h-12zM578 -1h12v12h-12zM606 655h12v12h-12zM713 600h12v12h-12zM715 278h12v12h-12zM1089 704h12v12h-12zM328 470h12v12h-12zM173 761h12v12h-12zM173 -9h12v12h-12zM734 576h12v12h-12zM81 392h12v12h-12zM656 435h12v12h-12zM77 162h12v12h-12zM229 62h12v12h-12zM333 63h12v12h-12zM6 378h12v12h-12zM478 248h12v12h-12zM280 214h12v12h-12zM33 48h12v12h-12zM1140 435h12v12h-12zM941 25h12v12h-12zM91 166h12v12h-12zM628 176h12v12h-12zM44 688h12v12h-12zM607 526h12v12h-12zM965 196h12v12h-12zM1018 483h12v12h-12zM438 60h12v12h-12zM323 746h12v12h-12zM981 215h12v12h-12zM1155 432h12v12h-12zM918 124h12v12h-12zM253 591h12v12h-12zM21 462h12v12h-12zM641 252h12v12h-12zM608 106h12v12h-12zM347 426h12v12h-12zM695 205h12v12h-12z" fill="#1d6fe0"/></pattern><pattern id="patd" width="120" height="77" patternUnits="userSpaceOnUse"><path transform="scale(0.1)" d="M1006 679h12v12h-12zM831 81h12v12h-12zM259 339h12v12h-12zM150 408h12v12h-12zM450 112h12v12h-12zM905 463h12v12h-12zM882 700h12v12h-12zM495 87h12v12h-12zM774 4h12v12h-12zM989 412h12v12h-12zM80 200h12v12h-12zM646 585h12v12h-12zM907 125h12v12h-12zM990 402h12v12h-12zM263 51h12v12h-12zM581 169h12v12h-12zM439 386h12v12h-12zM318 349h12v12h-12zM958 235h12v12h-12zM672 440h12v12h-12zM675 630h12v12h-12zM319 30h12v12h-12zM838 586h12v12h-12zM73 679h12v12h-12zM1166 635h12v12h-12zM601 357h12v12h-12zM228 657h12v12h-12zM554 313h12v12h-12zM857 615h12v12h-12zM990 589h12v12h-12zM1043 61h12v12h-12zM918 469h12v12h-12zM454 76h12v12h-12zM356 722h12v12h-12zM837 681h12v12h-12zM551 486h12v12h-12zM646 288h12v12h-12zM1036 687h12v12h-12zM134 16h12v12h-12zM56 114h12v12h-12zM303 645h12v12h-12zM479 231h12v12h-12zM355 234h12v12h-12zM1073 559h12v12h-12zM547 375h12v12h-12zM423 595h12v12h-12zM451 695h12v12h-12zM732 56h12v12h-12zM569 170h12v12h-12zM145 605h12v12h-12zM597 78h12v12h-12zM893 440h12v12h-12zM915 519h12v12h-12zM1178 100h12v12h-12zM485 765h12v12h-12zM485 -5h12v12h-12zM1010 179h12v12h-12zM779 438h12v12h-12zM88 444h12v12h-12zM829 671h12v12h-12zM1184 162h12v12h-12zM336 744h12v12h-12zM480 606h12v12h-12zM353 630h12v12h-12zM871 739h12v12h-12zM1084 69h12v12h-12zM313 297h12v12h-12zM472 168h12v12h-12zM951 88h12v12h-12zM1065 342h12v12h-12zM1170 748h12v12h-12zM938 107h12v12h-12zM865 398h12v12h-12zM349 116h12v12h-12zM322 385h12v12h-12zM437 445h12v12h-12zM884 0h12v12h-12zM659 216h12v12h-12zM525 109h12v12h-12zM497 553h12v12h-12zM747 512h12v12h-12zM805 53h12v12h-12zM672 550h12v12h-12zM1181 689h12v12h-12zM1097 75h12v12h-12zM582 357h12v12h-12zM384 101h12v12h-12zM537 613h12v12h-12zM96 161h12v12h-12zM602 515h12v12h-12zM157 619h12v12h-12zM1021 153h12v12h-12zM487 415h12v12h-12zM297 233h12v12h-12zM530 554h12v12h-12zM321 561h12v12h-12zM136 415h12v12h-12zM618 193h12v12h-12zM539 352h12v12h-12zM303 442h12v12h-12zM423 428h12v12h-12zM382 33h12v12h-12zM1052 585h12v12h-12zM421 256h12v12h-12zM423 34h12v12h-12zM306 751h12v12h-12zM952 594h12v12h-12zM768 755h12v12h-12zM902 403h12v12h-12zM369 739h12v12h-12zM207 673h12v12h-12zM269 516h12v12h-12zM1002 189h12v12h-12zM96 539h12v12h-12zM1184 119h12v12h-12zM593 131h12v12h-12zM786 562h12v12h-12zM1104 238h12v12h-12zM981 413h12v12h-12zM580 179h12v12h-12zM113 272h12v12h-12zM689 74h12v12h-12zM520 505h12v12h-12zM835 145h12v12h-12zM199 102h12v12h-12zM492 165h12v12h-12zM217 449h12v12h-12zM1134 46h12v12h-12zM537 758h12v12h-12zM36 178h12v12h-12zM66 402h12v12h-12zM798 715h12v12h-12zM345 705h12v12h-12zM1073 259h12v12h-12zM593 437h12v12h-12zM682 221h12v12h-12zM709 174h12v12h-12zM962 1h12v12h-12zM620 532h12v12h-12zM47 303h12v12h-12zM998 229h12v12h-12zM988 110h12v12h-12zM123 660h12v12h-12zM751 726h12v12h-12zM222 687h12v12h-12zM574 411h12v12h-12zM428 302h12v12h-12zM1008 205h12v12h-12zM444 338h12v12h-12zM1172 293h12v12h-12zM1165 453h12v12h-12zM797 647h12v12h-12zM810 391h12v12h-12zM177 511h12v12h-12zM193 532h12v12h-12zM331 187h12v12h-12zM552 262h12v12h-12zM483 173h12v12h-12zM246 694h12v12h-12zM1037 614h12v12h-12zM146 704h12v12h-12zM415 671h12v12h-12zM1005 529h12v12h-12zM1148 186h12v12h-12zM816 246h12v12h-12zM469 206h12v12h-12zM912 603h12v12h-12zM1132 428h12v12h-12zM21 85h12v12h-12zM226 153h12v12h-12zM450 500h12v12h-12zM143 338h12v12h-12zM409 536h12v12h-12zM985 556h12v12h-12zM79 435h12v12h-12zM182 674h12v12h-12zM53 189h12v12h-12zM178 552h12v12h-12zM115 205h12v12h-12zM793 401h12v12h-12zM997 163h12v12h-12zM247 737h12v12h-12zM1069 693h12v12h-12zM1165 606h12v12h-12zM799 717h12v12h-12zM657 119h12v12h-12zM538 193h12v12h-12zM722 451h12v12h-12zM265 326h12v12h-12zM573 488h12v12h-12zM1064 289h12v12h-12zM953 25h12v12h-12zM120 572h12v12h-12zM369 80h12v12h-12zM74 309h12v12h-12zM228 747h12v12h-12zM740 683h12v12h-12zM906 374h12v12h-12zM944 470h12v12h-12zM142 540h12v12h-12zM907 306h12v12h-12zM519 190h12v12h-12zM1085 178h12v12h-12zM1120 641h12v12h-12zM807 486h12v12h-12zM249 134h12v12h-12zM49 54h12v12h-12zM409 459h12v12h-12zM795 545h12v12h-12zM1181 107h12v12h-12zM486 7h12v12h-12zM25 519h12v12h-12zM287 277h12v12h-12zM1161 744h12v12h-12zM878 383h12v12h-12zM808 315h12v12h-12zM865 747h12v12h-12zM571 456h12v12h-12zM158 741h12v12h-12zM1037 474h12v12h-12zM1010 122h12v12h-12zM209 258h12v12h-12zM178 541h12v12h-12zM663 190h12v12h-12zM694 58h12v12h-12zM1157 578h12v12h-12zM766 705h12v12h-12zM930 661h12v12h-12zM79 717h12v12h-12zM559 277h12v12h-12zM72 462h12v12h-12zM136 166h12v12h-12zM468 241h12v12h-12zM484 35h12v12h-12zM409 262h12v12h-12zM662 766h12v12h-12zM662 -4h12v12h-12zM921 400h12v12h-12zM982 650h12v12h-12zM798 375h12v12h-12zM891 496h12v12h-12zM110 711h12v12h-12zM1036 577h12v12h-12zM689 598h12v12h-12zM1099 727h12v12h-12zM401 508h12v12h-12zM378 65h12v12h-12zM372 742h12v12h-12zM1101 205h12v12h-12zM490 581h12v12h-12zM1023 220h12v12h-12zM848 476h12v12h-12zM641 305h12v12h-12zM940 317h12v12h-12zM201 356h12v12h-12zM945 752h12v12h-12zM867 763h12v12h-12zM867 -7h12v12h-12zM677 274h12v12h-12zM706 206h12v12h-12zM381 574h12v12h-12zM1168 142h12v12h-12zM22 737h12v12h-12zM47 487h12v12h-12zM833 705h12v12h-12zM953 363h12v12h-12zM997 170h12v12h-12zM883 124h12v12h-12zM1117 436h12v12h-12zM752 88h12v12h-12zM90 347h12v12h-12zM550 552h12v12h-12zM801 38h12v12h-12zM452 104h12v12h-12zM350 462h12v12h-12zM585 391h12v12h-12zM748 602h12v12h-12zM1186 144h12v12h-12zM574 355h12v12h-12zM233 624h12v12h-12zM1157 564h12v12h-12zM291 472h12v12h-12zM1124 101h12v12h-12zM152 728h12v12h-12zM168 761h12v12h-12zM168 -9h12v12h-12zM1191 657h12v12h-12zM-9 657h12v12h-12zM465 169h12v12h-12zM467 467h12v12h-12zM497 280h12v12h-12zM127 226h12v12h-12zM1023 743h12v12h-12zM375 640h12v12h-12zM384 764h12v12h-12zM384 -6h12v12h-12zM573 386h12v12h-12zM982 236h12v12h-12zM505 74h12v12h-12zM112 556h12v12h-12zM860 540h12v12h-12zM820 572h12v12h-12zM1136 60h12v12h-12zM370 704h12v12h-12zM795 359h12v12h-12zM682 541h12v12h-12zM25 645h12v12h-12zM218 178h12v12h-12zM464 321h12v12h-12zM1114 61h12v12h-12zM554 3h12v12h-12zM954 723h12v12h-12zM806 237h12v12h-12zM588 367h12v12h-12zM499 748h12v12h-12zM515 506h12v12h-12zM443 41h12v12h-12zM496 528h12v12h-12zM144 691h12v12h-12zM371 731h12v12h-12zM856 389h12v12h-12zM340 143h12v12h-12zM689 465h12v12h-12zM307 253h12v12h-12zM614 569h12v12h-12zM128 604h12v12h-12zM1077 297h12v12h-12zM821 348h12v12h-12zM708 284h12v12h-12zM741 152h12v12h-12zM186 251h12v12h-12zM1003 497h12v12h-12zM646 348h12v12h-12zM144 264h12v12h-12zM162 312h12v12h-12zM200 238h12v12h-12zM793 242h12v12h-12zM364 365h12v12h-12zM455 174h12v12h-12zM1109 441h12v12h-12zM1162 43h12v12h-12zM728 606h12v12h-12zM140 602h12v12h-12zM436 413h12v12h-12zM1121 277h12v12h-12zM189 229h12v12h-12zM1167 283h12v12h-12zM93 690h12v12h-12zM1124 673h12v12h-12zM739 211h12v12h-12zM99 731h12v12h-12zM78 215h12v12h-12zM917 511h12v12h-12zM740 269h12v12h-12zM1189 585h12v12h-12zM-11 585h12v12h-12zM867 210h12v12h-12zM168 163h12v12h-12zM1035 181h12v12h-12zM97 266h12v12h-12zM175 350h12v12h-12zM137 3h12v12h-12zM676 731h12v12h-12zM368 206h12v12h-12zM767 696h12v12h-12zM1092 541h12v12h-12zM237 32h12v12h-12zM38 399h12v12h-12zM541 640h12v12h-12zM1023 674h12v12h-12zM1079 159h12v12h-12zM839 64h12v12h-12zM829 479h12v12h-12zM441 653h12v12h-12zM1114 25h12v12h-12zM784 519h12v12h-12zM886 559h12v12h-12zM457 204h12v12h-12zM294 53h12v12h-12zM777 288h12v12h-12zM79 176h12v12h-12zM283 160h12v12h-12zM185 27h12v12h-12zM714 345h12v12h-12zM636 725h12v12h-12zM576 747h12v12h-12zM1035 369h12v12h-12zM115 272h12v12h-12zM1000 597h12v12h-12zM857 94h12v12h-12zM397 147h12v12h-12zM391 626h12v12h-12zM551 119h12v12h-12zM439 250h12v12h-12zM529 516h12v12h-12zM688 102h12v12h-12zM1095 200h12v12h-12zM133 346h12v12h-12zM285 750h12v12h-12zM827 28h12v12h-12zM980 663h12v12h-12zM1200 464h12v12h-12zM0 464h12v12h-12zM1085 560h12v12h-12zM130 510h12v12h-12zM369 367h12v12h-12zM212 703h12v12h-12zM699 513h12v12h-12zM288 482h12v12h-12zM742 608h12v12h-12zM233 671h12v12h-12zM1051 229h12v12h-12zM192 489h12v12h-12zM640 166h12v12h-12zM46 576h12v12h-12zM510 725h12v12h-12zM229 420h12v12h-12zM563 440h12v12h-12zM127 301h12v12h-12zM79 524h12v12h-12zM391 704h12v12h-12zM885 67h12v12h-12zM657 467h12v12h-12zM537 467h12v12h-12zM602 471h12v12h-12zM877 219h12v12h-12zM274 512h12v12h-12zM70 168h12v12h-12zM1026 450h12v12h-12zM947 163h12v12h-12zM907 2h12v12h-12zM1194 682h12v12h-12zM-6 682h12v12h-12zM874 410h12v12h-12zM605 273h12v12h-12zM299 686h12v12h-12zM871 557h12v12h-12zM338 677h12v12h-12zM283 381h12v12h-12zM260 113h12v12h-12zM1117 499h12v12h-12zM109 438h12v12h-12zM168 339h12v12h-12zM793 262h12v12h-12zM1109 160h12v12h-12zM1056 28h12v12h-12zM1039 283h12v12h-12zM1086 546h12v12h-12zM790 291h12v12h-12zM171 263h12v12h-12zM481 669h12v12h-12zM310 112h12v12h-12zM1139 349h12v12h-12zM119 346h12v12h-12zM1059 180h12v12h-12zM1023 673h12v12h-12zM67 630h12v12h-12zM534 672h12v12h-12zM263 698h12v12h-12zM208 517h12v12h-12zM496 308h12v12h-12zM173 396h12v12h-12zM1118 470h12v12h-12zM254 316h12v12h-12zM586 438h12v12h-12zM467 568h12v12h-12zM218 32h12v12h-12zM728 4h12v12h-12zM642 405h12v12h-12zM542 748h12v12h-12zM7 270h12v12h-12zM439 704h12v12h-12zM555 481h12v12h-12zM760 626h12v12h-12zM521 298h12v12h-12zM954 42h12v12h-12zM724 244h12v12h-12zM318 64h12v12h-12zM733 217h12v12h-12zM270 361h12v12h-12zM641 537h12v12h-12zM897 266h12v12h-12zM953 295h12v12h-12zM151 140h12v12h-12zM455 493h12v12h-12zM392 308h12v12h-12zM480 671h12v12h-12zM694 596h12v12h-12zM879 347h12v12h-12zM1012 210h12v12h-12zM810 487h12v12h-12zM1090 416h12v12h-12zM1145 716h12v12h-12zM301 415h12v12h-12zM672 442h12v12h-12zM152 143h12v12h-12zM667 132h12v12h-12zM799 330h12v12h-12zM807 483h12v12h-12zM861 729h12v12h-12zM462 104h12v12h-12zM534 334h12v12h-12zM231 698h12v12h-12zM514 158h12v12h-12zM662 658h12v12h-12zM931 153h12v12h-12zM1111 594h12v12h-12zM1172 131h12v12h-12zM747 410h12v12h-12zM1143 668h12v12h-12zM254 492h12v12h-12zM108 726h12v12h-12zM488 223h12v12h-12zM1010 373h12v12h-12zM261 426h12v12h-12zM645 179h12v12h-12zM1099 532h12v12h-12zM188 336h12v12h-12zM1056 579h12v12h-12zM878 156h12v12h-12zM473 702h12v12h-12zM31 267h12v12h-12zM484 505h12v12h-12zM111 763h12v12h-12zM111 -7h12v12h-12zM1026 157h12v12h-12zM1123 711h12v12h-12zM334 331h12v12h-12zM1063 261h12v12h-12zM705 641h12v12h-12zM939 603h12v12h-12zM1189 297h12v12h-12zM-11 297h12v12h-12zM878 611h12v12h-12zM581 480h12v12h-12zM141 335h12v12h-12zM28 343h12v12h-12zM1087 740h12v12h-12zM1042 696h12v12h-12zM911 162h12v12h-12zM612 138h12v12h-12zM773 547h12v12h-12zM215 355h12v12h-12zM798 710h12v12h-12zM451 544h12v12h-12zM102 262h12v12h-12zM303 235h12v12h-12zM849 204h12v12h-12zM1188 335h12v12h-12zM695 444h12v12h-12zM614 460h12v12h-12zM424 238h12v12h-12zM634 305h12v12h-12zM630 275h12v12h-12zM352 667h12v12h-12zM782 329h12v12h-12zM946 717h12v12h-12zM1157 285h12v12h-12zM319 744h12v12h-12zM411 57h12v12h-12zM976 637h12v12h-12zM267 170h12v12h-12zM245 30h12v12h-12zM255 4h12v12h-12zM510 521h12v12h-12zM568 225h12v12h-12zM682 191h12v12h-12zM595 281h12v12h-12zM90 488h12v12h-12zM1037 636h12v12h-12zM949 183h12v12h-12zM245 455h12v12h-12zM410 309h12v12h-12zM783 296h12v12h-12zM1061 318h12v12h-12zM552 290h12v12h-12zM243 634h12v12h-12zM1118 257h12v12h-12zM287 155h12v12h-12zM214 206h12v12h-12zM547 641h12v12h-12zM926 352h12v12h-12zM258 565h12v12h-12zM461 170h12v12h-12zM1099 575h12v12h-12zM576 217h12v12h-12zM436 28h12v12h-12zM116 23h12v12h-12zM106 416h12v12h-12zM638 1h12v12h-12zM275 333h12v12h-12zM63 116h12v12h-12zM613 474h12v12h-12zM666 383h12v12h-12zM772 427h12v12h-12zM1136 385h12v12h-12zM663 744h12v12h-12zM195 738h12v12h-12zM594 449h12v12h-12zM1099 717h12v12h-12zM868 623h12v12h-12zM966 94h12v12h-12zM646 598h12v12h-12zM1049 323h12v12h-12zM48 582h12v12h-12zM1024 576h12v12h-12zM492 233h12v12h-12zM442 697h12v12h-12zM398 651h12v12h-12zM405 413h12v12h-12zM900 400h12v12h-12zM419 151h12v12h-12zM793 67h12v12h-12zM501 17h12v12h-12zM399 486h12v12h-12zM328 399h12v12h-12zM468 11h12v12h-12zM905 96h12v12h-12zM211 394h12v12h-12zM162 378h12v12h-12zM149 587h12v12h-12zM230 379h12v12h-12zM1128 650h12v12h-12zM596 291h12v12h-12zM993 487h12v12h-12zM853 733h12v12h-12zM170 254h12v12h-12zM189 348h12v12h-12zM785 45h12v12h-12zM30 462h12v12h-12zM974 712h12v12h-12zM459 77h12v12h-12zM267 465h12v12h-12zM887 710h12v12h-12zM1178 420h12v12h-12zM521 158h12v12h-12zM1012 313h12v12h-12zM655 703h12v12h-12zM520 587h12v12h-12zM295 386h12v12h-12zM391 494h12v12h-12zM1177 197h12v12h-12zM189 183h12v12h-12zM441 72h12v12h-12zM713 346h12v12h-12zM275 345h12v12h-12zM835 198h12v12h-12zM1103 40h12v12h-12zM1032 671h12v12h-12zM806 111h12v12h-12zM102 252h12v12h-12zM817 1h12v12h-12zM458 609h12v12h-12zM1020 704h12v12h-12zM105 360h12v12h-12zM518 342h12v12h-12zM1184 629h12v12h-12zM651 69h12v12h-12zM190 76h12v12h-12zM85 374h12v12h-12zM243 115h12v12h-12zM752 604h12v12h-12zM1170 138h12v12h-12zM671 571h12v12h-12zM14 54h12v12h-12zM992 246h12v12h-12zM731 522h12v12h-12zM889 242h12v12h-12zM940 427h12v12h-12zM13 264h12v12h-12zM1026 678h12v12h-12zM141 732h12v12h-12zM348 113h12v12h-12zM567 150h12v12h-12zM506 405h12v12h-12zM656 267h12v12h-12zM470 696h12v12h-12zM689 82h12v12h-12zM700 760h12v12h-12zM700 -10h12v12h-12zM37 346h12v12h-12zM530 491h12v12h-12zM19 660h12v12h-12zM1073 43h12v12h-12zM607 271h12v12h-12zM597 384h12v12h-12zM35 115h12v12h-12zM1081 64h12v12h-12zM375 470h12v12h-12zM644 300h12v12h-12zM1084 554h12v12h-12zM1095 351h12v12h-12zM1116 283h12v12h-12zM154 121h12v12h-12zM980 340h12v12h-12zM199 618h12v12h-12zM912 211h12v12h-12zM859 157h12v12h-12zM473 243h12v12h-12zM1004 579h12v12h-12zM171 411h12v12h-12zM527 748h12v12h-12zM386 486h12v12h-12zM725 27h12v12h-12zM220 354h12v12h-12zM640 520h12v12h-12zM1144 272h12v12h-12zM157 489h12v12h-12zM113 718h12v12h-12zM238 275h12v12h-12zM877 202h12v12h-12zM544 328h12v12h-12zM1038 613h12v12h-12zM177 309h12v12h-12zM867 395h12v12h-12zM13 642h12v12h-12zM192 187h12v12h-12zM565 250h12v12h-12zM484 434h12v12h-12zM887 307h12v12h-12zM537 38h12v12h-12zM288 248h12v12h-12zM45 743h12v12h-12zM532 509h12v12h-12zM132 32h12v12h-12zM287 407h12v12h-12zM12 213h12v12h-12zM871 21h12v12h-12zM99 585h12v12h-12zM842 763h12v12h-12zM842 -7h12v12h-12zM118 522h12v12h-12zM672 153h12v12h-12zM1059 561h12v12h-12zM512 709h12v12h-12zM732 262h12v12h-12zM469 53h12v12h-12zM727 197h12v12h-12zM43 751h12v12h-12zM575 622h12v12h-12zM478 429h12v12h-12zM862 546h12v12h-12zM437 552h12v12h-12zM346 400h12v12h-12zM826 640h12v12h-12zM170 757h12v12h-12zM678 455h12v12h-12zM60 570h12v12h-12zM326 131h12v12h-12zM145 495h12v12h-12zM204 255h12v12h-12zM1036 211h12v12h-12zM234 615h12v12h-12zM1184 133h12v12h-12zM18 67h12v12h-12zM562 259h12v12h-12zM1183 153h12v12h-12zM599 629h12v12h-12zM652 190h12v12h-12zM459 450h12v12h-12zM784 589h12v12h-12zM807 198h12v12h-12zM777 480h12v12h-12zM1151 93h12v12h-12zM266 441h12v12h-12zM29 410h12v12h-12zM165 292h12v12h-12zM435 604h12v12h-12zM461 57h12v12h-12zM770 540h12v12h-12zM718 550h12v12h-12zM932 332h12v12h-12zM482 331h12v12h-12zM114 676h12v12h-12zM1100 239h12v12h-12zM444 93h12v12h-12zM472 707h12v12h-12zM640 174h12v12h-12zM579 437h12v12h-12zM1011 3h12v12h-12zM605 66h12v12h-12zM625 650h12v12h-12zM1057 304h12v12h-12zM363 702h12v12h-12zM1027 13h12v12h-12zM1172 566h12v12h-12zM1170 61h12v12h-12zM445 193h12v12h-12zM792 757h12v12h-12zM449 264h12v12h-12zM65 46h12v12h-12zM914 113h12v12h-12zM59 393h12v12h-12zM862 373h12v12h-12zM785 19h12v12h-12zM739 319h12v12h-12zM1031 319h12v12h-12zM62 35h12v12h-12zM409 89h12v12h-12zM128 55h12v12h-12zM1150 719h12v12h-12zM1134 6h12v12h-12zM651 289h12v12h-12zM80 757h12v12h-12zM981 172h12v12h-12zM962 473h12v12h-12zM533 120h12v12h-12zM1190 414h12v12h-12zM-10 414h12v12h-12zM10 239h12v12h-12zM524 602h12v12h-12zM688 299h12v12h-12zM1177 82h12v12h-12zM697 39h12v12h-12zM125 149h12v12h-12zM946 162h12v12h-12zM1042 211h12v12h-12zM674 529h12v12h-12zM430 210h12v12h-12zM487 165h12v12h-12zM878 58h12v12h-12zM850 463h12v12h-12zM86 534h12v12h-12zM871 567h12v12h-12zM308 580h12v12h-12zM1200 219h12v12h-12zM0 219h12v12h-12zM112 689h12v12h-12zM764 261h12v12h-12zM997 1h12v12h-12zM115 700h12v12h-12zM765 35h12v12h-12zM947 183h12v12h-12zM809 733h12v12h-12zM1098 491h12v12h-12zM243 353h12v12h-12zM843 58h12v12h-12zM925 389h12v12h-12zM241 348h12v12h-12zM447 208h12v12h-12zM604 457h12v12h-12zM487 186h12v12h-12zM130 592h12v12h-12zM1049 591h12v12h-12zM829 44h12v12h-12zM1150 65h12v12h-12zM913 425h12v12h-12zM344 110h12v12h-12zM955 378h12v12h-12zM333 605h12v12h-12zM277 158h12v12h-12zM967 141h12v12h-12zM596 427h12v12h-12zM1083 715h12v12h-12zM829 256h12v12h-12zM257 394h12v12h-12zM381 476h12v12h-12zM447 373h12v12h-12zM134 374h12v12h-12zM418 629h12v12h-12zM397 543h12v12h-12zM549 667h12v12h-12zM911 636h12v12h-12zM627 590h12v12h-12zM505 272h12v12h-12zM499 357h12v12h-12zM1108 587h12v12h-12zM763 718h12v12h-12zM748 332h12v12h-12zM920 759h12v12h-12zM920 -11h12v12h-12zM908 452h12v12h-12zM794 342h12v12h-12zM103 734h12v12h-12zM557 620h12v12h-12zM14 486h12v12h-12zM1150 50h12v12h-12zM1030 600h12v12h-12zM1062 154h12v12h-12zM778 391h12v12h-12zM442 225h12v12h-12zM658 406h12v12h-12zM489 182h12v12h-12zM807 79h12v12h-12zM618 302h12v12h-12zM198 393h12v12h-12zM1173 599h12v12h-12zM732 581h12v12h-12zM1068 203h12v12h-12zM304 87h12v12h-12zM620 758h12v12h-12zM1161 565h12v12h-12zM1073 200h12v12h-12zM476 742h12v12h-12zM526 109h12v12h-12zM289 196h12v12h-12zM1033 541h12v12h-12zM657 258h12v12h-12zM782 418h12v12h-12zM998 79h12v12h-12zM931 188h12v12h-12zM919 717h12v12h-12zM597 378h12v12h-12zM941 548h12v12h-12zM1091 200h12v12h-12zM273 632h12v12h-12zM338 19h12v12h-12zM197 321h12v12h-12zM508 380h12v12h-12zM989 142h12v12h-12zM194 169h12v12h-12zM937 216h12v12h-12zM382 598h12v12h-12zM611 637h12v12h-12zM923 52h12v12h-12zM110 142h12v12h-12zM867 715h12v12h-12zM1155 677h12v12h-12zM773 208h12v12h-12zM1180 549h12v12h-12zM225 265h12v12h-12zM842 467h12v12h-12zM270 707h12v12h-12zM754 719h12v12h-12zM810 515h12v12h-12zM664 757h12v12h-12zM397 758h12v12h-12zM1119 602h12v12h-12zM668 9h12v12h-12zM678 530h12v12h-12zM963 569h12v12h-12zM38 376h12v12h-12zM1006 32h12v12h-12zM901 627h12v12h-12zM873 419h12v12h-12zM1047 250h12v12h-12zM414 732h12v12h-12zM197 520h12v12h-12zM309 641h12v12h-12zM160 66h12v12h-12zM1071 40h12v12h-12zM649 3h12v12h-12zM320 716h12v12h-12zM874 441h12v12h-12zM1174 122h12v12h-12zM1131 469h12v12h-12zM263 7h12v12h-12zM366 155h12v12h-12zM13 619h12v12h-12zM809 11h12v12h-12zM306 691h12v12h-12zM1111 566h12v12h-12zM174 758h12v12h-12zM1165 617h12v12h-12zM449 331h12v12h-12zM657 356h12v12h-12zM99 115h12v12h-12zM258 241h12v12h-12zM756 27h12v12h-12zM422 102h12v12h-12zM281 489h12v12h-12zM842 238h12v12h-12zM1066 34h12v12h-12zM708 45h12v12h-12zM754 84h12v12h-12zM229 666h12v12h-12zM769 156h12v12h-12zM1163 499h12v12h-12zM1133 87h12v12h-12zM334 569h12v12h-12zM656 473h12v12h-12zM268 660h12v12h-12zM1189 57h12v12h-12zM-11 57h12v12h-12zM299 576h12v12h-12zM997 662h12v12h-12zM112 144h12v12h-12zM1024 390h12v12h-12zM492 61h12v12h-12zM171 667h12v12h-12zM369 377h12v12h-12zM224 93h12v12h-12zM607 8h12v12h-12zM976 202h12v12h-12zM497 705h12v12h-12zM31 55h12v12h-12zM841 78h12v12h-12zM311 377h12v12h-12zM921 321h12v12h-12zM194 640h12v12h-12zM122 227h12v12h-12zM1019 759h12v12h-12zM1019 -11h12v12h-12zM964 351h12v12h-12zM768 376h12v12h-12zM279 472h12v12h-12zM620 596h12v12h-12zM199 155h12v12h-12zM351 69h12v12h-12zM426 203h12v12h-12zM562 33h12v12h-12zM1095 442h12v12h-12zM196 39h12v12h-12zM3 349h12v12h-12zM96 197h12v12h-12zM195 716h12v12h-12zM380 507h12v12h-12zM990 354h12v12h-12zM160 691h12v12h-12zM58 456h12v12h-12zM674 756h12v12h-12zM128 358h12v12h-12zM658 428h12v12h-12zM245 604h12v12h-12zM666 244h12v12h-12zM715 189h12v12h-12zM889 434h12v12h-12zM964 435h12v12h-12zM1188 19h12v12h-12zM138 515h12v12h-12zM263 496h12v12h-12zM939 663h12v12h-12zM553 86h12v12h-12zM96 637h12v12h-12zM880 105h12v12h-12zM725 737h12v12h-12zM519 751h12v12h-12zM63 31h12v12h-12zM366 522h12v12h-12zM1058 108h12v12h-12zM508 185h12v12h-12zM133 56h12v12h-12zM1080 640h12v12h-12zM803 616h12v12h-12zM1033 517h12v12h-12zM941 146h12v12h-12zM1157 58h12v12h-12zM667 621h12v12h-12zM451 596h12v12h-12zM555 363h12v12h-12zM205 149h12v12h-12zM573 716h12v12h-12zM1076 750h12v12h-12zM206 685h12v12h-12zM729 23h12v12h-12zM221 105h12v12h-12zM415 745h12v12h-12zM497 255h12v12h-12zM495 411h12v12h-12zM173 167h12v12h-12zM979 66h12v12h-12zM569 690h12v12h-12zM94 732h12v12h-12zM572 703h12v12h-12zM629 303h12v12h-12zM553 22h12v12h-12zM196 428h12v12h-12zM995 168h12v12h-12zM70 268h12v12h-12zM989 364h12v12h-12zM280 456h12v12h-12zM712 345h12v12h-12zM889 627h12v12h-12zM569 300h12v12h-12zM389 298h12v12h-12zM973 93h12v12h-12zM127 442h12v12h-12zM846 487h12v12h-12zM826 376h12v12h-12zM894 192h12v12h-12zM1087 262h12v12h-12zM1109 106h12v12h-12zM164 139h12v12h-12zM440 600h12v12h-12zM1153 647h12v12h-12zM372 499h12v12h-12zM856 429h12v12h-12zM541 297h12v12h-12zM1112 265h12v12h-12zM786 425h12v12h-12zM33 513h12v12h-12zM380 605h12v12h-12zM773 681h12v12h-12zM1146 262h12v12h-12zM254 608h12v12h-12zM266 17h12v12h-12zM814 307h12v12h-12zM261 87h12v12h-12zM825 162h12v12h-12zM308 398h12v12h-12zM633 534h12v12h-12zM900 352h12v12h-12zM570 476h12v12h-12zM756 616h12v12h-12zM1148 245h12v12h-12zM402 51h12v12h-12zM1122 82h12v12h-12zM747 263h12v12h-12zM484 745h12v12h-12zM760 749h12v12h-12zM1075 266h12v12h-12zM803 544h12v12h-12zM1087 236h12v12h-12zM54 591h12v12h-12zM349 73h12v12h-12zM769 71h12v12h-12zM143 757h12v12h-12zM200 40h12v12h-12zM882 684h12v12h-12zM936 99h12v12h-12zM467 11h12v12h-12zM72 139h12v12h-12zM15 2h12v12h-12zM808 73h12v12h-12zM1157 384h12v12h-12zM765 393h12v12h-12zM792 498h12v12h-12zM169 208h12v12h-12zM1027 377h12v12h-12zM12 710h12v12h-12zM130 618h12v12h-12zM1090 225h12v12h-12zM87 445h12v12h-12zM522 440h12v12h-12zM742 175h12v12h-12zM823 679h12v12h-12zM1031 363h12v12h-12zM234 423h12v12h-12zM1092 98h12v12h-12zM635 624h12v12h-12zM79 383h12v12h-12zM361 685h12v12h-12zM1017 228h12v12h-12zM1007 346h12v12h-12zM679 384h12v12h-12zM1026 11h12v12h-12zM555 16h12v12h-12zM804 106h12v12h-12zM389 218h12v12h-12zM192 421h12v12h-12zM375 354h12v12h-12zM748 412h12v12h-12zM91 62h12v12h-12zM718 669h12v12h-12zM897 609h12v12h-12zM415 52h12v12h-12zM929 197h12v12h-12zM545 527h12v12h-12zM424 240h12v12h-12zM227 704h12v12h-12zM236 24h12v12h-12zM1015 282h12v12h-12zM21 229h12v12h-12zM591 741h12v12h-12zM715 202h12v12h-12zM742 353h12v12h-12zM329 590h12v12h-12zM718 530h12v12h-12zM636 75h12v12h-12zM758 203h12v12h-12zM1053 642h12v12h-12zM1118 460h12v12h-12zM1092 347h12v12h-12zM867 28h12v12h-12zM304 461h12v12h-12zM67 550h12v12h-12zM744 169h12v12h-12zM55 478h12v12h-12zM318 604h12v12h-12zM1192 595h12v12h-12zM-8 595h12v12h-12zM632 357h12v12h-12zM860 151h12v12h-12zM460 636h12v12h-12zM173 198h12v12h-12zM1124 9h12v12h-12zM1015 78h12v12h-12zM1186 654h12v12h-12zM162 171h12v12h-12zM864 459h12v12h-12zM209 150h12v12h-12zM1091 251h12v12h-12zM245 462h12v12h-12zM742 679h12v12h-12zM1037 521h12v12h-12zM1081 150h12v12h-12zM177 757h12v12h-12zM333 631h12v12h-12zM59 116h12v12h-12zM618 563h12v12h-12zM954 247h12v12h-12zM719 172h12v12h-12zM632 243h12v12h-12zM200 501h12v12h-12zM1085 696h12v12h-12zM403 286h12v12h-12zM432 466h12v12h-12zM221 11h12v12h-12zM970 580h12v12h-12zM177 655h12v12h-12zM603 407h12v12h-12zM334 356h12v12h-12zM949 701h12v12h-12zM69 190h12v12h-12zM368 115h12v12h-12zM591 637h12v12h-12zM663 576h12v12h-12zM962 160h12v12h-12zM1044 565h12v12h-12zM164 255h12v12h-12zM421 184h12v12h-12zM1128 175h12v12h-12zM126 390h12v12h-12zM155 644h12v12h-12zM704 760h12v12h-12zM704 -10h12v12h-12zM366 438h12v12h-12zM38 212h12v12h-12zM789 357h12v12h-12zM1051 391h12v12h-12zM212 736h12v12h-12zM55 315h12v12h-12zM923 714h12v12h-12zM9 621h12v12h-12zM1139 263h12v12h-12zM3 634h12v12h-12zM284 483h12v12h-12zM321 77h12v12h-12zM236 161h12v12h-12zM1060 28h12v12h-12zM86 533h12v12h-12zM855 698h12v12h-12zM95 710h12v12h-12zM87 647h12v12h-12zM1052 700h12v12h-12zM107 173h12v12h-12zM955 390h12v12h-12zM1018 17h12v12h-12zM580 143h12v12h-12zM742 381h12v12h-12zM837 587h12v12h-12zM138 355h12v12h-12zM447 245h12v12h-12zM576 618h12v12h-12zM724 598h12v12h-12zM683 361h12v12h-12zM1017 415h12v12h-12zM30 250h12v12h-12zM10 553h12v12h-12zM837 761h12v12h-12zM837 -9h12v12h-12zM841 103h12v12h-12zM1145 410h12v12h-12zM326 314h12v12h-12zM1099 395h12v12h-12zM1170 194h12v12h-12zM675 368h12v12h-12zM1123 514h12v12h-12zM227 255h12v12h-12zM264 310h12v12h-12zM511 192h12v12h-12zM542 12h12v12h-12zM80 627h12v12h-12zM158 141h12v12h-12zM949 717h12v12h-12zM1104 689h12v12h-12zM987 736h12v12h-12zM567 203h12v12h-12zM989 482h12v12h-12zM985 249h12v12h-12zM97 459h12v12h-12zM596 738h12v12h-12zM933 73h12v12h-12zM433 382h12v12h-12zM860 155h12v12h-12zM314 231h12v12h-12zM3 37h12v12h-12zM211 164h12v12h-12zM264 747h12v12h-12zM1183 486h12v12h-12zM618 193h12v12h-12zM387 551h12v12h-12zM1113 115h12v12h-12zM121 236h12v12h-12zM645 25h12v12h-12zM1189 337h12v12h-12zM-11 337h12v12h-12zM187 630h12v12h-12zM1142 147h12v12h-12zM745 470h12v12h-12zM112 157h12v12h-12zM721 565h12v12h-12zM907 36h12v12h-12zM547 176h12v12h-12zM839 597h12v12h-12zM516 532h12v12h-12zM556 443h12v12h-12zM989 115h12v12h-12zM435 532h12v12h-12zM454 692h12v12h-12zM1091 574h12v12h-12zM939 96h12v12h-12zM963 654h12v12h-12zM505 230h12v12h-12zM655 726h12v12h-12zM367 644h12v12h-12zM464 0h12v12h-12zM34 195h12v12h-12zM147 365h12v12h-12zM866 686h12v12h-12zM63 466h12v12h-12zM1031 639h12v12h-12zM759 686h12v12h-12zM840 306h12v12h-12zM148 344h12v12h-12zM904 102h12v12h-12zM772 649h12v12h-12zM443 548h12v12h-12zM55 82h12v12h-12zM1090 43h12v12h-12zM717 251h12v12h-12zM769 491h12v12h-12zM867 538h12v12h-12zM847 484h12v12h-12zM509 2h12v12h-12zM299 355h12v12h-12zM1042 48h12v12h-12zM830 656h12v12h-12zM999 687h12v12h-12zM67 593h12v12h-12zM69 315h12v12h-12zM420 600h12v12h-12zM1135 286h12v12h-12zM1004 79h12v12h-12zM1195 411h12v12h-12zM-5 411h12v12h-12zM1085 134h12v12h-12zM16 288h12v12h-12zM3 148h12v12h-12zM268 753h12v12h-12zM700 50h12v12h-12zM1028 33h12v12h-12zM1146 226h12v12h-12zM369 666h12v12h-12zM694 553h12v12h-12zM370 184h12v12h-12zM579 578h12v12h-12zM1022 256h12v12h-12zM729 761h12v12h-12zM729 -9h12v12h-12zM1100 423h12v12h-12zM92 283h12v12h-12zM991 679h12v12h-12zM831 397h12v12h-12zM79 321h12v12h-12zM753 200h12v12h-12zM694 566h12v12h-12zM1157 281h12v12h-12zM384 501h12v12h-12zM13 85h12v12h-12zM858 541h12v12h-12zM959 591h12v12h-12zM1095 470h12v12h-12zM366 747h12v12h-12zM397 50h12v12h-12zM971 510h12v12h-12zM901 360h12v12h-12zM580 124h12v12h-12zM698 577h12v12h-12zM388 266h12v12h-12zM275 660h12v12h-12zM789 733h12v12h-12zM982 154h12v12h-12zM853 303h12v12h-12zM1042 267h12v12h-12zM587 508h12v12h-12zM1128 394h12v12h-12zM46 174h12v12h-12zM434 194h12v12h-12zM238 605h12v12h-12zM772 621h12v12h-12zM1081 625h12v12h-12zM184 390h12v12h-12zM6 590h12v12h-12zM468 436h12v12h-12zM24 439h12v12h-12zM910 336h12v12h-12zM1110 711h12v12h-12zM981 530h12v12h-12zM64 43h12v12h-12zM523 368h12v12h-12zM975 596h12v12h-12zM469 598h12v12h-12zM19 438h12v12h-12zM1047 354h12v12h-12zM51 598h12v12h-12zM1129 127h12v12h-12zM445 556h12v12h-12zM1180 474h12v12h-12zM80 564h12v12h-12zM457 454h12v12h-12zM189 617h12v12h-12zM734 337h12v12h-12zM865 416h12v12h-12zM255 737h12v12h-12zM282 483h12v12h-12zM415 490h12v12h-12zM282 5h12v12h-12zM631 300h12v12h-12zM825 444h12v12h-12zM88 516h12v12h-12zM557 254h12v12h-12zM461 704h12v12h-12zM964 295h12v12h-12zM371 538h12v12h-12zM595 46h12v12h-12zM954 8h12v12h-12zM325 574h12v12h-12zM774 87h12v12h-12zM47 695h12v12h-12zM1191 477h12v12h-12zM-9 477h12v12h-12zM366 174h12v12h-12zM412 73h12v12h-12zM125 711h12v12h-12zM330 345h12v12h-12zM45 35h12v12h-12zM625 573h12v12h-12zM980 176h12v12h-12zM1027 140h12v12h-12zM726 292h12v12h-12zM583 696h12v12h-12zM109 503h12v12h-12zM172 75h12v12h-12zM497 280h12v12h-12zM935 619h12v12h-12zM806 494h12v12h-12zM793 489h12v12h-12zM1068 280h12v12h-12zM1146 152h12v12h-12zM894 615h12v12h-12zM922 674h12v12h-12zM1129 353h12v12h-12zM767 70h12v12h-12zM86 233h12v12h-12zM776 227h12v12h-12zM387 420h12v12h-12zM1018 558h12v12h-12zM774 161h12v12h-12zM345 684h12v12h-12zM546 509h12v12h-12zM565 486h12v12h-12zM1165 514h12v12h-12zM218 191h12v12h-12zM884 645h12v12h-12zM646 670h12v12h-12zM53 187h12v12h-12zM498 446h12v12h-12zM396 288h12v12h-12zM224 380h12v12h-12zM704 207h12v12h-12zM963 189h12v12h-12zM684 597h12v12h-12zM549 255h12v12h-12zM710 51h12v12h-12zM923 46h12v12h-12zM804 388h12v12h-12zM675 335h12v12h-12zM52 24h12v12h-12zM955 105h12v12h-12zM326 709h12v12h-12zM512 664h12v12h-12zM119 136h12v12h-12zM7 438h12v12h-12zM389 413h12v12h-12zM210 124h12v12h-12zM258 207h12v12h-12zM1126 147h12v12h-12zM1119 116h12v12h-12zM867 654h12v12h-12zM614 554h12v12h-12zM155 591h12v12h-12zM739 619h12v12h-12zM251 194h12v12h-12zM721 576h12v12h-12zM660 546h12v12h-12zM83 770h12v12h-12zM83 0h12v12h-12zM94 414h12v12h-12zM402 764h12v12h-12zM402 -6h12v12h-12zM1104 762h12v12h-12zM1104 -8h12v12h-12zM748 50h12v12h-12zM935 415h12v12h-12zM932 535h12v12h-12zM1154 255h12v12h-12zM524 595h12v12h-12zM805 182h12v12h-12zM270 229h12v12h-12zM1058 464h12v12h-12zM417 194h12v12h-12zM960 561h12v12h-12zM351 5h12v12h-12zM384 61h12v12h-12zM112 515h12v12h-12zM824 562h12v12h-12zM213 502h12v12h-12zM724 284h12v12h-12zM1110 597h12v12h-12zM13 320h12v12h-12zM113 633h12v12h-12zM303 332h12v12h-12zM298 219h12v12h-12zM488 193h12v12h-12zM951 453h12v12h-12zM597 472h12v12h-12zM616 657h12v12h-12zM231 498h12v12h-12zM465 754h12v12h-12zM294 707h12v12h-12zM715 358h12v12h-12zM855 693h12v12h-12zM243 17h12v12h-12zM130 640h12v12h-12zM544 459h12v12h-12zM673 520h12v12h-12zM272 614h12v12h-12zM109 582h12v12h-12zM1156 270h12v12h-12zM675 64h12v12h-12zM108 104h12v12h-12zM1036 617h12v12h-12zM13 523h12v12h-12zM385 384h12v12h-12zM924 402h12v12h-12zM861 384h12v12h-12zM873 208h12v12h-12zM331 274h12v12h-12zM983 464h12v12h-12zM298 369h12v12h-12zM1080 442h12v12h-12zM705 568h12v12h-12zM347 673h12v12h-12zM310 82h12v12h-12zM994 691h12v12h-12zM1195 447h12v12h-12zM-5 447h12v12h-12zM855 686h12v12h-12zM725 256h12v12h-12zM730 470h12v12h-12zM741 396h12v12h-12zM1186 8h12v12h-12zM232 691h12v12h-12zM900 398h12v12h-12zM399 507h12v12h-12zM433 713h12v12h-12zM1183 177h12v12h-12zM618 766h12v12h-12zM618 -4h12v12h-12zM946 430h12v12h-12zM327 533h12v12h-12zM62 267h12v12h-12zM178 646h12v12h-12zM31 406h12v12h-12zM729 347h12v12h-12zM733 90h12v12h-12zM783 763h12v12h-12zM783 -7h12v12h-12zM576 154h12v12h-12zM497 696h12v12h-12zM1133 396h12v12h-12zM1026 61h12v12h-12zM1189 629h12v12h-12zM-11 629h12v12h-12zM336 200h12v12h-12zM243 337h12v12h-12zM1045 136h12v12h-12zM913 656h12v12h-12zM82 80h12v12h-12zM263 475h12v12h-12zM90 371h12v12h-12zM857 524h12v12h-12zM990 89h12v12h-12zM90 128h12v12h-12zM771 289h12v12h-12zM548 370h12v12h-12zM33 174h12v12h-12zM572 574h12v12h-12zM112 693h12v12h-12zM13 253h12v12h-12zM946 706h12v12h-12zM679 207h12v12h-12zM1170 448h12v12h-12zM202 197h12v12h-12zM248 420h12v12h-12zM182 53h12v12h-12zM112 569h12v12h-12zM1087 478h12v12h-12zM752 565h12v12h-12zM543 155h12v12h-12zM556 672h12v12h-12zM857 44h12v12h-12zM1075 655h12v12h-12zM338 376h12v12h-12zM961 113h12v12h-12zM399 247h12v12h-12zM1089 194h12v12h-12zM195 518h12v12h-12zM291 696h12v12h-12zM1146 474h12v12h-12zM236 54h12v12h-12zM847 168h12v12h-12zM367 757h12v12h-12zM569 260h12v12h-12zM182 709h12v12h-12zM136 105h12v12h-12zM516 122h12v12h-12zM966 196h12v12h-12zM309 56h12v12h-12zM292 487h12v12h-12zM653 320h12v12h-12zM331 243h12v12h-12zM1099 424h12v12h-12zM424 163h12v12h-12zM271 402h12v12h-12zM195 676h12v12h-12zM610 130h12v12h-12zM428 600h12v12h-12zM404 93h12v12h-12zM503 766h12v12h-12zM503 -4h12v12h-12zM365 82h12v12h-12zM109 503h12v12h-12zM98 557h12v12h-12zM789 701h12v12h-12zM317 623h12v12h-12zM914 107h12v12h-12zM214 661h12v12h-12zM665 557h12v12h-12zM156 11h12v12h-12zM95 135h12v12h-12zM1089 56h12v12h-12zM302 437h12v12h-12zM1145 272h12v12h-12zM675 34h12v12h-12zM678 663h12v12h-12zM10 207h12v12h-12zM811 161h12v12h-12zM787 276h12v12h-12zM356 302h12v12h-12zM1011 65h12v12h-12zM761 141h12v12h-12zM281 509h12v12h-12zM27 202h12v12h-12zM371 649h12v12h-12zM862 620h12v12h-12zM149 33h12v12h-12zM971 681h12v12h-12zM852 378h12v12h-12zM610 213h12v12h-12zM333 699h12v12h-12zM155 614h12v12h-12zM805 615h12v12h-12zM702 339h12v12h-12zM681 329h12v12h-12zM594 748h12v12h-12zM300 357h12v12h-12zM287 169h12v12h-12zM588 126h12v12h-12zM567 320h12v12h-12zM1035 621h12v12h-12zM1066 695h12v12h-12zM992 615h12v12h-12zM76 537h12v12h-12zM652 418h12v12h-12zM805 29h12v12h-12zM945 105h12v12h-12zM1039 498h12v12h-12zM285 666h12v12h-12zM164 330h12v12h-12zM655 703h12v12h-12zM13 33h12v12h-12zM1188 451h12v12h-12zM785 289h12v12h-12zM769 135h12v12h-12zM1092 711h12v12h-12zM581 185h12v12h-12zM239 732h12v12h-12zM33 722h12v12h-12zM128 63h12v12h-12zM858 281h12v12h-12zM151 4h12v12h-12zM1097 642h12v12h-12zM658 233h12v12h-12zM51 768h12v12h-12zM51 -2h12v12h-12zM715 146h12v12h-12zM690 56h12v12h-12zM980 526h12v12h-12zM412 70h12v12h-12zM183 476h12v12h-12zM285 249h12v12h-12zM243 171h12v12h-12zM773 696h12v12h-12zM55 183h12v12h-12zM459 615h12v12h-12zM747 152h12v12h-12zM34 190h12v12h-12zM385 100h12v12h-12zM1124 422h12v12h-12zM257 284h12v12h-12zM405 12h12v12h-12zM1083 14h12v12h-12zM1135 697h12v12h-12zM1146 321h12v12h-12zM957 690h12v12h-12zM45 485h12v12h-12zM996 179h12v12h-12zM595 58h12v12h-12zM158 195h12v12h-12zM236 587h12v12h-12zM552 634h12v12h-12zM454 594h12v12h-12zM178 573h12v12h-12zM204 267h12v12h-12zM886 495h12v12h-12zM112 69h12v12h-12zM299 162h12v12h-12zM909 352h12v12h-12zM503 579h12v12h-12zM338 345h12v12h-12zM183 397h12v12h-12zM1100 104h12v12h-12zM690 589h12v12h-12zM21 441h12v12h-12zM396 617h12v12h-12zM697 39h12v12h-12zM432 581h12v12h-12zM289 112h12v12h-12zM520 99h12v12h-12zM603 694h12v12h-12zM136 577h12v12h-12zM332 456h12v12h-12zM696 26h12v12h-12zM424 360h12v12h-12zM274 363h12v12h-12zM1045 609h12v12h-12zM331 282h12v12h-12zM575 532h12v12h-12zM567 633h12v12h-12zM406 184h12v12h-12zM137 654h12v12h-12zM1147 306h12v12h-12zM37 613h12v12h-12zM728 356h12v12h-12zM208 83h12v12h-12zM631 349h12v12h-12zM1034 52h12v12h-12zM1026 740h12v12h-12zM252 560h12v12h-12zM621 489h12v12h-12zM34 401h12v12h-12zM755 748h12v12h-12zM803 13h12v12h-12zM59 369h12v12h-12zM788 748h12v12h-12zM363 360h12v12h-12zM856 201h12v12h-12zM1070 176h12v12h-12zM1126 761h12v12h-12zM1126 -9h12v12h-12zM844 311h12v12h-12zM255 360h12v12h-12zM361 318h12v12h-12zM180 328h12v12h-12zM1029 697h12v12h-12zM159 715h12v12h-12zM426 102h12v12h-12zM131 607h12v12h-12zM743 753h12v12h-12zM365 386h12v12h-12zM242 348h12v12h-12zM129 320h12v12h-12zM803 505h12v12h-12zM585 203h12v12h-12zM695 150h12v12h-12zM20 456h12v12h-12zM182 659h12v12h-12zM47 137h12v12h-12zM746 696h12v12h-12zM1057 327h12v12h-12zM842 249h12v12h-12zM640 124h12v12h-12zM181 559h12v12h-12zM852 504h12v12h-12zM318 194h12v12h-12zM790 414h12v12h-12zM190 726h12v12h-12zM540 629h12v12h-12zM305 345h12v12h-12zM227 1h12v12h-12zM287 47h12v12h-12zM611 682h12v12h-12zM494 609h12v12h-12zM1148 732h12v12h-12zM137 518h12v12h-12zM1043 606h12v12h-12zM1028 8h12v12h-12zM393 701h12v12h-12zM407 300h12v12h-12zM460 721h12v12h-12zM575 592h12v12h-12zM494 667h12v12h-12zM669 86h12v12h-12zM337 212h12v12h-12zM262 101h12v12h-12zM698 652h12v12h-12zM894 392h12v12h-12zM629 590h12v12h-12zM231 14h12v12h-12zM1033 651h12v12h-12zM453 217h12v12h-12zM815 388h12v12h-12zM1089 36h12v12h-12zM994 17h12v12h-12zM1030 672h12v12h-12zM1137 488h12v12h-12zM495 148h12v12h-12zM73 527h12v12h-12zM446 739h12v12h-12zM350 431h12v12h-12zM283 171h12v12h-12zM757 731h12v12h-12zM768 228h12v12h-12zM776 730h12v12h-12zM703 586h12v12h-12zM193 403h12v12h-12zM105 605h12v12h-12zM585 115h12v12h-12zM741 23h12v12h-12zM819 664h12v12h-12zM1135 306h12v12h-12zM869 40h12v12h-12zM1027 408h12v12h-12zM798 522h12v12h-12zM610 278h12v12h-12zM1081 470h12v12h-12zM914 26h12v12h-12zM1059 367h12v12h-12zM1097 407h12v12h-12zM523 54h12v12h-12zM536 354h12v12h-12zM946 56h12v12h-12zM141 470h12v12h-12z" fill="#1d6fe0"/></pattern><pattern id="pate" width="120" height="77" patternUnits="userSpaceOnUse"><path transform="scale(0.1)" d="M766 672h12v12h-12zM1190 508h12v12h-12zM-10 508h12v12h-12zM116 394h12v12h-12zM608 115h12v12h-12zM476 206h12v12h-12zM247 151h12v12h-12zM1060 670h12v12h-12zM649 76h12v12h-12zM735 113h12v12h-12zM342 354h12v12h-12zM667 208h12v12h-12zM880 22h12v12h-12zM239 304h12v12h-12zM318 27h12v12h-12zM391 606h12v12h-12zM617 656h12v12h-12zM547 324h12v12h-12zM593 306h12v12h-12zM722 630h12v12h-12zM944 8h12v12h-12zM882 209h12v12h-12zM727 617h12v12h-12zM962 742h12v12h-12zM456 127h12v12h-12zM422 116h12v12h-12zM263 635h12v12h-12zM869 279h12v12h-12zM452 416h12v12h-12zM452 586h12v12h-12zM767 140h12v12h-12zM418 759h12v12h-12zM418 -11h12v12h-12zM813 596h12v12h-12zM735 40h12v12h-12zM608 754h12v12h-12zM770 471h12v12h-12zM760 219h12v12h-12zM406 592h12v12h-12zM790 348h12v12h-12zM267 577h12v12h-12zM313 148h12v12h-12zM668 373h12v12h-12zM200 554h12v12h-12zM712 236h12v12h-12zM1031 280h12v12h-12zM1025 223h12v12h-12zM383 511h12v12h-12zM187 674h12v12h-12zM324 554h12v12h-12zM819 685h12v12h-12zM676 718h12v12h-12zM654 314h12v12h-12zM961 358h12v12h-12zM38 326h12v12h-12zM1064 128h12v12h-12zM586 322h12v12h-12zM510 454h12v12h-12zM870 533h12v12h-12zM306 71h12v12h-12zM1104 48h12v12h-12zM733 171h12v12h-12zM992 282h12v12h-12zM105 50h12v12h-12zM172 295h12v12h-12zM1086 446h12v12h-12zM114 723h12v12h-12zM884 584h12v12h-12zM14 717h12v12h-12zM310 190h12v12h-12zM329 617h12v12h-12zM1011 640h12v12h-12zM375 80h12v12h-12zM259 669h12v12h-12zM25 624h12v12h-12zM350 347h12v12h-12zM1042 513h12v12h-12zM648 40h12v12h-12zM39 342h12v12h-12zM104 14h12v12h-12zM316 402h12v12h-12zM925 480h12v12h-12zM236 285h12v12h-12zM18 108h12v12h-12zM1190 363h12v12h-12zM-10 363h12v12h-12zM1145 2h12v12h-12zM747 263h12v12h-12zM251 205h12v12h-12zM703 634h12v12h-12zM282 742h12v12h-12zM788 13h12v12h-12zM45 215h12v12h-12zM882 475h12v12h-12zM1071 203h12v12h-12zM965 399h12v12h-12zM293 663h12v12h-12zM102 551h12v12h-12zM1162 542h12v12h-12zM550 320h12v12h-12zM894 476h12v12h-12zM1134 338h12v12h-12zM311 393h12v12h-12zM1193 390h12v12h-12zM-7 390h12v12h-12zM413 519h12v12h-12zM750 454h12v12h-12zM941 541h12v12h-12zM657 472h12v12h-12zM817 54h12v12h-12zM1079 158h12v12h-12zM1105 769h12v12h-12zM1105 -1h12v12h-12zM485 212h12v12h-12zM26 98h12v12h-12zM538 264h12v12h-12zM1046 312h12v12h-12zM29 259h12v12h-12zM897 418h12v12h-12zM349 182h12v12h-12zM888 48h12v12h-12zM545 172h12v12h-12zM916 250h12v12h-12zM784 50h12v12h-12zM161 70h12v12h-12zM215 491h12v12h-12zM616 73h12v12h-12zM938 88h12v12h-12zM821 253h12v12h-12zM779 398h12v12h-12zM512 144h12v12h-12zM1172 88h12v12h-12zM1150 358h12v12h-12zM262 419h12v12h-12zM416 297h12v12h-12zM660 483h12v12h-12zM35 501h12v12h-12zM734 739h12v12h-12zM502 580h12v12h-12zM709 138h12v12h-12zM237 325h12v12h-12zM1192 698h12v12h-12zM-8 698h12v12h-12zM131 625h12v12h-12zM1061 332h12v12h-12zM366 370h12v12h-12zM1091 40h12v12h-12zM1121 419h12v12h-12zM443 361h12v12h-12zM541 153h12v12h-12zM987 439h12v12h-12zM483 333h12v12h-12zM288 637h12v12h-12zM224 6h12v12h-12zM108 369h12v12h-12zM13 610h12v12h-12zM719 277h12v12h-12zM1185 442h12v12h-12zM796 561h12v12h-12zM59 447h12v12h-12zM940 217h12v12h-12zM344 218h12v12h-12zM483 347h12v12h-12zM817 521h12v12h-12zM310 71h12v12h-12zM493 403h12v12h-12zM887 175h12v12h-12zM457 336h12v12h-12zM98 77h12v12h-12zM1048 764h12v12h-12zM1048 -6h12v12h-12zM684 624h12v12h-12zM745 636h12v12h-12zM723 107h12v12h-12zM33 638h12v12h-12zM298 239h12v12h-12zM250 291h12v12h-12zM128 325h12v12h-12zM214 329h12v12h-12zM860 9h12v12h-12zM563 661h12v12h-12zM753 338h12v12h-12zM324 136h12v12h-12zM1115 237h12v12h-12zM216 678h12v12h-12zM881 166h12v12h-12zM941 270h12v12h-12zM797 156h12v12h-12zM294 60h12v12h-12zM602 148h12v12h-12zM16 302h12v12h-12zM1189 149h12v12h-12zM-11 149h12v12h-12zM325 682h12v12h-12zM47 344h12v12h-12zM489 607h12v12h-12zM699 555h12v12h-12zM631 612h12v12h-12zM788 447h12v12h-12zM458 504h12v12h-12zM832 97h12v12h-12zM902 438h12v12h-12zM1132 480h12v12h-12zM100 569h12v12h-12zM1000 151h12v12h-12zM578 290h12v12h-12zM122 637h12v12h-12zM1036 542h12v12h-12zM1104 99h12v12h-12zM151 442h12v12h-12zM215 102h12v12h-12zM1167 449h12v12h-12zM1055 738h12v12h-12zM927 355h12v12h-12zM610 300h12v12h-12zM445 267h12v12h-12zM722 518h12v12h-12zM818 370h12v12h-12zM643 116h12v12h-12zM1181 67h12v12h-12zM620 769h12v12h-12zM620 -1h12v12h-12zM536 8h12v12h-12zM223 166h12v12h-12zM1099 27h12v12h-12zM582 135h12v12h-12zM701 188h12v12h-12zM1167 142h12v12h-12zM1034 84h12v12h-12zM24 540h12v12h-12zM100 266h12v12h-12zM697 32h12v12h-12zM328 229h12v12h-12zM514 2h12v12h-12zM34 370h12v12h-12zM947 598h12v12h-12zM977 482h12v12h-12zM414 6h12v12h-12zM815 740h12v12h-12zM1 140h12v12h-12zM436 255h12v12h-12zM300 155h12v12h-12zM259 203h12v12h-12zM471 4h12v12h-12zM47 675h12v12h-12zM956 277h12v12h-12zM363 697h12v12h-12zM535 429h12v12h-12zM318 90h12v12h-12zM466 663h12v12h-12zM1003 59h12v12h-12zM1008 46h12v12h-12zM956 357h12v12h-12zM1093 238h12v12h-12zM228 270h12v12h-12zM1188 516h12v12h-12zM988 56h12v12h-12zM148 685h12v12h-12zM917 278h12v12h-12zM577 340h12v12h-12zM633 546h12v12h-12zM14 84h12v12h-12zM777 547h12v12h-12zM38 97h12v12h-12zM805 280h12v12h-12zM622 48h12v12h-12zM429 104h12v12h-12zM843 599h12v12h-12zM891 365h12v12h-12zM654 284h12v12h-12zM673 552h12v12h-12zM850 333h12v12h-12zM1114 292h12v12h-12zM771 217h12v12h-12zM283 559h12v12h-12zM274 272h12v12h-12zM1130 247h12v12h-12zM952 402h12v12h-12zM352 317h12v12h-12zM833 391h12v12h-12zM936 72h12v12h-12zM1001 260h12v12h-12zM878 169h12v12h-12zM308 304h12v12h-12zM1041 202h12v12h-12zM817 103h12v12h-12zM1041 690h12v12h-12zM284 64h12v12h-12zM991 606h12v12h-12zM854 542h12v12h-12zM359 449h12v12h-12zM909 223h12v12h-12zM142 128h12v12h-12zM79 117h12v12h-12zM962 498h12v12h-12zM12 649h12v12h-12zM311 596h12v12h-12zM50 218h12v12h-12zM1013 306h12v12h-12zM336 61h12v12h-12zM868 161h12v12h-12zM922 630h12v12h-12zM920 38h12v12h-12zM241 208h12v12h-12zM6 466h12v12h-12zM497 766h12v12h-12zM497 -4h12v12h-12zM448 400h12v12h-12zM255 374h12v12h-12zM1024 143h12v12h-12zM924 409h12v12h-12zM831 572h12v12h-12zM818 548h12v12h-12zM765 120h12v12h-12zM238 211h12v12h-12zM257 705h12v12h-12zM529 723h12v12h-12zM521 91h12v12h-12zM400 448h12v12h-12zM43 440h12v12h-12zM469 97h12v12h-12zM1151 435h12v12h-12zM84 222h12v12h-12zM2 622h12v12h-12zM145 697h12v12h-12zM218 754h12v12h-12zM814 150h12v12h-12zM518 571h12v12h-12zM1069 714h12v12h-12zM284 734h12v12h-12zM63 542h12v12h-12zM1187 660h12v12h-12zM668 120h12v12h-12zM782 354h12v12h-12zM1001 659h12v12h-12zM844 278h12v12h-12zM523 581h12v12h-12zM459 594h12v12h-12zM441 94h12v12h-12zM349 33h12v12h-12zM1186 256h12v12h-12zM1090 544h12v12h-12zM579 331h12v12h-12zM273 176h12v12h-12zM585 236h12v12h-12zM931 546h12v12h-12zM295 113h12v12h-12zM265 44h12v12h-12zM466 664h12v12h-12zM511 761h12v12h-12zM511 -9h12v12h-12z" fill="#1d6fe0"/></pattern><pattern id="patblob" width="80" height="77" patternUnits="userSpaceOnUse"><rect width="80" height="77" fill="#1d6fe0"/><path d="M8 22h1v1h-1zM51 55h1v1h-1zM72 41h1v1h-1zM38 52h1v1h-1zM65 48h1v1h-1zM40 30h1v1h-1zM22 52h1v1h-1zM58 31h1v1h-1zM43 20h1v1h-1zM39 5h1v1h-1zM33 46h1v1h-1zM6 29h1v1h-1zM2 36h1v1h-1zM33 55h1v1h-1zM13 6h1v1h-1zM79 36h1v1h-1zM79 6h1v1h-1zM13 47h1v1h-1zM33 14h1v1h-1zM65 69h1v1h-1zM25 38h1v1h-1zM18 27h1v1h-1zM28 63h1v1h-1zM17 34h1v1h-1zM59 72h1v1h-1zM3 0h1v1h-1zM55 47h1v1h-1zM8 43h1v1h-1zM70 13h1v1h-1zM57 59h1v1h-1zM9 75h1v1h-1zM78 57h1v1h-1zM32 30h1v1h-1zM22 19h1v1h-1zM49 43h1v1h-1zM25 44h1v1h-1zM44 56h1v1h-1zM8 67h1v1h-1zM0 14h1v1h-1zM73 65h1v1h-1zM21 30h1v1h-1zM23 26h1v1h-1zM21 6h1v1h-1zM74 14h1v1h-1zM61 25h1v1h-1zM41 38h1v1h-1zM34 11h1v1h-1zM19 13h1v1h-1zM53 55h1v1h-1zM57 25h1v1h-1zM78 8h1v1h-1zM70 28h1v1h-1zM48 66h1v1h-1zM70 57h1v1h-1zM30 32h1v1h-1zM8 22h1v1h-1zM36 32h1v1h-1zM23 42h1v1h-1zM8 66h1v1h-1zM46 61h1v1h-1zM78 36h1v1h-1zM10 25h1v1h-1zM44 57h1v1h-1zM36 3h1v1h-1zM66 37h1v1h-1zM11 53h1v1h-1zM29 53h1v1h-1zM4 30h1v1h-1zM22 27h1v1h-1zM27 41h1v1h-1zM3 76h1v1h-1zM47 71h1v1h-1zM21 29h1v1h-1zM79 1h1v1h-1zM61 46h1v1h-1zM34 53h1v1h-1zM69 35h1v1h-1zM14 48h1v1h-1zM69 3h1v1h-1zM10 72h1v1h-1zM14 58h1v1h-1zM52 31h1v1h-1zM42 72h1v1h-1zM14 64h1v1h-1zM75 74h1v1h-1zM22 32h1v1h-1zM6 59h1v1h-1zM37 64h1v1h-1zM35 40h1v1h-1zM35 28h1v1h-1zM60 14h1v1h-1zM27 50h1v1h-1zM34 33h1v1h-1zM19 8h1v1h-1zM58 14h1v1h-1zM53 55h1v1h-1zM24 49h1v1h-1zM40 43h1v1h-1zM45 60h1v1h-1zM19 48h1v1h-1zM66 61h1v1h-1zM38 55h1v1h-1zM9 23h1v1h-1zM31 30h1v1h-1zM60 42h1v1h-1zM18 42h1v1h-1zM55 31h1v1h-1zM71 40h1v1h-1zM51 73h1v1h-1zM14 0h1v1h-1zM19 29h1v1h-1zM69 22h1v1h-1zM36 44h1v1h-1zM38 68h1v1h-1zM1 53h1v1h-1zM44 35h1v1h-1zM50 46h1v1h-1zM78 38h1v1h-1zM23 2h1v1h-1zM69 1h1v1h-1zM53 39h1v1h-1zM51 43h1v1h-1zM57 49h1v1h-1zM16 75h1v1h-1zM27 9h1v1h-1zM32 38h1v1h-1zM75 12h1v1h-1zM34 30h1v1h-1zM38 49h1v1h-1zM11 39h1v1h-1zM63 45h1v1h-1zM14 21h1v1h-1zM75 70h1v1h-1zM74 10h1v1h-1zM8 16h1v1h-1zM58 63h1v1h-1zM8 12h1v1h-1zM18 8h1v1h-1zM68 1h1v1h-1zM59 62h1v1h-1zM61 19h1v1h-1zM20 31h1v1h-1zM59 67h1v1h-1zM16 5h1v1h-1zM43 30h1v1h-1zM16 11h1v1h-1zM46 62h1v1h-1zM1 4h1v1h-1zM78 67h1v1h-1zM42 69h1v1h-1zM14 20h1v1h-1zM74 31h1v1h-1zM46 49h1v1h-1zM69 22h1v1h-1zM51 53h1v1h-1zM44 52h1v1h-1zM14 32h1v1h-1zM74 51h1v1h-1zM55 37h1v1h-1zM30 36h1v1h-1zM66 73h1v1h-1zM35 20h1v1h-1zM69 74h1v1h-1zM69 69h1v1h-1zM40 55h1v1h-1zM40 1h1v1h-1zM75 10h1v1h-1zM65 45h1v1h-1zM41 46h1v1h-1zM14 14h1v1h-1zM20 43h1v1h-1zM18 54h1v1h-1zM79 27h1v1h-1zM41 63h1v1h-1zM54 75h1v1h-1zM9 21h1v1h-1zM39 72h1v1h-1zM51 6h1v1h-1zM8 24h1v1h-1zM67 9h1v1h-1zM68 76h1v1h-1zM63 15h1v1h-1zM39 70h1v1h-1zM16 65h1v1h-1zM39 66h1v1h-1zM51 73h1v1h-1zM8 8h1v1h-1zM71 22h1v1h-1zM12 21h1v1h-1zM66 72h1v1h-1zM73 37h1v1h-1zM48 44h1v1h-1zM7 52h1v1h-1zM11 37h1v1h-1zM78 2h1v1h-1zM23 19h1v1h-1zM50 71h1v1h-1zM14 1h1v1h-1zM76 28h1v1h-1zM49 71h1v1h-1zM70 27h1v1h-1zM8 42h1v1h-1zM70 52h1v1h-1zM48 43h1v1h-1zM67 60h1v1h-1zM13 44h1v1h-1zM23 20h1v1h-1zM52 36h1v1h-1zM6 12h1v1h-1zM43 51h1v1h-1zM69 0h1v1h-1zM11 48h1v1h-1zM16 16h1v1h-1zM75 18h1v1h-1zM35 60h1v1h-1zM8 26h1v1h-1zM40 71h1v1h-1zM62 65h1v1h-1zM72 21h1v1h-1zM46 14h1v1h-1zM54 57h1v1h-1zM65 16h1v1h-1zM61 64h1v1h-1zM0 19h1v1h-1zM63 71h1v1h-1zM16 38h1v1h-1zM50 75h1v1h-1zM52 41h1v1h-1zM21 67h1v1h-1zM44 30h1v1h-1zM1 51h1v1h-1zM64 52h1v1h-1zM17 72h1v1h-1zM69 44h1v1h-1zM8 66h1v1h-1zM15 47h1v1h-1zM37 23h1v1h-1zM75 21h1v1h-1zM30 37h1v1h-1zM25 23h1v1h-1zM70 67h1v1h-1zM53 8h1v1h-1zM5 55h1v1h-1zM14 52h1v1h-1zM14 73h1v1h-1zM0 56h1v1h-1zM17 67h1v1h-1zM8 35h1v1h-1zM41 40h1v1h-1zM20 58h1v1h-1zM10 50h1v1h-1zM52 76h1v1h-1zM61 35h1v1h-1zM45 40h1v1h-1zM68 8h1v1h-1zM26 74h1v1h-1zM32 36h1v1h-1zM38 9h1v1h-1zM11 2h1v1h-1zM8 52h1v1h-1zM49 69h1v1h-1zM55 49h1v1h-1zM79 11h1v1h-1zM36 44h1v1h-1zM2 9h1v1h-1zM41 68h1v1h-1zM2 4h1v1h-1zM21 49h1v1h-1zM24 37h1v1h-1zM68 47h1v1h-1zM13 70h1v1h-1zM9 64h1v1h-1zM9 57h1v1h-1zM34 6h1v1h-1zM35 29h1v1h-1zM61 33h1v1h-1zM23 69h1v1h-1zM73 60h1v1h-1zM68 35h1v1h-1zM4 49h1v1h-1zM10 41h1v1h-1zM75 53h1v1h-1zM58 27h1v1h-1zM41 72h1v1h-1zM58 33h1v1h-1zM43 30h1v1h-1zM37 73h1v1h-1zM74 21h1v1h-1zM75 22h1v1h-1zM74 18h1v1h-1zM2 59h1v1h-1zM46 46h1v1h-1zM6 8h1v1h-1zM67 21h1v1h-1zM24 61h1v1h-1zM30 2h1v1h-1zM4 56h1v1h-1zM13 3h1v1h-1zM56 53h1v1h-1zM42 18h1v1h-1zM75 8h1v1h-1zM1 59h1v1h-1zM44 46h1v1h-1zM77 17h1v1h-1zM51 30h1v1h-1zM61 44h1v1h-1zM22 64h1v1h-1zM1 33h1v1h-1zM78 24h1v1h-1zM76 57h1v1h-1zM73 20h1v1h-1zM67 41h1v1h-1zM29 25h1v1h-1zM27 3h1v1h-1zM79 61h1v1h-1zM70 49h1v1h-1zM30 12h1v1h-1zM24 9h1v1h-1zM5 44h1v1h-1zM43 4h1v1h-1zM12 12h1v1h-1zM48 8h1v1h-1zM57 72h1v1h-1zM44 26h1v1h-1zM71 76h1v1h-1zM43 3h1v1h-1zM63 15h1v1h-1zM70 42h1v1h-1zM72 46h1v1h-1zM2 2h1v1h-1zM39 6h1v1h-1zM74 58h1v1h-1zM68 29h1v1h-1zM18 16h1v1h-1zM4 37h1v1h-1zM31 13h1v1h-1zM75 48h1v1h-1zM70 48h1v1h-1zM41 71h1v1h-1zM37 59h1v1h-1zM43 50h1v1h-1zM78 34h1v1h-1zM40 37h1v1h-1zM13 20h1v1h-1zM17 3h1v1h-1zM78 31h1v1h-1zM42 41h1v1h-1zM55 56h1v1h-1zM78 22h1v1h-1zM10 8h1v1h-1zM61 14h1v1h-1zM67 5h1v1h-1zM46 1h1v1h-1zM15 17h1v1h-1zM20 8h1v1h-1zM30 38h1v1h-1zM78 67h1v1h-1zM39 54h1v1h-1zM44 17h1v1h-1zM77 38h1v1h-1zM73 71h1v1h-1zM79 30h1v1h-1zM79 55h1v1h-1zM30 71h1v1h-1zM41 16h1v1h-1zM61 39h1v1h-1zM33 70h1v1h-1zM23 17h1v1h-1zM23 27h1v1h-1zM19 19h1v1h-1zM55 65h1v1h-1zM53 33h1v1h-1zM8 57h1v1h-1zM15 56h1v1h-1zM47 62h1v1h-1zM9 26h1v1h-1zM60 26h1v1h-1zM8 24h1v1h-1zM29 59h1v1h-1zM76 75h1v1h-1zM18 19h1v1h-1zM54 73h1v1h-1zM61 13h1v1h-1zM31 11h1v1h-1zM53 56h1v1h-1zM29 12h1v1h-1zM64 1h1v1h-1zM27 43h1v1h-1zM55 32h1v1h-1zM69 55h1v1h-1zM71 39h1v1h-1zM1 14h1v1h-1zM38 2h1v1h-1zM48 66h1v1h-1zM61 54h1v1h-1zM50 8h1v1h-1zM50 27h1v1h-1zM66 55h1v1h-1zM17 44h1v1h-1zM7 70h1v1h-1zM35 59h1v1h-1zM75 60h1v1h-1zM15 13h1v1h-1zM28 36h1v1h-1zM47 30h1v1h-1zM38 41h1v1h-1zM22 26h1v1h-1zM42 75h1v1h-1zM72 15h1v1h-1zM51 42h1v1h-1zM32 18h1v1h-1zM78 65h1v1h-1zM72 46h1v1h-1zM59 15h1v1h-1zM26 70h1v1h-1zM42 38h1v1h-1zM29 26h1v1h-1zM42 67h1v1h-1zM58 69h1v1h-1zM62 75h1v1h-1zM11 63h1v1h-1zM58 50h1v1h-1zM53 6h1v1h-1zM48 18h1v1h-1zM36 8h1v1h-1zM8 3h1v1h-1zM57 26h1v1h-1zM67 31h1v1h-1zM52 10h1v1h-1zM35 60h1v1h-1zM36 13h1v1h-1zM66 58h1v1h-1zM38 39h1v1h-1zM75 52h1v1h-1zM20 9h1v1h-1zM62 65h1v1h-1zM18 60h1v1h-1zM34 36h1v1h-1zM37 31h1v1h-1zM63 5h1v1h-1zM44 41h1v1h-1zM54 29h1v1h-1zM39 61h1v1h-1zM56 38h1v1h-1zM12 68h1v1h-1zM20 29h1v1h-1zM71 42h1v1h-1zM44 65h1v1h-1zM79 49h1v1h-1zM34 58h1v1h-1zM52 56h1v1h-1zM3 24h1v1h-1zM48 62h1v1h-1zM3 52h1v1h-1zM18 28h1v1h-1zM76 68h1v1h-1zM16 17h1v1h-1zM20 22h1v1h-1zM7 6h1v1h-1zM1 25h1v1h-1zM73 15h1v1h-1zM17 66h1v1h-1zM23 43h1v1h-1zM36 66h1v1h-1zM79 75h1v1h-1zM71 60h1v1h-1zM75 45h1v1h-1zM35 54h1v1h-1zM48 73h1v1h-1zM41 12h1v1h-1zM26 23h1v1h-1zM69 31h1v1h-1zM62 2h1v1h-1zM43 54h1v1h-1zM13 37h1v1h-1zM43 53h1v1h-1zM10 21h1v1h-1zM43 48h1v1h-1zM55 39h1v1h-1zM60 34h1v1h-1zM73 32h1v1h-1zM70 59h1v1h-1zM71 61h1v1h-1zM69 32h1v1h-1zM39 34h1v1h-1zM5 21h1v1h-1zM7 13h1v1h-1zM67 10h1v1h-1zM55 29h1v1h-1zM6 49h1v1h-1zM0 37h1v1h-1zM18 16h1v1h-1zM39 19h1v1h-1zM48 31h1v1h-1zM33 20h1v1h-1zM14 73h1v1h-1zM53 6h1v1h-1zM62 59h1v1h-1zM58 74h1v1h-1zM26 7h1v1h-1zM47 21h1v1h-1zM21 42h1v1h-1zM54 30h1v1h-1zM39 48h1v1h-1zM53 76h1v1h-1zM43 72h1v1h-1zM3 27h1v1h-1zM48 33h1v1h-1zM79 64h1v1h-1zM76 55h1v1h-1zM19 6h1v1h-1zM55 42h1v1h-1zM16 74h1v1h-1zM21 76h1v1h-1zM19 68h1v1h-1zM72 11h1v1h-1zM66 27h1v1h-1zM70 74h1v1h-1zM68 40h1v1h-1zM24 59h1v1h-1zM43 61h1v1h-1zM7 72h1v1h-1zM23 54h1v1h-1zM41 75h1v1h-1zM77 41h1v1h-1zM62 4h1v1h-1zM4 55h1v1h-1zM18 53h1v1h-1zM28 58h1v1h-1zM37 50h1v1h-1zM3 31h1v1h-1zM1 45h1v1h-1zM74 22h1v1h-1zM43 13h1v1h-1zM29 46h1v1h-1zM38 43h1v1h-1zM41 60h1v1h-1zM5 7h1v1h-1zM5 45h1v1h-1zM49 32h1v1h-1zM12 19h1v1h-1zM56 59h1v1h-1zM66 19h1v1h-1zM74 45h1v1h-1zM13 39h1v1h-1zM36 30h1v1h-1zM44 52h1v1h-1zM9 11h1v1h-1zM19 53h1v1h-1zM14 19h1v1h-1zM19 62h1v1h-1zM5 51h1v1h-1zM74 12h1v1h-1zM55 59h1v1h-1zM30 20h1v1h-1zM75 64h1v1h-1zM37 65h1v1h-1zM15 4h1v1h-1zM31 22h1v1h-1zM19 61h1v1h-1zM30 9h1v1h-1zM56 61h1v1h-1zM30 4h1v1h-1zM36 50h1v1h-1zM71 48h1v1h-1zM26 67h1v1h-1zM18 13h1v1h-1zM20 59h1v1h-1zM34 31h1v1h-1zM7 28h1v1h-1zM68 23h1v1h-1zM18 12h1v1h-1zM9 1h1v1h-1zM43 74h1v1h-1zM60 61h1v1h-1zM62 7h1v1h-1zM60 28h1v1h-1zM42 12h1v1h-1zM50 51h1v1h-1zM6 38h1v1h-1zM47 12h1v1h-1zM2 27h1v1h-1zM17 11h1v1h-1zM29 69h1v1h-1zM21 47h1v1h-1zM4 30h1v1h-1zM59 14h1v1h-1zM71 68h1v1h-1zM64 17h1v1h-1zM71 54h1v1h-1zM74 69h1v1h-1zM9 61h1v1h-1zM5 63h1v1h-1zM53 29h1v1h-1zM13 12h1v1h-1zM0 42h1v1h-1zM60 16h1v1h-1zM34 76h1v1h-1zM48 55h1v1h-1zM5 14h1v1h-1zM48 72h1v1h-1zM26 72h1v1h-1zM79 70h1v1h-1zM7 14h1v1h-1zM3 71h1v1h-1zM20 19h1v1h-1zM32 52h1v1h-1zM26 72h1v1h-1zM45 1h1v1h-1zM24 64h1v1h-1zM28 51h1v1h-1zM47 14h1v1h-1zM12 39h1v1h-1zM77 27h1v1h-1zM18 60h1v1h-1zM20 48h1v1h-1zM42 11h1v1h-1zM50 12h1v1h-1zM64 17h1v1h-1zM6 72h1v1h-1zM69 67h1v1h-1zM67 63h1v1h-1zM50 64h1v1h-1zM62 4h1v1h-1zM21 74h1v1h-1zM45 21h1v1h-1zM36 38h1v1h-1zM61 49h1v1h-1zM30 31h1v1h-1zM19 63h1v1h-1zM67 1h1v1h-1zM28 3h1v1h-1zM34 52h1v1h-1zM63 11h1v1h-1zM43 74h1v1h-1zM64 8h1v1h-1zM21 4h1v1h-1zM10 17h1v1h-1zM65 11h1v1h-1zM70 38h1v1h-1zM60 46h1v1h-1zM6 49h1v1h-1zM44 6h1v1h-1zM26 50h1v1h-1zM5 0h1v1h-1zM22 1h1v1h-1zM62 27h1v1h-1zM27 50h1v1h-1zM29 12h1v1h-1zM27 40h1v1h-1zM66 13h1v1h-1zM4 74h1v1h-1zM22 60h1v1h-1zM12 66h1v1h-1zM32 16h1v1h-1zM68 23h1v1h-1zM67 68h1v1h-1zM33 11h1v1h-1zM42 68h1v1h-1zM22 33h1v1h-1zM61 11h1v1h-1zM21 73h1v1h-1zM15 63h1v1h-1zM52 63h1v1h-1zM16 4h1v1h-1zM68 15h1v1h-1zM15 35h1v1h-1zM62 66h1v1h-1zM15 26h1v1h-1zM61 17h1v1h-1zM63 9h1v1h-1zM60 27h1v1h-1zM56 37h1v1h-1zM47 71h1v1h-1zM70 0h1v1h-1zM5 64h1v1h-1zM20 71h1v1h-1zM75 32h1v1h-1zM38 68h1v1h-1zM15 62h1v1h-1zM55 55h1v1h-1zM63 9h1v1h-1zM27 18h1v1h-1zM4 24h1v1h-1zM76 14h1v1h-1zM53 47h1v1h-1zM22 11h1v1h-1zM63 52h1v1h-1zM38 50h1v1h-1zM21 6h1v1h-1zM45 15h1v1h-1zM52 28h1v1h-1zM70 61h1v1h-1zM70 44h1v1h-1zM50 30h1v1h-1zM67 9h1v1h-1zM45 25h1v1h-1zM75 17h1v1h-1zM35 44h1v1h-1zM74 27h1v1h-1zM73 47h1v1h-1zM7 66h1v1h-1zM47 58h1v1h-1zM26 52h1v1h-1zM6 26h1v1h-1zM61 17h1v1h-1zM1 16h1v1h-1zM30 10h1v1h-1zM9 39h1v1h-1zM23 59h1v1h-1zM47 76h1v1h-1zM8 36h1v1h-1zM5 32h1v1h-1zM18 14h1v1h-1zM46 54h1v1h-1zM28 61h1v1h-1zM30 3h1v1h-1zM27 72h1v1h-1zM19 17h1v1h-1zM76 13h1v1h-1zM6 45h1v1h-1zM36 75h1v1h-1zM12 41h1v1h-1zM41 11h1v1h-1zM33 68h1v1h-1zM0 26h1v1h-1zM76 69h1v1h-1zM31 9h1v1h-1zM38 33h1v1h-1zM7 73h1v1h-1zM56 62h1v1h-1zM53 34h1v1h-1zM69 36h1v1h-1zM11 21h1v1h-1zM10 8h1v1h-1zM59 5h1v1h-1zM23 15h1v1h-1zM6 55h1v1h-1zM14 46h1v1h-1zM77 34h1v1h-1zM28 44h1v1h-1zM1 8h1v1h-1zM11 75h1v1h-1zM73 64h1v1h-1zM52 64h1v1h-1zM67 26h1v1h-1zM46 25h1v1h-1zM48 51h1v1h-1zM75 40h1v1h-1zM76 72h1v1h-1zM55 6h1v1h-1zM37 14h1v1h-1zM28 62h1v1h-1zM18 32h1v1h-1zM57 72h1v1h-1zM62 50h1v1h-1zM42 32h1v1h-1zM64 18h1v1h-1zM58 41h1v1h-1zM1 58h1v1h-1zM7 55h1v1h-1zM50 29h1v1h-1zM57 62h1v1h-1zM44 74h1v1h-1zM29 27h1v1h-1zM24 1h1v1h-1zM36 53h1v1h-1zM12 42h1v1h-1zM69 19h1v1h-1zM67 26h1v1h-1zM71 22h1v1h-1zM52 51h1v1h-1zM4 9h1v1h-1zM42 55h1v1h-1zM51 45h1v1h-1zM24 45h1v1h-1zM66 39h1v1h-1zM38 35h1v1h-1zM53 49h1v1h-1zM72 47h1v1h-1zM76 44h1v1h-1zM60 36h1v1h-1zM55 37h1v1h-1zM0 58h1v1h-1zM36 38h1v1h-1zM57 25h1v1h-1zM28 46h1v1h-1zM65 50h1v1h-1zM21 3h1v1h-1zM9 32h1v1h-1zM0 65h1v1h-1zM68 70h1v1h-1zM42 41h1v1h-1zM35 48h1v1h-1zM51 61h1v1h-1zM76 23h1v1h-1zM37 25h1v1h-1zM28 36h1v1h-1zM67 63h1v1h-1zM12 53h1v1h-1zM25 17h1v1h-1zM51 26h1v1h-1zM75 73h1v1h-1zM34 2h1v1h-1zM27 12h1v1h-1zM36 5h1v1h-1zM16 55h1v1h-1zM6 36h1v1h-1zM21 34h1v1h-1zM44 4h1v1h-1zM45 27h1v1h-1zM31 48h1v1h-1zM20 14h1v1h-1zM19 3h1v1h-1zM45 70h1v1h-1zM5 16h1v1h-1zM11 28h1v1h-1zM21 14h1v1h-1zM69 4h1v1h-1zM17 58h1v1h-1zM31 18h1v1h-1zM2 51h1v1h-1zM6 16h1v1h-1zM69 68h1v1h-1zM19 14h1v1h-1zM45 33h1v1h-1zM40 57h1v1h-1zM61 70h1v1h-1zM72 44h1v1h-1zM48 69h1v1h-1zM34 64h1v1h-1zM66 45h1v1h-1zM69 24h1v1h-1zM54 4h1v1h-1zM75 14h1v1h-1zM74 29h1v1h-1zM37 9h1v1h-1zM34 27h1v1h-1zM25 14h1v1h-1zM49 57h1v1h-1zM16 34h1v1h-1zM26 11h1v1h-1zM23 63h1v1h-1zM76 76h1v1h-1zM9 12h1v1h-1zM70 35h1v1h-1zM42 53h1v1h-1zM34 23h1v1h-1zM65 8h1v1h-1zM64 47h1v1h-1zM39 17h1v1h-1zM26 60h1v1h-1zM52 35h1v1h-1zM69 61h1v1h-1zM44 8h1v1h-1zM17 70h1v1h-1zM54 32h1v1h-1zM5 21h1v1h-1zM52 28h1v1h-1zM64 10h1v1h-1zM79 75h1v1h-1zM9 47h1v1h-1zM10 70h1v1h-1zM37 42h1v1h-1zM20 22h1v1h-1zM3 63h1v1h-1zM22 56h1v1h-1zM61 26h1v1h-1zM40 3h1v1h-1zM4 19h1v1h-1zM1 1h1v1h-1zM64 42h1v1h-1zM26 43h1v1h-1zM61 29h1v1h-1zM43 8h1v1h-1zM72 3h1v1h-1zM43 5h1v1h-1zM61 15h1v1h-1zM43 45h1v1h-1zM57 25h1v1h-1zM26 26h1v1h-1zM54 12h1v1h-1zM3 19h1v1h-1zM71 9h1v1h-1zM61 73h1v1h-1zM71 19h1v1h-1zM57 46h1v1h-1zM23 55h1v1h-1zM56 45h1v1h-1zM55 58h1v1h-1zM45 76h1v1h-1zM61 74h1v1h-1zM64 11h1v1h-1zM73 59h1v1h-1zM73 26h1v1h-1zM55 5h1v1h-1zM17 21h1v1h-1zM52 17h1v1h-1zM37 58h1v1h-1zM74 64h1v1h-1zM40 15h1v1h-1zM15 51h1v1h-1zM45 64h1v1h-1zM46 29h1v1h-1zM51 7h1v1h-1zM29 74h1v1h-1zM61 27h1v1h-1zM14 36h1v1h-1zM9 19h1v1h-1zM78 13h1v1h-1zM45 3h1v1h-1zM35 25h1v1h-1zM12 6h1v1h-1zM36 57h1v1h-1zM77 46h1v1h-1zM78 10h1v1h-1zM34 9h1v1h-1zM58 29h1v1h-1zM56 14h1v1h-1zM78 23h1v1h-1zM45 43h1v1h-1zM46 4h1v1h-1zM26 6h1v1h-1zM44 28h1v1h-1zM60 18h1v1h-1zM66 34h1v1h-1zM38 17h1v1h-1zM14 47h1v1h-1zM21 24h1v1h-1zM72 74h1v1h-1zM14 25h1v1h-1zM34 41h1v1h-1zM41 52h1v1h-1zM57 2h1v1h-1zM25 15h1v1h-1zM29 25h1v1h-1zM20 43h1v1h-1zM52 75h1v1h-1zM17 28h1v1h-1zM27 57h1v1h-1zM79 33h1v1h-1zM71 35h1v1h-1zM45 50h1v1h-1zM15 51h1v1h-1zM24 48h1v1h-1zM53 19h1v1h-1zM76 12h1v1h-1zM3 46h1v1h-1zM71 50h1v1h-1zM19 17h1v1h-1zM64 58h1v1h-1zM27 55h1v1h-1zM16 52h1v1h-1zM12 5h1v1h-1zM68 53h1v1h-1zM25 43h1v1h-1zM42 49h1v1h-1zM31 63h1v1h-1zM8 26h1v1h-1zM70 35h1v1h-1zM38 24h1v1h-1zM57 4h1v1h-1zM54 10h1v1h-1zM0 74h1v1h-1zM69 48h1v1h-1zM47 73h1v1h-1zM45 27h1v1h-1zM36 27h1v1h-1zM31 67h1v1h-1zM35 56h1v1h-1zM69 64h1v1h-1zM49 71h1v1h-1zM19 20h1v1h-1zM7 39h1v1h-1zM66 14h1v1h-1zM74 49h1v1h-1zM42 43h1v1h-1zM78 35h1v1h-1zM59 8h1v1h-1zM45 8h1v1h-1zM5 26h1v1h-1zM28 11h1v1h-1zM27 5h1v1h-1zM64 24h1v1h-1zM39 76h1v1h-1zM0 17h1v1h-1zM78 31h1v1h-1zM11 3h1v1h-1zM7 13h1v1h-1zM50 7h1v1h-1zM69 55h1v1h-1zM9 72h1v1h-1zM33 29h1v1h-1zM9 30h1v1h-1zM74 12h1v1h-1zM66 61h1v1h-1zM76 64h1v1h-1zM12 23h1v1h-1zM73 44h1v1h-1zM22 45h1v1h-1zM27 12h1v1h-1zM18 45h1v1h-1zM79 74h1v1h-1zM60 30h1v1h-1zM45 10h1v1h-1zM78 15h1v1h-1zM0 19h1v1h-1zM1 76h1v1h-1zM50 10h1v1h-1zM39 40h1v1h-1zM41 29h1v1h-1zM59 29h1v1h-1zM10 11h1v1h-1zM43 58h1v1h-1zM53 64h1v1h-1zM57 71h1v1h-1zM70 24h1v1h-1zM5 16h1v1h-1zM63 34h1v1h-1zM28 25h1v1h-1zM28 18h1v1h-1zM40 26h1v1h-1zM50 30h1v1h-1zM57 32h1v1h-1zM21 17h1v1h-1zM43 63h1v1h-1zM28 46h1v1h-1zM50 19h1v1h-1zM53 53h1v1h-1zM16 49h1v1h-1zM48 62h1v1h-1zM73 30h1v1h-1zM55 20h1v1h-1zM39 6h1v1h-1zM6 11h1v1h-1zM6 31h1v1h-1zM53 52h1v1h-1zM65 40h1v1h-1zM65 12h1v1h-1zM52 36h1v1h-1zM40 55h1v1h-1zM56 76h1v1h-1zM70 16h1v1h-1zM24 9h1v1h-1zM41 58h1v1h-1zM5 33h1v1h-1zM70 25h1v1h-1zM59 31h1v1h-1zM25 13h1v1h-1zM73 42h1v1h-1zM76 6h1v1h-1zM50 44h1v1h-1zM78 67h1v1h-1zM31 16h1v1h-1zM76 63h1v1h-1zM19 20h1v1h-1zM40 15h1v1h-1zM67 17h1v1h-1zM43 8h1v1h-1zM54 15h1v1h-1zM79 6h1v1h-1zM70 28h1v1h-1zM12 74h1v1h-1zM63 13h1v1h-1zM61 30h1v1h-1zM20 64h1v1h-1zM26 11h1v1h-1zM75 56h1v1h-1zM35 76h1v1h-1zM32 32h1v1h-1zM71 58h1v1h-1zM41 50h1v1h-1zM46 71h1v1h-1zM78 73h1v1h-1z" fill="#fff"/></pattern><radialGradient id="gc" cx="1185" cy="1080" r="130" gradientUnits="userSpaceOnUse" gradientTransform="translate(1185 1080) scale(1 0.9) translate(-1185 -1080)"><stop offset="0.55" stop-color="#000"/><stop offset="1" stop-color="#fff"/></radialGradient><mask id="mc" maskUnits="userSpaceOnUse" x="0" y="0" width="1500" height="1368"><rect x="841" y="994" width="655" height="155" fill="url(#gc)"/></mask></defs><clipPath id="clb"><rect x="68" y="994.5" width="655.5" height="153.5"/></clipPath><g clip-path="url(#clb)"><rect x="68" y="994.5" width="655.5" height="153.5" fill="#fff"/><rect x="68" y="994.5" width="655.5" height="153.5" fill="url(#patb)"/></g><rect x="68" y="994.5" width="655.5" height="153.5" fill="none" stroke="#111" stroke-width="1.6"/><clipPath id="clc"><rect x="841" y="994.5" width="654" height="153.5"/></clipPath><g clip-path="url(#clc)"><rect x="841" y="994.5" width="654" height="153.5" fill="#fff"/><rect x="841" y="994.5" width="654" height="153.5" fill="url(#patc)"/><rect x="841" y="994.5" width="654" height="153.5" fill="url(#patc2)" mask="url(#mc)"/><path d="M1126,997 C1129.0,996.7 1135.0,995.2 1144,995 C1153.0,994.8 1170.7,995.3 1180,996 C1189.3,996.7 1193.3,997.2 1200,999 C1206.7,1000.8 1213.3,1004.3 1220,1007 C1226.7,1009.7 1236.2,1010.3 1240,1015 C1243.8,1019.7 1242.7,1027.3 1243,1035 C1243.3,1042.7 1243.2,1054.8 1242,1061 C1240.8,1067.2 1242.0,1069.7 1236,1072 C1230.0,1074.3 1213.3,1076.2 1206,1075 C1198.7,1073.8 1196.3,1065.7 1192,1065 C1187.7,1064.3 1184.7,1070.0 1180,1071 C1175.3,1072.0 1168.7,1072.7 1164,1071 C1159.3,1069.3 1154.7,1065.3 1152,1061 C1149.3,1056.7 1150.0,1050.3 1148,1045 C1146.0,1039.7 1143.3,1034.0 1140,1029 C1136.7,1024.0 1130.7,1019.3 1128,1015 C1125.3,1010.7 1124.3,1006.0 1124,1003 C1123.7,1000.0 1125.7,998.0 1126,997Z" fill="#fff"/><path d="M1126,997 C1129.0,996.7 1135.0,995.2 1144,995 C1153.0,994.8 1170.7,995.3 1180,996 C1189.3,996.7 1193.3,997.2 1200,999 C1206.7,1000.8 1213.3,1004.3 1220,1007 C1226.7,1009.7 1236.2,1010.3 1240,1015 C1243.8,1019.7 1242.7,1027.3 1243,1035 C1243.3,1042.7 1243.2,1054.8 1242,1061 C1240.8,1067.2 1242.0,1069.7 1236,1072 C1230.0,1074.3 1213.3,1076.2 1206,1075 C1198.7,1073.8 1196.3,1065.7 1192,1065 C1187.7,1064.3 1184.7,1070.0 1180,1071 C1175.3,1072.0 1168.7,1072.7 1164,1071 C1159.3,1069.3 1154.7,1065.3 1152,1061 C1149.3,1056.7 1150.0,1050.3 1148,1045 C1146.0,1039.7 1143.3,1034.0 1140,1029 C1136.7,1024.0 1130.7,1019.3 1128,1015 C1125.3,1010.7 1124.3,1006.0 1124,1003 C1123.7,1000.0 1125.7,998.0 1126,997Z" fill="url(#patblob)"/><path d="M1132,1130 C1133.7,1128.7 1138.0,1123.0 1142,1122 C1146.0,1121.0 1152.0,1122.0 1156,1124 C1160.0,1126.0 1163.7,1130.0 1166,1134 C1168.3,1138.0 1176.3,1145.7 1170,1148 C1163.7,1150.3 1134.3,1151.0 1128,1148 C1121.7,1145.0 1131.3,1133.0 1132,1130Z" fill="#fff"/><path d="M1132,1130 C1133.7,1128.7 1138.0,1123.0 1142,1122 C1146.0,1121.0 1152.0,1122.0 1156,1124 C1160.0,1126.0 1163.7,1130.0 1166,1134 C1168.3,1138.0 1176.3,1145.7 1170,1148 C1163.7,1150.3 1134.3,1151.0 1128,1148 C1121.7,1145.0 1131.3,1133.0 1132,1130Z" fill="url(#patb)"/><path d="M1204,1074 C1207.0,1073.0 1216.3,1069.0 1222,1068 C1227.7,1067.0 1234.2,1066.0 1238,1068 C1241.8,1070.0 1244.0,1075.3 1245,1080 C1246.0,1084.7 1246.5,1092.5 1244,1096 C1241.5,1099.5 1235.3,1100.7 1230,1101 C1224.7,1101.3 1216.7,1100.0 1212,1098 C1207.3,1096.0 1203.3,1093.0 1202,1089 C1200.7,1085.0 1203.7,1076.5 1204,1074Z" fill="url(#patblob)" fill-opacity="0.72"/></g><rect x="841" y="994.5" width="654" height="153.5" fill="none" stroke="#111" stroke-width="1.6"/><clipPath id="cld"><rect x="68" y="1187.5" width="655.5" height="152.5"/></clipPath><g clip-path="url(#cld)"><rect x="68" y="1187.5" width="655.5" height="152.5" fill="#fff"/><rect x="68" y="1187.5" width="655.5" height="152.5" fill="url(#patd)"/><path d="M254.7,1214.7 C257.0,1213.0 262.1,1206.0 268.5,1204.3 C274.9,1202.6 285.9,1202.8 292.8,1204.3 C299.7,1205.8 304.8,1212.1 310,1213 C315.2,1213.9 318.2,1211.2 324,1209.5 C329.8,1207.8 339.0,1204.2 344.8,1202.5 C350.6,1200.8 354.0,1199.9 358.6,1199 C363.2,1198.1 367.9,1195.8 372.5,1197.3 C377.1,1198.8 382.6,1203.9 386.4,1207.7 C390.1,1211.5 392.4,1215.0 395,1219.9 C397.6,1224.8 401.4,1232.3 402,1237.2 C402.6,1242.1 399.9,1243.8 398.5,1249.3 C397.1,1254.8 395.1,1263.6 393.3,1270 C391.6,1276.4 390.9,1281.7 388,1287.5 C385.1,1293.3 379.2,1299.9 376,1304.8 C372.8,1309.7 373.1,1314.7 369,1317 C364.9,1319.3 356.9,1317.5 351.7,1318.6 C346.5,1319.7 343.0,1323.5 337.8,1323.8 C332.6,1324.1 325.1,1323.3 320.5,1320.4 C315.9,1317.5 314.6,1311.4 310,1306.5 C305.4,1301.6 298.6,1295.6 292.8,1291 C287.1,1286.4 280.1,1283.4 275.5,1278.8 C270.9,1274.2 267.9,1268.7 265,1263.2 C262.1,1257.7 259.9,1251.4 258,1245.9 C256.1,1240.4 254.4,1235.5 253.8,1230.3 C253.2,1225.1 254.5,1217.3 254.7,1214.7Z" fill="#fff"/><path d="M254.7,1214.7 C257.0,1213.0 262.1,1206.0 268.5,1204.3 C274.9,1202.6 285.9,1202.8 292.8,1204.3 C299.7,1205.8 304.8,1212.1 310,1213 C315.2,1213.9 318.2,1211.2 324,1209.5 C329.8,1207.8 339.0,1204.2 344.8,1202.5 C350.6,1200.8 354.0,1199.9 358.6,1199 C363.2,1198.1 367.9,1195.8 372.5,1197.3 C377.1,1198.8 382.6,1203.9 386.4,1207.7 C390.1,1211.5 392.4,1215.0 395,1219.9 C397.6,1224.8 401.4,1232.3 402,1237.2 C402.6,1242.1 399.9,1243.8 398.5,1249.3 C397.1,1254.8 395.1,1263.6 393.3,1270 C391.6,1276.4 390.9,1281.7 388,1287.5 C385.1,1293.3 379.2,1299.9 376,1304.8 C372.8,1309.7 373.1,1314.7 369,1317 C364.9,1319.3 356.9,1317.5 351.7,1318.6 C346.5,1319.7 343.0,1323.5 337.8,1323.8 C332.6,1324.1 325.1,1323.3 320.5,1320.4 C315.9,1317.5 314.6,1311.4 310,1306.5 C305.4,1301.6 298.6,1295.6 292.8,1291 C287.1,1286.4 280.1,1283.4 275.5,1278.8 C270.9,1274.2 267.9,1268.7 265,1263.2 C262.1,1257.7 259.9,1251.4 258,1245.9 C256.1,1240.4 254.4,1235.5 253.8,1230.3 C253.2,1225.1 254.5,1217.3 254.7,1214.7Z" fill="url(#patblob)"/></g><rect x="68" y="1187.5" width="655.5" height="152.5" fill="none" stroke="#111" stroke-width="1.6"/><clipPath id="cle"><rect x="841" y="1187.5" width="654" height="152.5"/></clipPath><g clip-path="url(#cle)"><rect x="841" y="1187.5" width="654" height="152.5" fill="#fff"/><rect x="841" y="1187.5" width="654" height="152.5" fill="url(#pate)"/><path d="M1060,1186 C1084.7,1186.0 1183.0,1183.6 1208,1186 C1233.0,1188.4 1209.1,1193.8 1209.8,1200.6 C1210.5,1207.4 1211.3,1217.5 1212,1227 C1212.7,1236.5 1212.5,1250.8 1214,1257.8 C1215.5,1264.8 1217.5,1265.9 1220.8,1268.8 C1224.1,1271.7 1230.0,1272.9 1234,1275.4 C1238.0,1277.9 1243.5,1280.3 1245,1284 C1246.5,1287.7 1245.4,1293.0 1242.8,1297.4 C1240.2,1301.8 1234.7,1305.5 1229.6,1310.6 C1224.5,1315.7 1215.7,1322.8 1212,1328 C1208.3,1333.2 1233.3,1339.7 1207.6,1342 C1181.9,1344.3 1083.3,1342.8 1058,1342 C1032.7,1341.2 1057.3,1340.0 1055.8,1337 C1054.3,1334.0 1051.4,1328.2 1049.2,1323.8 C1047.0,1319.4 1044.4,1315.7 1042.6,1310.6 C1040.8,1305.5 1038.2,1298.9 1038.2,1293 C1038.2,1287.1 1040.0,1280.5 1042.6,1275.4 C1045.2,1270.3 1048.8,1266.6 1053.6,1262.2 C1058.4,1257.8 1065.3,1254.1 1071.2,1249 C1077.1,1243.9 1084.4,1236.2 1088.8,1231.4 C1093.2,1226.6 1098.3,1222.6 1097.6,1220.4 C1096.9,1218.2 1089.5,1219.3 1084.4,1218.2 C1079.3,1217.1 1070.5,1216.7 1066.8,1213.8 C1063.1,1210.9 1063.5,1205.2 1062.4,1200.6 C1061.3,1196.0 1060.4,1188.4 1060,1186Z" fill="#fff"/><path d="M1060,1186 C1084.7,1186.0 1183.0,1183.6 1208,1186 C1233.0,1188.4 1209.1,1193.8 1209.8,1200.6 C1210.5,1207.4 1211.3,1217.5 1212,1227 C1212.7,1236.5 1212.5,1250.8 1214,1257.8 C1215.5,1264.8 1217.5,1265.9 1220.8,1268.8 C1224.1,1271.7 1230.0,1272.9 1234,1275.4 C1238.0,1277.9 1243.5,1280.3 1245,1284 C1246.5,1287.7 1245.4,1293.0 1242.8,1297.4 C1240.2,1301.8 1234.7,1305.5 1229.6,1310.6 C1224.5,1315.7 1215.7,1322.8 1212,1328 C1208.3,1333.2 1233.3,1339.7 1207.6,1342 C1181.9,1344.3 1083.3,1342.8 1058,1342 C1032.7,1341.2 1057.3,1340.0 1055.8,1337 C1054.3,1334.0 1051.4,1328.2 1049.2,1323.8 C1047.0,1319.4 1044.4,1315.7 1042.6,1310.6 C1040.8,1305.5 1038.2,1298.9 1038.2,1293 C1038.2,1287.1 1040.0,1280.5 1042.6,1275.4 C1045.2,1270.3 1048.8,1266.6 1053.6,1262.2 C1058.4,1257.8 1065.3,1254.1 1071.2,1249 C1077.1,1243.9 1084.4,1236.2 1088.8,1231.4 C1093.2,1226.6 1098.3,1222.6 1097.6,1220.4 C1096.9,1218.2 1089.5,1219.3 1084.4,1218.2 C1079.3,1217.1 1070.5,1216.7 1066.8,1213.8 C1063.1,1210.9 1063.5,1205.2 1062.4,1200.6 C1061.3,1196.0 1060.4,1188.4 1060,1186Z" fill="url(#patblob)"/></g><rect x="841" y="1187.5" width="654" height="152.5" fill="none" stroke="#111" stroke-width="1.6"/></svg>
<svg width="1500" height="1368" style="position:absolute;left:0;top:0"><g transform="matrix(0.831 0 0 1.0172 -245.17 -245.57)"><text x="300" y="300" font-family="Liberation Sans" font-weight="bold" font-size="56" fill="#000">a</text></g><g transform="matrix(0.99 0 0 1.017 -234.68 -252.5)"><text x="300" y="300" font-family="Liberation Sans" font-weight="normal" font-size="33" fill="#000">5000</text></g><g transform="matrix(0.99 0 0 1.017 -234.68 -87.5)"><text x="300" y="300" font-family="Liberation Sans" font-weight="normal" font-size="33" fill="#000">4000</text></g><g transform="matrix(0.99 0 0 1.017 -234.68 77.5)"><text x="300" y="300" font-family="Liberation Sans" font-weight="normal" font-size="33" fill="#000">3000</text></g><g transform="matrix(0.99 0 0 1.017 -234.68 242.5)"><text x="300" y="300" font-family="Liberation Sans" font-weight="normal" font-size="33" fill="#000">2000</text></g><g transform="matrix(0.99 0 0 1.017 -234.68 407.5)"><text x="300" y="300" font-family="Liberation Sans" font-weight="normal" font-size="33" fill="#000">1000</text></g><g transform="matrix(0.99 0 0 1.017 -180.23 572.5)"><text x="300" y="300" font-family="Liberation Sans" font-weight="normal" font-size="33" fill="#000">0</text></g><g transform="matrix(0.99 0 0 1.017 49.53 603.2)"><text x="300" y="300" font-family="Liberation Sans" font-weight="normal" font-size="33" fill="#000">0.5</text></g><g transform="matrix(0.99 0 0 1.017 359.1 603.2)"><text x="300" y="300" font-family="Liberation Sans" font-weight="normal" font-size="33" fill="#000">1</text></g><g transform="matrix(0.99 0 0 1.017 656.1 603.2)"><text x="300" y="300" font-family="Liberation Sans" font-weight="normal" font-size="33" fill="#000">2</text></g><g transform="matrix(0.99 0 0 1.017 954.09 603.2)"><text x="300" y="300" font-family="Liberation Sans" font-weight="normal" font-size="33" fill="#000">4</text></g><g transform="matrix(1.0333 0 0 1.0171 -246.4 180.94)"><text x="300" y="300" font-family="Liberation Sans" font-weight="normal" font-size="64" fill="#000" transform="rotate(-90 300 300)">Pe</text></g><g transform="matrix(1.0783 0 0 1.0065 412.49 660.66)"><text x="300" y="300" font-family="Liberation Serif" font-weight="normal" font-size="66" fill="#000">&#949;</text></g><g transform="matrix(1.015 0 0 0.9806 28.44 -168.97)"><text x="300" y="300" font-family="Liberation Sans" font-weight="normal" font-size="50" fill="#000">Binodal</text></g><g transform="matrix(1.1176 0 0 1.0085 1058.49 -247.85)"><text x="300" y="300" font-family="Liberation Sans" font-weight="normal" font-size="65" fill="#000">f</text></g><g transform="matrix(1.025 0 0 1.0161 1104.22 -232.04)"><text x="300" y="300" font-family="Liberation Sans" font-weight="normal" font-size="43" fill="#000">l</text></g><g transform="matrix(1.0 0 0 0.99 1162.1 -142.09)"><text x="300" y="300" font-family="Liberation Sans" font-weight="normal" font-size="25" fill="#000">1</text></g><g transform="matrix(1.0 0 0 0.99 1160.9 -76.21)"><text x="300" y="300" font-family="Liberation Sans" font-weight="normal" font-size="25" fill="#000">0.9</text></g><g transform="matrix(1.0 0 0 0.99 1160.9 -10.33)"><text x="300" y="300" font-family="Liberation Sans" font-weight="normal" font-size="25" fill="#000">0.8</text></g><g transform="matrix(1.0 0 0 0.99 1160.9 55.55)"><text x="300" y="300" font-family="Liberation Sans" font-weight="normal" font-size="25" fill="#000">0.7</text></g><g transform="matrix(1.0 0 0 0.99 1160.9 121.43)"><text x="300" y="300" font-family="Liberation Sans" font-weight="normal" font-size="25" fill="#000">0.6</text></g><g transform="matrix(1.0 0 0 0.99 1160.9 187.31)"><text x="300" y="300" font-family="Liberation Sans" font-weight="normal" font-size="25" fill="#000">0.5</text></g><g transform="matrix(1.0 0 0 0.99 1160.9 253.19)"><text x="300" y="300" font-family="Liberation Sans" font-weight="normal" font-size="25" fill="#000">0.4</text></g><g transform="matrix(1.0 0 0 0.99 1160.9 319.07)"><text x="300" y="300" font-family="Liberation Sans" font-weight="normal" font-size="25" fill="#000">0.3</text></g><g transform="matrix(1.0 0 0 0.99 1160.9 384.95)"><text x="300" y="300" font-family="Liberation Sans" font-weight="normal" font-size="25" fill="#000">0.2</text></g><g transform="matrix(1.0 0 0 0.99 1160.9 450.83)"><text x="300" y="300" font-family="Liberation Sans" font-weight="normal" font-size="25" fill="#000">0.1</text></g><g transform="matrix(1.0 0 0 0.99 1160.9 516.71)"><text x="300" y="300" font-family="Liberation Sans" font-weight="normal" font-size="25" fill="#000">0</text></g><g transform="matrix(0.9324 0 0 1.0 327.63 154.3)"><text x="300" y="300" font-family="Liberation Sans" font-weight="bold" font-size="68" fill="#00e673">b</text></g><g transform="matrix(0.797 0 0 0.9972 621.82 172.43)"><text x="300" y="300" font-family="Liberation Sans" font-weight="bold" font-size="68" fill="#00e673">c</text></g><g transform="matrix(0.9471 0 0 0.996 703.84 173.5)"><text x="300" y="300" font-family="Liberation Sans" font-weight="bold" font-size="68" fill="#00e673">d</text></g><g transform="matrix(0.9781 0 0 0.9972 992.63 160.73)"><text x="300" y="300" font-family="Liberation Sans" font-weight="bold" font-size="68" fill="#00e673">e</text></g><g transform="matrix(0.9821 0 0 1.0325 -291.87 711.15)"><text x="300" y="300" font-family="Liberation Sans" font-weight="bold" font-size="56" fill="#000">b</text></g><g transform="matrix(0.8556 0 0 1.0414 523.52 708.79)"><text x="300" y="300" font-family="Liberation Sans" font-weight="bold" font-size="56" fill="#000">c</text></g><g transform="matrix(0.9607 0 0 1.02 -284.04 893.8)"><text x="300" y="300" font-family="Liberation Sans" font-weight="bold" font-size="56" fill="#000">d</text></g><g transform="matrix(1.0037 0 0 1.0414 478.78 880.79)"><text x="300" y="300" font-family="Liberation Sans" font-weight="bold" font-size="56" fill="#000">e</text></g><g transform="matrix(1.0318 0 0 1.0368 -261.85 770.98)"><text x="300" y="300" font-family="Liberation Sans" font-weight="normal" font-size="31.5" fill="#000" transform="rotate(-90 300 300)">Y</text></g><g transform="matrix(1.0773 0 0 1.0737 497.72 760.37)"><text x="300" y="300" font-family="Liberation Sans" font-weight="normal" font-size="31.5" fill="#000" transform="rotate(-90 300 300)">Y</text></g><g transform="matrix(1.0318 0 0 1.0105 -261.65 971.25)"><text x="300" y="300" font-family="Liberation Sans" font-weight="normal" font-size="31.5" fill="#000" transform="rotate(-90 300 300)">Y</text></g><g transform="matrix(1.0773 0 0 1.0105 497.72 971.25)"><text x="300" y="300" font-family="Liberation Sans" font-weight="normal" font-size="31.5" fill="#000" transform="rotate(-90 300 300)">Y</text></g><g transform="matrix(0.9842 0 0 1.0273 88.95 866.82)"><text x="300" y="300" font-family="Liberation Sans" font-weight="normal" font-size="31.5" fill="#000">X</text></g><g transform="matrix(0.9842 0 0 1.0273 859.25 866.82)"><text x="300" y="300" font-family="Liberation Sans" font-weight="normal" font-size="31.5" fill="#000">X</text></g><g transform="matrix(1.0105 0 0 1.0364 79.83 1057.09)"><text x="300" y="300" font-family="Liberation Sans" font-weight="normal" font-size="31.5" fill="#000">X</text></g><g transform="matrix(1.0105 0 0 1.0364 851.33 1057.09)"><text x="300" y="300" font-family="Liberation Sans" font-weight="normal" font-size="31.5" fill="#000">X</text></g></svg>
</body></html>
